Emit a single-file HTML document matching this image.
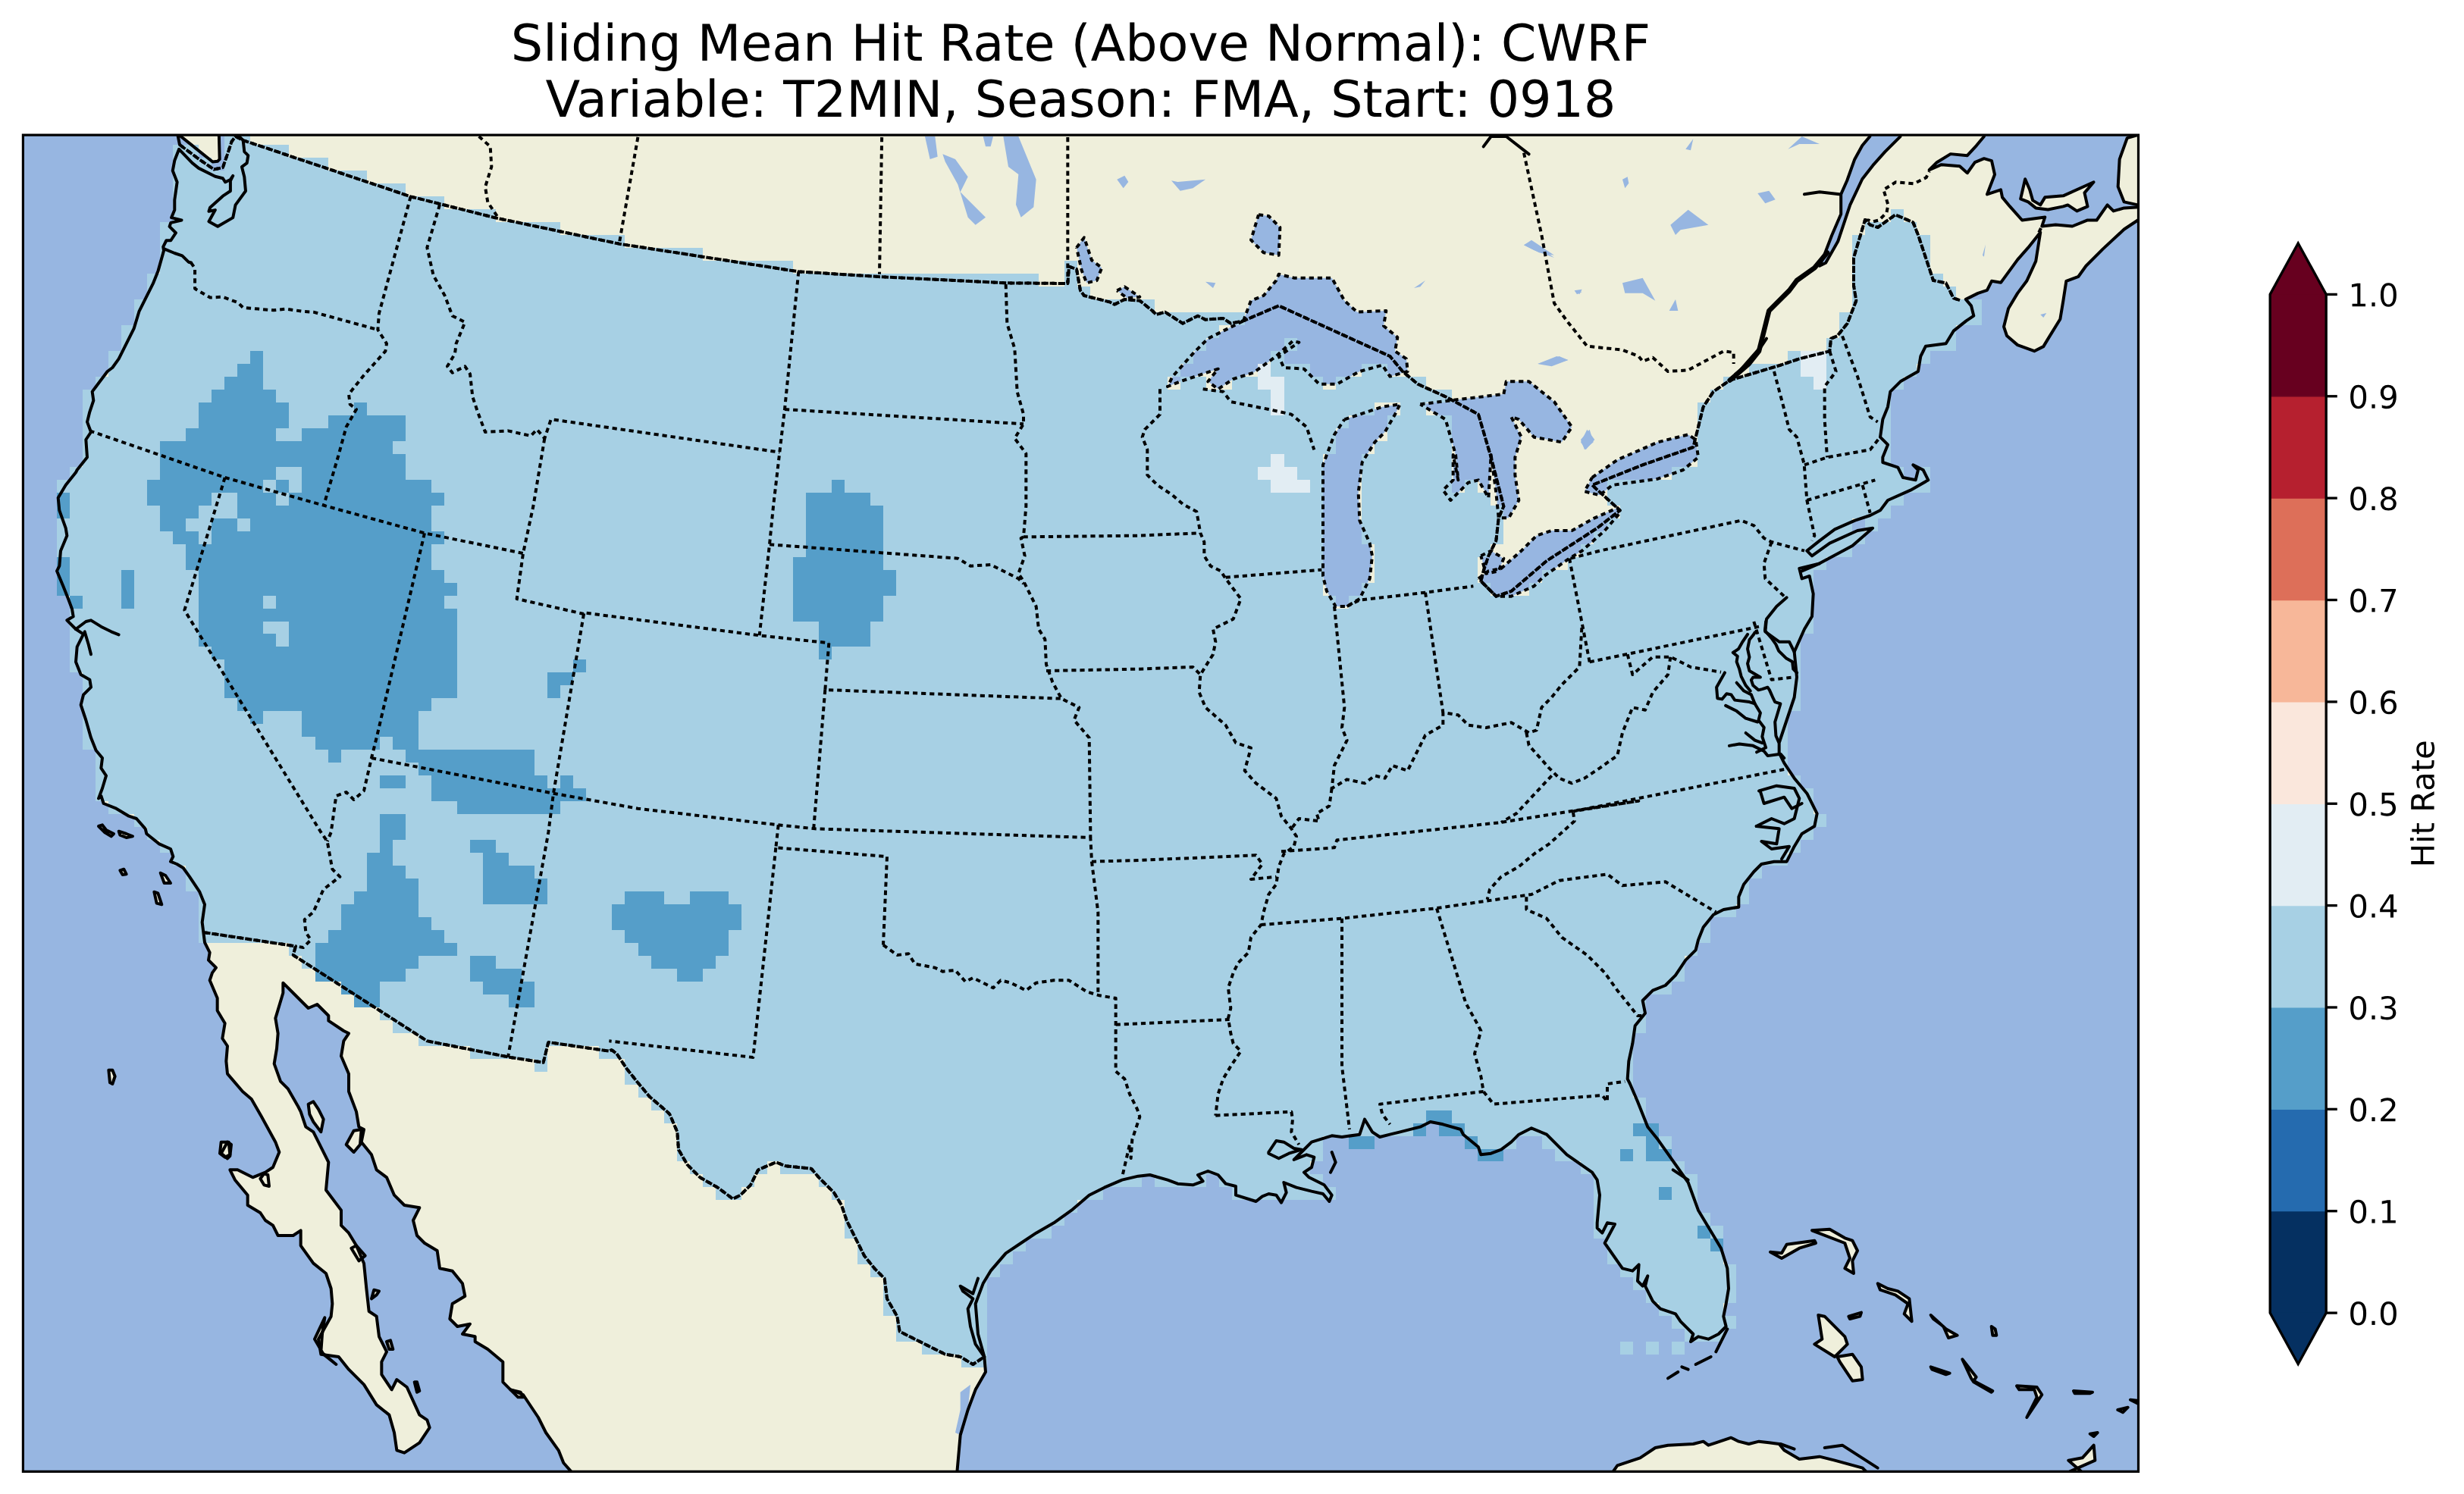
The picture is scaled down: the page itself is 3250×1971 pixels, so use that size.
<!DOCTYPE html>
<html><head><meta charset="utf-8"><style>html,body{margin:0;padding:0;background:#fff;overflow:hidden;font-family:"Liberation Sans",sans-serif;}svg{display:block}</style></head><body>
<svg xmlns:xlink="http://www.w3.org/1999/xlink" width="3250" height="1971" viewBox="0 0 780 473.04" xmlns="http://www.w3.org/2000/svg" version="1.1">
 
 <defs>
  <style type="text/css">*{stroke-linejoin: round; stroke-linecap: butt}</style>
 </defs>
 <g id="figure_1">
  <g id="patch_1">
   <path d="M 0 473.04 
L 780 473.04 
L 780 0 
L 0 0 
z
" style="fill: #ffffff"/>
  </g>
  <g id="axes_1">
   <g id="patch_2">
    <path d="M 7.296 42.768 
L 676.92 42.768 
L 676.92 465.912 
L 7.296 465.912 
L 7.296 42.768 
z
" clip-path="url(#p477be52f25)" style="fill: none"/>
   </g>
   <g id="patch_3">
    <path d="M 7.296 42.768 
L 676.92 42.768 
L 676.92 465.912 
L 7.296 465.912 
z
" clip-path="url(#p477be52f25)" style="fill: #97b6e1"/>
   </g>
   <g id="patch_4">
    <path d="M -48 -48 
L 75.744 24 
L 75.749398 43.209639 
L 76.954217 44.414458 
L 77.355823 48.028916 
L 78.560643 49.233735 
L 78.159036 51.643373 
L 76.55261 52.848193 
L 77.355823 56.061044 
L 77.75743 60.478715 
L 74.544578 64.896386 
L 73.741365 68.91245 
L 68.922088 71.723695 
L 66.110843 70.117269 
L 68.118876 66.502811 
L 66.110843 66.904418 
L 66.51245 65.699598 
L 70.528514 62.085141 
L 72.938153 60.478715 
L 72.938153 57.265863 
L 73.741365 55.659438 
L 72.938153 56.864257 
L 71.331727 57.66747 
L 70.528514 56.462651 
L 68.118876 55.860241 
L 62.897992 53.249799 
L 60.88996 51.643373 
L 56.673092 47.225703 
L 56.673092 47.225703 
L 55.26747 50.840161 
L 54.66506 54.053012 
L 56.070683 57.66747 
L 55.26747 63.28996 
L 55.26747 66.502811 
L 54.263454 68.91245 
L 57.476305 69.715663 
L 54.062651 70.518876 
L 53.661044 71.723695 
L 55.669076 73.731727 
L 54.062651 76.141365 
L 52.657028 76.141365 
L 51.653012 78.149398 
L 51.853815 79.354217 
L 50.046586 85.77992 
L 48.440161 89.795984 
L 44.02249 98.631325 
L 42.4 104 
L 37.6 113.6 
L 35.6 116.4 
L 34 117.6 
L 30.4 122.4 
L 29.2 124 
L 29.6 126.8 
L 28.4 130.4 
L 27.6 133.6 
L 28.8 136.8 
L 27.2 139.2 
L 27.6 144.8 
L 24.4 148.8 
L 24 149.6 
L 20.8 153.6 
L 18.4 157.6 
L 18.8 161.6 
L 20.8 167.2 
L 21.2 169.6 
L 19.2 174.4 
L 18.8 179.2 
L 18 180.8 
L 20 185.6 
L 21.6 189.6 
L 22.8 192.8 
L 23.2 195.2 
L 21.2 196.4 
L 24 199.2 
L 26.4 200.8 
L 24.4 204.8 
L 24 209.6 
L 25.6 213.6 
L 28.4 215.2 
L 28.8 217.6 
L 26.4 220 
L 25.6 223.2 
L 27.2 228 
L 28.8 233.6 
L 30.4 237.6 
L 32.4 240 
L 32 243.2 
L 33.6 245.6 
L 32.4 249.6 
L 31.2 252.8 
L 32 252 
L 32.8 254.4 
L 36.8 256 
L 40.8 258.4 
L 43.2 259.2 
L 46 262.4 
L 46.4 264 
L 50.4 267.2 
L 54 268.8 
L 54.8 271.2 
L 54 272.8 
L 56 273.6 
L 58 274.8 
L 60 277.6 
L 63.2 282.4 
L 64.8 286.4 
L 64 292 
L 64.4 295.2 
L 64.8 298.4 
L 66.4 301.6 
L 66 304 
L 68.4 306.4 
L 67.2 308 
L 66.4 310.4 
L 68.8 316 
L 68.8 320 
L 71.2 324 
L 70.4 328.8 
L 72 331.2 
L 71.6 336 
L 72 340 
L 76.8 345.6 
L 79.6 348 
L 82.8 353.6 
L 87.2 361.6 
L 88.4 364.8 
L 86.4 369.6 
L 84 371.2 
L 80 372.8 
L 75.2 370.4 
L 72.8 370.4 
L 74.4 373.6 
L 78.4 378.4 
L 78.4 381.6 
L 82.4 384 
L 84 386.4 
L 86.4 388 
L 88 391.2 
L 92.8 391.2 
L 95.2 389.6 
L 95.2 394.4 
L 99.2 400 
L 103.2 403.2 
L 104.8 408 
L 105.2 412.8 
L 104.8 416.8 
L 100.8 424 
L 101.6 428.8 
L 107.2 429.6 
L 110.4 433.6 
L 115.2 438.4 
L 119.2 444.8 
L 123.2 448 
L 124.8 453.6 
L 125.6 459.2 
L 128 460 
L 132.8 456.8 
L 136 452 
L 135.2 449.6 
L 132.8 448 
L 128.8 439.2 
L 125.6 436.8 
L 124 440 
L 120.8 435.2 
L 120.8 431.2 
L 122.4 428 
L 120 423.2 
L 119.2 416.8 
L 116.8 415.2 
L 116 408 
L 115.2 400 
L 112.8 394.4 
L 110.4 390.4 
L 108 388 
L 108 383.2 
L 103.2 376.8 
L 104 368 
L 100.8 361.6 
L 99.2 358.4 
L 96.8 356.8 
L 95.2 352 
L 94.4 350.4 
L 91.2 344.8 
L 88.8 342.4 
L 86.8 336.8 
L 87.6 332 
L 88 327.2 
L 87.2 322.4 
L 89.6 314.4 
L 89.6 311.2 
L 92.8 314.4 
L 97.6 319.2 
L 100.4 318 
L 104 321.6 
L 104 323.2 
L 108.8 326.4 
L 110.4 327.2 
L 108.8 329.6 
L 108 334.4 
L 110.4 340 
L 110.4 345.6 
L 112.8 352 
L 113.6 356.8 
L 115.2 357.6 
L 114.4 361.6 
L 117.6 365.6 
L 119.2 370.4 
L 122.4 372.8 
L 124.8 378.4 
L 128 381.6 
L 132.8 382.4 
L 130.8 386.4 
L 132 391.2 
L 134.4 393.6 
L 138.4 396 
L 139.2 401.6 
L 143.2 402.4 
L 146.4 406.4 
L 147.2 410.4 
L 143.2 412.8 
L 142.4 417.6 
L 144.8 420 
L 148.8 419.2 
L 146.4 422.4 
L 150.4 423.2 
L 150.4 424.8 
L 154.4 427.2 
L 159.2 431.2 
L 159.2 435.2 
L 159.2 437.6 
L 161.6 440 
L 165.6 441.6 
L 170.4 448.8 
L 172.8 453.6 
L 176.8 459.2 
L 178.4 463.2 
L 180.8 465.92 
L 184 472 
L 182.4 504 
L 302.4 504 
L 302.8 468 
L 304 454.4 
L 306.4 446.4 
L 308.8 440 
L 312 434.4 
L 311.6 429.6 
L 309.6 422.4 
L 308.8 412.8 
L 311.2 406.4 
L 313.6 402.4 
L 318.4 396.8 
L 323.2 393.6 
L 328 390.4 
L 333.6 387.2 
L 339.2 383.2 
L 344.8 378.4 
L 349.6 376 
L 355.2 373.6 
L 360.32 372.4 
L 364 372 
L 369.6 373.6 
L 372.8 374.8 
L 377.6 375.2 
L 380.8 374 
L 379.2 372 
L 382.4 370.8 
L 385.6 372 
L 388 374.8 
L 391.2 375.6 
L 391.2 378.4 
L 397.6 380.4 
L 399.6 378.8 
L 401.6 378 
L 404 378.4 
L 405.6 380.8 
L 407.2 377.6 
L 406.4 374.4 
L 410.4 376 
L 415.2 377.2 
L 418.8 378 
L 420.8 380.4 
L 421.6 378.4 
L 419.2 375.2 
L 414.4 372.8 
L 412.8 371.2 
L 415.2 369.6 
L 416 366.4 
L 413.6 365.6 
L 409.6 367.2 
L 412 364.8 
L 415.2 361.6 
L 421.6 359.6 
L 424.8 360 
L 430.4 359.2 
L 432 354.4 
L 434.4 358.4 
L 436.8 360 
L 440 359.2 
L 443.2 358.4 
L 449.6 356.8 
L 452.8 355.2 
L 456.8 356 
L 462.4 357.6 
L 463.2 359.2 
L 468 363.2 
L 468.8 365.6 
L 472 365.2 
L 475.2 364 
L 478.4 361.6 
L 480.8 359.2 
L 484.8 357.2 
L 489.6 359.2 
L 496 365.6 
L 504 371.2 
L 505.6 373.6 
L 506.4 378.4 
L 505.6 387.2 
L 505.6 388.8 
L 507.2 390.4 
L 508.8 387.2 
L 511.2 387.6 
L 508 393.6 
L 513.6 401.6 
L 516.8 402.4 
L 518.8 400.4 
L 518.4 405.6 
L 520 407.2 
L 521.6 404 
L 520.8 407.2 
L 523.2 412 
L 525.6 414.4 
L 530.4 416 
L 532 418.4 
L 536 422.4 
L 535.2 424.8 
L 537.6 423.2 
L 540.8 424 
L 544 422.4 
L 546.4 420 
L 545.6 416.8 
L 546.4 412.8 
L 547.2 408 
L 546.8 401.6 
L 544.8 395.2 
L 542.4 391.2 
L 537.6 383.2 
L 534.4 374.4 
L 524.8 360.8 
L 521.6 356.8 
L 518.4 348.8 
L 516 343.2 
L 515.2 341.6 
L 515.6 336 
L 516.8 330.4 
L 517.6 324.8 
L 520.8 320.8 
L 520 316.8 
L 523.2 313.6 
L 527.2 312 
L 530.4 308.8 
L 533.6 304 
L 536.8 300.8 
L 537.6 297.6 
L 539.2 293.6 
L 542.4 289.6 
L 545.6 288 
L 550.4 287.2 
L 550.4 284 
L 552 280 
L 555.2 276 
L 557.6 273.6 
L 561.6 272.8 
L 565.6 272.8 
L 568 268 
L 570.4 264 
L 574.4 261.6 
L 575.2 257.6 
L 572 251.2 
L 568 246.4 
L 564.8 241.6 
L 563.2 238.4 
L 563.2 235.2 
L 565.6 228 
L 568 220.8 
L 568.8 214.4 
L 568 206.4 
L 571.2 199.2 
L 573.6 195.2 
L 574 188 
L 572.8 182.4 
L 570.4 183.2 
L 569.6 180 
L 576 178.4 
L 586.4 172.8 
L 592.8 167.2 
L 588 168 
L 579.2 172 
L 573.6 176 
L 572 174.4 
L 576 171.2 
L 580.8 167.6 
L 587.2 164.8 
L 592 163.2 
L 595.2 161.6 
L 597.6 158.4 
L 604.8 155.2 
L 610.4 152 
L 608.8 148.8 
L 605.6 147.2 
L 607.2 148.8 
L 606.4 152 
L 602.4 151.2 
L 600.8 148 
L 596 146.4 
L 596 144.8 
L 597.6 140.8 
L 595.2 138.4 
L 596 132.8 
L 597.6 128.8 
L 598.4 124 
L 601.6 120.8 
L 607.2 117.6 
L 608 112.8 
L 609.6 109.6 
L 616 108.8 
L 618.4 104.8 
L 622.4 101.6 
L 624.8 100 
L 624 96.8 
L 622.284337 94.775904 
L 626.139759 92.848193 
L 629.031325 91.884337 
L 630.477108 88.992771 
L 633.368675 89.474699 
L 638.66988 82.245783 
L 642.043373 78.390361 
L 645.898795 73.571084 
L 644.453012 82.727711 
L 641.561446 88.992771 
L 638.66988 92.848193 
L 635.778313 97.66747 
L 634.33253 103.450602 
L 635.296386 106.342169 
L 638.66988 109.233735 
L 643.971084 111.161446 
L 646.862651 109.715663 
L 648.308434 107.306024 
L 652.163855 101.040964 
L 653.127711 95.257831 
L 654.091566 88.992771 
L 657.946988 87.546988 
L 660.356627 84.173494 
L 665.657831 78.872289 
L 672.404819 72.607229 
L 676.742169 69.715663 
L 696 69.6 
L 696 64.32 
L 672.404819 65.860241 
L 669.031325 66.824096 
L 667.103614 64.896386 
L 663.73012 69.715663 
L 660.838554 69.715663 
L 656.019277 71.643373 
L 650.718072 71.161446 
L 646.380723 71.643373 
L 647.344578 68.751807 
L 640.115663 69.715663 
L 636.260241 65.378313 
L 633.850602 62.486747 
L 633.368675 60.077108 
L 629.031325 61.522892 
L 631.440964 55.257831 
L 630.477108 50.920482 
L 628.06747 50.19759 
L 625.175904 51.40241 
L 622.766265 54.775904 
L 620.356627 52.607229 
L 614.573494 52.125301 
L 610.718072 53.812048 
L 613.127711 51.40241 
L 617.46506 48.751807 
L 622.766265 49.233735 
L 625.657831 46.101205 
L 628.06747 43.209639 
L 628.549398 35.980723 
L 601.561446 35.980723 
L 601.561446 43.209639 
L 596.742169 48.028916 
L 592.886747 52.366265 
L 589.513253 56.703614 
L 585.657831 64.896386 
L 581.80241 76.462651 
L 577.946988 83.209639 
L 576.019277 84.173494 
L 577.46506 80.8 
L 579.874699 74.53494 
L 582.766265 67.787952 
L 582.766265 61.522892 
L 584.693976 57.185542 
L 587.103614 50.438554 
L 589.513253 46.101205 
L 591.922892 43.209639 
L 592.404819 35.980723 
z
" clip-path="url(#pce07e9bbc1)" style="fill: #efefdb"/>
   </g>
   <g id="patch_5">
    <path d="M 56.271486 36.783936 
L 56.271486 42.406426 
L 67.315663 51.241767 
L 68.922088 51.040964 
L 69.524498 50.438554 
L 69.323695 42.406426 
L 69.323695 36.783936 
z
" clip-path="url(#pce07e9bbc1)" style="fill: #efefdb"/>
   </g>
   <g id="patch_6">
    <path d="M 676.742169 35.980723 
L 676.742169 42.727711 
L 673.368675 43.691566 
L 670.959036 50.438554 
L 670.477108 59.113253 
L 672.404819 63.93253 
L 676.742169 64.896386 
L 682.043373 64.896386 
L 682.043373 35.980723 
z
" clip-path="url(#pce07e9bbc1)" style="fill: #efefdb"/>
   </g>
   <g id="patch_7">
    <path d="M 639.633735 62.968675 
L 641.079518 56.703614 
L 642.525301 60.077108 
L 643.489157 63.450602 
L 645.898795 64.896386 
L 647.344578 62.486747 
L 653.127711 62.004819 
L 662.766265 57.66747 
L 659.874699 61.040964 
L 660.838554 65.378313 
L 657.46506 66.824096 
L 654.573494 64.896386 
L 653.127711 65.378313 
L 648.308434 66.342169 
L 644.453012 65.860241 
L 642.043373 63.93253 
z
" clip-path="url(#pce07e9bbc1)" style="fill: #efefdb"/>
   </g>
   <g id="patch_8">
    <path d="M 31.2 261.6 
L 32.4 261.2 
L 33.6 262.8 
L 36 264 
L 35.2 264.8 
L 33.2 263.6 
z
" clip-path="url(#pce07e9bbc1)" style="fill: #efefdb"/>
   </g>
   <g id="patch_9">
    <path d="M 37.6 263.2 
L 40 264 
L 42 264.8 
L 40 265.2 
L 38 264.4 
z
" clip-path="url(#pce07e9bbc1)" style="fill: #efefdb"/>
   </g>
   <g id="patch_10">
    <path d="M 38 275.6 
L 39.2 275.2 
L 40 276.8 
L 38.8 276.96 
z
" clip-path="url(#pce07e9bbc1)" style="fill: #efefdb"/>
   </g>
   <g id="patch_11">
    <path d="M 50.8 276.4 
L 52.4 277.2 
L 54 279.6 
L 52 279.6 
z
" clip-path="url(#pce07e9bbc1)" style="fill: #efefdb"/>
   </g>
   <g id="patch_12">
    <path d="M 48.8 282.4 
L 50 282.8 
L 51.2 286.4 
L 49.6 286 
z
" clip-path="url(#pce07e9bbc1)" style="fill: #efefdb"/>
   </g>
   <g id="patch_13">
    <path d="M 34.4 338.8 
L 35.6 338.8 
L 36.4 340.8 
L 35.6 343.2 
L 34.8 342.8 
z
" clip-path="url(#pce07e9bbc1)" style="fill: #efefdb"/>
   </g>
   <g id="patch_14">
    <path d="M 70 361.6 
L 72.4 361.6 
L 72.8 365.6 
L 71.2 366.4 
L 69.6 365.2 
z
" clip-path="url(#pce07e9bbc1)" style="fill: #efefdb"/>
   </g>
   <g id="patch_15">
    <path d="M 97.6 349.6 
L 99.2 348.8 
L 100.8 351.2 
L 102.4 354.4 
L 101.6 358.4 
L 99.2 355.2 
L 98 352.8 
z
" clip-path="url(#pce07e9bbc1)" style="fill: #efefdb"/>
   </g>
   <g id="patch_16">
    <path d="M 109.6 362.4 
L 112 358 
L 114.4 357.6 
L 114 362.4 
L 112 364.8 
z
" clip-path="url(#pce07e9bbc1)" style="fill: #efefdb"/>
   </g>
   <g id="patch_17">
    <path d="M 70 365.2 
L 72 361.6 
L 73.2 362.4 
L 72.8 366 
L 72 366.8 
z
" clip-path="url(#pce07e9bbc1)" style="fill: #efefdb"/>
   </g>
   <g id="patch_18">
    <path d="M 82.4 373.2 
L 83.6 371.6 
L 84.8 372 
L 85.2 375.6 
L 83.6 375.2 
z
" clip-path="url(#pce07e9bbc1)" style="fill: #efefdb"/>
   </g>
   <g id="patch_19">
    <path d="M 111.2 395.2 
L 112.8 394.4 
L 115.6 397.6 
L 113.6 399.2 
z
" clip-path="url(#pce07e9bbc1)" style="fill: #efefdb"/>
   </g>
   <g id="patch_20">
    <path d="M 117.6 411.2 
L 118.4 408.4 
L 120 408.8 
L 119.2 410 
z
" clip-path="url(#pce07e9bbc1)" style="fill: #efefdb"/>
   </g>
   <g id="patch_21">
    <path d="M 122.4 424.8 
L 123.6 424.4 
L 124.4 427.2 
L 123.2 427.2 
z
" clip-path="url(#pce07e9bbc1)" style="fill: #efefdb"/>
   </g>
   <g id="patch_22">
    <path d="M 131.2 437.6 
L 132 437.6 
L 132.8 440.4 
L 132 440.8 
z
" clip-path="url(#pce07e9bbc1)" style="fill: #efefdb"/>
   </g>
   <g id="patch_23">
    <path d="M 161.6 440 
L 164.8 440.8 
L 165.6 442.4 
L 164 442.4 
z
" clip-path="url(#pce07e9bbc1)" style="fill: #efefdb"/>
   </g>
   <g id="patch_24">
    <path d="M 99.6 424 
L 102.8 417.2 
L 102 422.4 
L 101.6 428 
L 106.4 432 
L 102.4 428.8 
z
" clip-path="url(#pce07e9bbc1)" style="fill: #efefdb"/>
   </g>
   <g id="patch_25">
    <path d="M 560.4 396.4 
L 564 398.4 
L 569.6 395.2 
L 574.8 393.6 
L 574.4 392.8 
L 565.6 394 
L 564 396.8 
z
" clip-path="url(#pce07e9bbc1)" style="fill: #efefdb"/>
   </g>
   <g id="patch_26">
    <path d="M 573.6 389.6 
L 579.2 389.2 
L 584 392 
L 586.4 392.8 
L 588 396 
L 586.4 399.2 
L 586.8 403.2 
L 584 401.6 
L 585.6 398.4 
L 584 393.6 
z
" clip-path="url(#pce07e9bbc1)" style="fill: #efefdb"/>
   </g>
   <g id="patch_27">
    <path d="M 575.6 416.4 
L 577.6 416.8 
L 584 423.2 
L 584.8 425.6 
L 580.8 429.6 
L 574.4 425.6 
L 576.8 424 
z
" clip-path="url(#pce07e9bbc1)" style="fill: #efefdb"/>
   </g>
   <g id="patch_28">
    <path d="M 581.6 429.6 
L 586.4 428.8 
L 589.2 432.8 
L 589.6 436.8 
L 586.4 437.2 
L 582.4 431.2 
z
" clip-path="url(#pce07e9bbc1)" style="fill: #efefdb"/>
   </g>
   <g id="patch_29">
    <path d="M 594.4 406.4 
L 597.6 408 
L 600.8 408.8 
L 604.4 411.2 
L 605.2 418.4 
L 602.8 416 
L 604 412.8 
L 600 410 
L 595.2 408.4 
z
" clip-path="url(#pce07e9bbc1)" style="fill: #efefdb"/>
   </g>
   <g id="patch_30">
    <path d="M 585.2 416.8 
L 589.2 415.6 
L 588.8 416.8 
L 585.6 417.6 
z
" clip-path="url(#pce07e9bbc1)" style="fill: #efefdb"/>
   </g>
   <g id="patch_31">
    <path d="M 611.2 416.4 
L 616 420.8 
L 619.6 422.8 
L 616.8 423.6 
L 615.2 420 
L 612 417.6 
z
" clip-path="url(#pce07e9bbc1)" style="fill: #efefdb"/>
   </g>
   <g id="patch_32">
    <path d="M 630.4 420 
L 631.6 420.8 
L 632 422.8 
L 630.8 422.8 
z
" clip-path="url(#pce07e9bbc1)" style="fill: #efefdb"/>
   </g>
   <g id="patch_33">
    <path d="M 611.2 432.8 
L 617.2 434.8 
L 616 435.2 
L 611.6 433.6 
z
" clip-path="url(#pce07e9bbc1)" style="fill: #efefdb"/>
   </g>
   <g id="patch_34">
    <path d="M 621.2 430.4 
L 625.6 436 
L 624.8 437.2 
L 630.8 440.4 
L 630.4 440.8 
L 624.8 437.6 
L 624 436.4 
z
" clip-path="url(#pce07e9bbc1)" style="fill: #efefdb"/>
   </g>
   <g id="patch_35">
    <path d="M 638.4 438.8 
L 644.8 439.2 
L 646.4 441.6 
L 641.6 448.8 
L 644.8 442.4 
L 644 440 
L 639.2 440 
z
" clip-path="url(#pce07e9bbc1)" style="fill: #efefdb"/>
   </g>
   <g id="patch_36">
    <path d="M 656.4 440.4 
L 662.4 440.8 
L 661.6 441.2 
L 656.8 441.2 
z
" clip-path="url(#pce07e9bbc1)" style="fill: #efefdb"/>
   </g>
   <g id="patch_37">
    <path d="M 670.4 446.4 
L 673.6 445.6 
L 672 447.2 
z
" clip-path="url(#pce07e9bbc1)" style="fill: #efefdb"/>
   </g>
   <g id="patch_38">
    <path d="M 674.4 443.2 
L 677.6 443.6 
L 677.6 444.8 
z
" clip-path="url(#pce07e9bbc1)" style="fill: #efefdb"/>
   </g>
   <g id="patch_39">
    <path d="M 661.6 454 
L 664 453.6 
L 662.8 454.8 
z
" clip-path="url(#pce07e9bbc1)" style="fill: #efefdb"/>
   </g>
   <g id="patch_40">
    <path d="M 654.8 462.4 
L 659.2 461.6 
L 662.8 457.6 
L 663.2 462.4 
L 655.2 465.92 
L 655.2 470.4 
L 664 470.4 
z
" clip-path="url(#pce07e9bbc1)" style="fill: #efefdb"/>
   </g>
   <g id="patch_41">
    <path d="M 506.4 472 
L 512 464 
L 519.2 461.6 
L 524 458.4 
L 528 457.6 
L 536 457.2 
L 539.2 456.4 
L 540.8 457.6 
L 543.2 456.8 
L 548 455.2 
L 550.4 456.4 
L 553.6 457.2 
L 556.8 456.4 
L 560 456.8 
L 563.2 457.2 
L 564.8 459.2 
L 569.6 462 
L 576 461.2 
L 580.8 462.4 
L 589.6 464.8 
L 596.8 472 
z
" clip-path="url(#pce07e9bbc1)" style="fill: #efefdb"/>
   </g>
   <g id="patch_42">
    <path d="M 393.6 101.6 
L 396 95.2 
L 400 93.6 
L 404 88.8 
L 404.8 86.8 
L 409.6 88 
L 421.6 88 
L 425.6 95.2 
L 429.6 98.8 
L 438.8 98.4 
L 438 103.2 
L 442.4 106.8 
L 441.6 111.2 
L 445.2 113.6 
L 445.6 117.6 
L 440 119.2 
L 437.6 115.6 
L 430.4 117.6 
L 423.2 121.6 
L 417.6 121.6 
L 412.8 116.8 
L 406.4 116.4 
L 404.8 112.8 
L 411.2 108.4 
L 409.2 108 
L 404 112.8 
L 396.8 118 
L 390.4 120 
L 385.6 123.2 
L 382.4 120.8 
L 385.6 116.8 
L 380.8 118.4 
L 373.6 120.8 
L 369.6 122.4 
L 371.2 119.2 
L 377.6 112 
L 382.4 107.2 
L 388.8 104 
z
" clip-path="url(#pce07e9bbc1)" style="fill: #97b6e1"/>
   </g>
   <g id="patch_43">
    <path d="M 425.6 132.8 
L 437.6 128.8 
L 443.2 128 
L 441.6 131.2 
L 438.4 136.8 
L 435.2 140 
L 431.2 146.4 
L 430 156 
L 430.4 164.8 
L 433.6 172 
L 434.4 176 
L 433.6 183.2 
L 430.4 189.6 
L 426.4 192 
L 422.8 192 
L 420 187.2 
L 418.8 182.4 
L 418.8 168 
L 418.8 148.8 
L 418.8 147.2 
L 422.4 137.6 
z
" clip-path="url(#pce07e9bbc1)" style="fill: #97b6e1"/>
   </g>
   <g id="patch_44">
    <path d="M 449.6 128 
L 462.4 126.4 
L 476 124.8 
L 476.8 120.8 
L 484 120.8 
L 492 127.2 
L 497.6 135.2 
L 494.4 140 
L 485.6 138.4 
L 480.8 132.8 
L 478.4 132 
L 481.6 138.4 
L 479.6 144.8 
L 479.6 150.4 
L 480.8 158.4 
L 477.6 164 
L 474.4 164 
L 473.6 156 
L 472 144 
L 471.2 157.6 
L 468 152 
L 464.8 152.8 
L 459.2 158.4 
L 456.8 155.2 
L 460 152 
L 460 144 
L 461.6 152 
L 460.8 144 
L 457.6 132.8 
z
" clip-path="url(#pce07e9bbc1)" style="fill: #97b6e1"/>
   </g>
   <g id="patch_45">
    <path d="M 468 183.2 
L 471.2 180.8 
L 475.2 180 
L 481.6 174.4 
L 486.4 169.6 
L 491.2 168 
L 497.6 168 
L 504.8 164 
L 512 160.8 
L 512.8 162.4 
L 508 168 
L 500.8 174.4 
L 496.8 176.8 
L 488.8 182.4 
L 485.6 185.6 
L 478.4 188.8 
L 473.6 188.8 
L 470.4 185.6 
z
" clip-path="url(#pce07e9bbc1)" style="fill: #97b6e1"/>
   </g>
   <g id="patch_46">
    <path d="M 504 151.2 
L 512 145.6 
L 524.8 140 
L 534.4 137.6 
L 536.8 139.2 
L 537.6 144.8 
L 532.8 148.8 
L 524.8 151.6 
L 510.4 153.6 
L 506.4 156.8 
L 501.6 155.6 
z
" clip-path="url(#pce07e9bbc1)" style="fill: #97b6e1"/>
   </g>
   <g id="patch_47">
    <path d="M 468.8 176 
L 472 174.4 
L 476 176.8 
L 474.4 180.8 
L 470.4 181.6 
z
" clip-path="url(#pce07e9bbc1)" style="fill: #97b6e1"/>
   </g>
   <g id="patch_48">
    <path d="M 398.4 68 
L 401.6 68.4 
L 405.2 72 
L 404.8 80.8 
L 400 80 
L 396 76 
z
" clip-path="url(#pce07e9bbc1)" style="fill: #97b6e1"/>
   </g>
   <g id="patch_49">
    <path d="M 340.8 78.4 
L 343.2 75.2 
L 345.6 82.4 
L 348.8 84.8 
L 347.2 88.8 
L 344 89.6 
L 342.4 85.6 
z
" clip-path="url(#pce07e9bbc1)" style="fill: #97b6e1"/>
   </g>
   <g id="patch_50">
    <path d="M 353.6 92 
L 356 90.8 
L 360.8 94 
L 356.8 94.4 
z
" clip-path="url(#pce07e9bbc1)" style="fill: #97b6e1"/>
   </g>
   <g id="patch_51">
    <path d="M 353.6 56.8 
L 356 55.6 
L 357.2 57.6 
L 355.6 59.6 
z
" clip-path="url(#pce07e9bbc1)" style="fill: #97b6e1"/>
   </g>
   <g id="patch_52">
    <path d="M 370.8 57.2 
L 372.8 57.6 
L 381.6 56.8 
L 377.6 59.6 
L 373.6 60.4 
z
" clip-path="url(#pce07e9bbc1)" style="fill: #97b6e1"/>
   </g>
   <g id="patch_53">
    <path d="M 381.6 89.2 
L 384.8 89.6 
L 384 91.2 
z
" clip-path="url(#pce07e9bbc1)" style="fill: #97b6e1"/>
   </g>
   <g id="patch_54">
    <path d="M 447.6 91.2 
L 451.2 88.8 
L 449.6 90.8 
z
" clip-path="url(#pce07e9bbc1)" style="fill: #97b6e1"/>
   </g>
   <g id="patch_55">
    <path d="M 482.4 77.6 
L 484.8 76.4 
L 492 81.6 
L 485.6 79.2 
z
" clip-path="url(#pce07e9bbc1)" style="fill: #97b6e1"/>
   </g>
   <g id="patch_56">
    <path d="M 486.8 115.2 
L 493.6 112.8 
L 496.4 114 
L 491.2 116 
z
" clip-path="url(#pce07e9bbc1)" style="fill: #97b6e1"/>
   </g>
   <g id="patch_57">
    <path d="M 498.4 92 
L 500.8 92.4 
L 499.2 93.2 
z
" clip-path="url(#pce07e9bbc1)" style="fill: #97b6e1"/>
   </g>
   <g id="patch_58">
    <path d="M 513.6 56.8 
L 515.2 56 
L 515.6 58 
L 514.4 59.6 
z
" clip-path="url(#pce07e9bbc1)" style="fill: #97b6e1"/>
   </g>
   <g id="patch_59">
    <path d="M 500.4 140 
L 502.4 136 
L 504.8 139.2 
L 502 142.4 
z
" clip-path="url(#pce07e9bbc1)" style="fill: #97b6e1"/>
   </g>
   <g id="patch_60">
    <path d="M 292.8 43.2 
L 296 43.2 
L 296.8 49.6 
L 294.4 50.4 
z
" clip-path="url(#pce07e9bbc1)" style="fill: #97b6e1"/>
   </g>
   <g id="patch_61">
    <path d="M 298.4 48.8 
L 302.4 50.4 
L 306.4 56 
L 304 60.8 
L 312 68.8 
L 308.8 71.2 
L 306.4 68.8 
L 303.2 58.4 
L 299.2 51.2 
z
" clip-path="url(#pce07e9bbc1)" style="fill: #97b6e1"/>
   </g>
   <g id="patch_62">
    <path d="M 317.6 43.2 
L 322.4 43.2 
L 328 56.8 
L 327.2 65.6 
L 323.2 68.8 
L 321.6 64.8 
L 322.4 55.2 
L 319.2 52.8 
z
" clip-path="url(#pce07e9bbc1)" style="fill: #97b6e1"/>
   </g>
   <g id="patch_63">
    <path d="M 311.2 43.2 
L 314.4 43.2 
L 313.6 46.4 
L 312 46.4 
z
" clip-path="url(#pce07e9bbc1)" style="fill: #97b6e1"/>
   </g>
   <g id="patch_64">
    <path d="M 556.4 61.2 
L 560 60.4 
L 562 63.2 
L 558.8 64.4 
z
" clip-path="url(#pce07e9bbc1)" style="fill: #97b6e1"/>
   </g>
   <g id="patch_65">
    <path d="M 528.8 71.2 
L 534.4 66.4 
L 540.8 71.2 
L 532 72.8 
L 530.4 74.4 
z
" clip-path="url(#pce07e9bbc1)" style="fill: #97b6e1"/>
   </g>
   <g id="patch_66">
    <path d="M 482.4 77.6 
L 484.8 76 
L 492 80.8 
L 487.2 80 
z
" clip-path="url(#pce07e9bbc1)" style="fill: #97b6e1"/>
   </g>
   <g id="patch_67">
    <path d="M 513.6 89.6 
L 520 88 
L 524 95.2 
L 520 92.8 
L 514.4 92.8 
z
" clip-path="url(#pce07e9bbc1)" style="fill: #97b6e1"/>
   </g>
   <g id="patch_68">
    <path d="M 528.4 98.4 
L 530.4 94.8 
L 531.2 98.4 
z
" clip-path="url(#pce07e9bbc1)" style="fill: #97b6e1"/>
   </g>
   <g id="patch_69">
    <path d="M 498.4 92 
L 500.8 91.6 
L 500 93.2 
z
" clip-path="url(#pce07e9bbc1)" style="fill: #97b6e1"/>
   </g>
   <g id="patch_70">
    <path d="M 486.8 115.2 
L 492.8 112.8 
L 496.4 114 
L 491.2 115.6 
z
" clip-path="url(#pce07e9bbc1)" style="fill: #97b6e1"/>
   </g>
   <g id="patch_71">
    <path d="M 500.4 139.2 
L 503.2 136 
L 504.4 140 
L 501.6 142.4 
z
" clip-path="url(#pce07e9bbc1)" style="fill: #97b6e1"/>
   </g>
   <g id="patch_72">
    <path d="M 533.6 47.2 
L 536 44 
L 535.2 47.6 
z
" clip-path="url(#pce07e9bbc1)" style="fill: #97b6e1"/>
   </g>
   <g id="patch_73">
    <path d="M 566 47.2 
L 570.4 43.2 
L 576 45.6 
L 569.6 45.6 
z
" clip-path="url(#pce07e9bbc1)" style="fill: #97b6e1"/>
   </g>
   <g id="patch_74">
    <path d="M 627.585542 80.8 
L 628.549398 77.426506 
L 628.06747 81.281928 
z
" clip-path="url(#pce07e9bbc1)" style="fill: #97b6e1"/>
   </g>
   <g id="patch_75">
    <path d="M 645.898795 99.595181 
L 647.826506 99.113253 
L 646.862651 100.559036 
z
" clip-path="url(#pce07e9bbc1)" style="fill: #97b6e1"/>
   </g>
   <g id="patch_76">
    <path d="M 304 440.8 
L 307.2 438.4 
L 306.4 446.4 
L 304 454.4 
L 302.4 453.6 
L 304 446.4 
z
" clip-path="url(#pce07e9bbc1)" style="fill: #97b6e1"/>
   </g>
   <g id="patch_77">
    <path d="M 71.04 41.76 
L 79.2 41.76 
L 79.2 45.84 
L 71.04 45.84 
z
M 54.72 45.84 
L 62.88 45.84 
L 62.88 49.92 
L 54.72 49.92 
z
M 71.04 45.84 
L 91.44 45.84 
L 91.44 49.92 
L 71.04 49.92 
z
M 54.72 49.92 
L 66.96 49.92 
L 66.96 54 
L 54.72 54 
z
M 71.04 49.92 
L 103.92 49.92 
L 103.92 54 
L 71.04 54 
z
M 54.72 54 
L 116.16 54 
L 116.16 58.08 
L 54.72 58.08 
z
M 54.72 58.08 
L 128.4 58.08 
L 128.4 62.16 
L 54.72 62.16 
z
M 54.72 62.16 
L 140.64 62.16 
L 140.64 66.24 
L 54.72 66.24 
z
M 54.72 66.24 
L 156.96 66.24 
L 156.96 70.32 
L 54.72 70.32 
z
M 598.56 66.24 
L 602.64 66.24 
L 602.64 70.32 
L 598.56 70.32 
z
M 50.64 70.32 
L 177.36 70.32 
L 177.36 74.4 
L 50.64 74.4 
z
M 590.4 70.32 
L 606.72 70.32 
L 606.72 74.4 
L 590.4 74.4 
z
M 50.64 74.4 
L 197.76 74.4 
L 197.76 78.48 
L 50.64 78.48 
z
M 586.32 74.4 
L 611.04 74.4 
L 611.04 78.48 
L 586.32 78.48 
z
M 50.64 78.48 
L 222.48 78.48 
L 222.48 82.56 
L 50.64 82.56 
z
M 586.32 78.48 
L 611.04 78.48 
L 611.04 82.56 
L 586.32 82.56 
z
M 50.64 82.56 
L 251.04 82.56 
L 251.04 86.64 
L 50.64 86.64 
z
M 336.96 82.56 
L 341.04 82.56 
L 341.04 86.64 
L 336.96 86.64 
z
M 586.32 82.56 
L 611.04 82.56 
L 611.04 86.64 
L 586.32 86.64 
z
M 46.56 86.64 
L 328.8 86.64 
L 328.8 90.72 
L 46.56 90.72 
z
M 336.96 86.64 
L 341.04 86.64 
L 341.04 90.72 
L 336.96 90.72 
z
M 586.32 86.64 
L 615.12 86.64 
L 615.12 90.72 
L 586.32 90.72 
z
M 46.56 90.72 
L 345.12 90.72 
L 345.12 94.8 
L 46.56 94.8 
z
M 586.32 90.72 
L 619.2 90.72 
L 619.2 94.8 
L 586.32 94.8 
z
M 42.48 94.8 
L 365.52 94.8 
L 365.52 98.88 
L 42.48 98.88 
z
M 586.32 94.8 
L 627.36 94.8 
L 627.36 98.88 
L 586.32 98.88 
z
M 42.48 98.88 
L 394.08 98.88 
L 394.08 102.96 
L 42.48 102.96 
z
M 582.24 98.88 
L 627.36 98.88 
L 627.36 102.96 
L 582.24 102.96 
z
M 38.4 102.96 
L 385.92 102.96 
L 385.92 107.04 
L 38.4 107.04 
z
M 582.24 102.96 
L 619.2 102.96 
L 619.2 107.04 
L 582.24 107.04 
z
M 38.4 107.04 
L 381.84 107.04 
L 381.84 111.12 
L 38.4 111.12 
z
M 406.56 107.04 
L 410.64 107.04 
L 410.64 111.12 
L 406.56 111.12 
z
M 578.16 107.04 
L 619.2 107.04 
L 619.2 111.12 
L 578.16 111.12 
z
M 34.32 111.12 
L 79.2 111.12 
L 79.2 115.2 
L 34.32 115.2 
z
M 83.28 111.12 
L 377.76 111.12 
L 377.76 115.2 
L 83.28 115.2 
z
M 402.24 111.12 
L 406.56 111.12 
L 406.56 115.2 
L 402.24 115.2 
z
M 565.92 111.12 
L 570 111.12 
L 570 115.2 
L 565.92 115.2 
z
M 578.16 111.12 
L 611.04 111.12 
L 611.04 115.2 
L 578.16 115.2 
z
M 34.32 115.2 
L 75.12 115.2 
L 75.12 119.28 
L 34.32 119.28 
z
M 83.28 115.2 
L 373.68 115.2 
L 373.68 119.28 
L 83.28 119.28 
z
M 402.24 115.2 
L 414.72 115.2 
L 414.72 119.28 
L 402.24 119.28 
z
M 431.04 115.2 
L 439.2 115.2 
L 439.2 119.28 
L 431.04 119.28 
z
M 553.68 115.2 
L 570 115.2 
L 570 119.28 
L 553.68 119.28 
z
M 578.16 115.2 
L 606.72 115.2 
L 606.72 119.28 
L 578.16 119.28 
z
M 30.24 119.28 
L 71.04 119.28 
L 71.04 123.36 
L 30.24 123.36 
z
M 83.28 119.28 
L 369.6 119.28 
L 369.6 123.36 
L 83.28 123.36 
z
M 373.68 119.28 
L 381.84 119.28 
L 381.84 123.36 
L 373.68 123.36 
z
M 390 119.28 
L 398.16 119.28 
L 398.16 123.36 
L 390 123.36 
z
M 406.56 119.28 
L 418.8 119.28 
L 418.8 123.36 
L 406.56 123.36 
z
M 422.88 119.28 
L 451.44 119.28 
L 451.44 123.36 
L 422.88 123.36 
z
M 545.52 119.28 
L 574.08 119.28 
L 574.08 123.36 
L 545.52 123.36 
z
M 578.16 119.28 
L 602.64 119.28 
L 602.64 123.36 
L 578.16 123.36 
z
M 26.16 123.36 
L 66.96 123.36 
L 66.96 127.44 
L 26.16 127.44 
z
M 87.36 123.36 
L 402.24 123.36 
L 402.24 127.44 
L 87.36 127.44 
z
M 406.56 123.36 
L 459.6 123.36 
L 459.6 127.44 
L 406.56 127.44 
z
M 541.44 123.36 
L 598.56 123.36 
L 598.56 127.44 
L 541.44 127.44 
z
M 26.16 127.44 
L 62.88 127.44 
L 62.88 131.52 
L 26.16 131.52 
z
M 91.44 127.44 
L 112.08 127.44 
L 112.08 131.52 
L 91.44 131.52 
z
M 116.16 127.44 
L 402.24 127.44 
L 402.24 131.52 
L 116.16 131.52 
z
M 406.56 127.44 
L 435.12 127.44 
L 435.12 131.52 
L 406.56 131.52 
z
M 443.28 127.44 
L 451.44 127.44 
L 451.44 131.52 
L 443.28 131.52 
z
M 537.36 127.44 
L 598.56 127.44 
L 598.56 131.52 
L 537.36 131.52 
z
M 26.16 131.52 
L 62.88 131.52 
L 62.88 135.6 
L 26.16 135.6 
z
M 91.44 131.52 
L 103.92 131.52 
L 103.92 135.6 
L 91.44 135.6 
z
M 128.4 131.52 
L 426.96 131.52 
L 426.96 135.6 
L 128.4 135.6 
z
M 439.2 131.52 
L 459.6 131.52 
L 459.6 135.6 
L 439.2 135.6 
z
M 537.36 131.52 
L 598.56 131.52 
L 598.56 135.6 
L 537.36 135.6 
z
M 26.16 135.6 
L 58.8 135.6 
L 58.8 139.68 
L 26.16 139.68 
z
M 87.36 135.6 
L 95.52 135.6 
L 95.52 139.68 
L 87.36 139.68 
z
M 128.4 135.6 
L 422.88 135.6 
L 422.88 139.68 
L 128.4 139.68 
z
M 439.2 135.6 
L 459.6 135.6 
L 459.6 139.68 
L 439.2 139.68 
z
M 537.36 135.6 
L 598.56 135.6 
L 598.56 139.68 
L 537.36 139.68 
z
M 26.16 139.68 
L 50.64 139.68 
L 50.64 143.76 
L 26.16 143.76 
z
M 124.32 139.68 
L 422.88 139.68 
L 422.88 143.76 
L 124.32 143.76 
z
M 435.12 139.68 
L 459.6 139.68 
L 459.6 143.76 
L 435.12 143.76 
z
M 537.36 139.68 
L 598.56 139.68 
L 598.56 143.76 
L 537.36 143.76 
z
M 26.16 143.76 
L 50.64 143.76 
L 50.64 147.84 
L 26.16 147.84 
z
M 128.4 143.76 
L 402.24 143.76 
L 402.24 147.84 
L 128.4 147.84 
z
M 406.56 143.76 
L 418.8 143.76 
L 418.8 147.84 
L 406.56 147.84 
z
M 431.04 143.76 
L 459.6 143.76 
L 459.6 147.84 
L 431.04 147.84 
z
M 537.36 143.76 
L 598.56 143.76 
L 598.56 147.84 
L 537.36 147.84 
z
M 22.08 147.84 
L 50.64 147.84 
L 50.64 151.92 
L 22.08 151.92 
z
M 87.36 147.84 
L 95.52 147.84 
L 95.52 151.92 
L 87.36 151.92 
z
M 128.4 147.84 
L 398.16 147.84 
L 398.16 151.92 
L 128.4 151.92 
z
M 410.64 147.84 
L 418.8 147.84 
L 418.8 151.92 
L 410.64 151.92 
z
M 431.04 147.84 
L 459.6 147.84 
L 459.6 151.92 
L 431.04 151.92 
z
M 529.2 147.84 
L 602.64 147.84 
L 602.64 151.92 
L 529.2 151.92 
z
M 606.72 147.84 
L 611.04 147.84 
L 611.04 151.92 
L 606.72 151.92 
z
M 18 151.92 
L 46.56 151.92 
L 46.56 156 
L 18 156 
z
M 83.28 151.92 
L 87.36 151.92 
L 87.36 156 
L 83.28 156 
z
M 91.44 151.92 
L 95.52 151.92 
L 95.52 156 
L 91.44 156 
z
M 136.56 151.92 
L 263.28 151.92 
L 263.28 156 
L 136.56 156 
z
M 267.36 151.92 
L 402.24 151.92 
L 402.24 156 
L 267.36 156 
z
M 414.72 151.92 
L 418.8 151.92 
L 418.8 156 
L 414.72 156 
z
M 431.04 151.92 
L 459.6 151.92 
L 459.6 156 
L 431.04 156 
z
M 463.68 151.92 
L 467.76 151.92 
L 467.76 156 
L 463.68 156 
z
M 508.8 151.92 
L 611.04 151.92 
L 611.04 156 
L 508.8 156 
z
M 22.08 156 
L 46.56 156 
L 46.56 160.08 
L 22.08 160.08 
z
M 66.96 156 
L 75.12 156 
L 75.12 160.08 
L 66.96 160.08 
z
M 87.36 156 
L 91.44 156 
L 91.44 160.08 
L 87.36 160.08 
z
M 140.64 156 
L 255.12 156 
L 255.12 160.08 
L 140.64 160.08 
z
M 275.52 156 
L 418.8 156 
L 418.8 160.08 
L 275.52 160.08 
z
M 431.04 156 
L 471.84 156 
L 471.84 160.08 
L 431.04 160.08 
z
M 508.8 156 
L 602.64 156 
L 602.64 160.08 
L 508.8 160.08 
z
M 22.08 160.08 
L 50.64 160.08 
L 50.64 164.16 
L 22.08 164.16 
z
M 62.88 160.08 
L 75.12 160.08 
L 75.12 164.16 
L 62.88 164.16 
z
M 136.56 160.08 
L 255.12 160.08 
L 255.12 164.16 
L 136.56 164.16 
z
M 279.6 160.08 
L 418.8 160.08 
L 418.8 164.16 
L 279.6 164.16 
z
M 431.04 160.08 
L 475.92 160.08 
L 475.92 164.16 
L 431.04 164.16 
z
M 512.88 160.08 
L 598.56 160.08 
L 598.56 164.16 
L 512.88 164.16 
z
M 18 164.16 
L 50.64 164.16 
L 50.64 168.24 
L 18 168.24 
z
M 58.8 164.16 
L 66.96 164.16 
L 66.96 168.24 
L 58.8 168.24 
z
M 75.12 164.16 
L 79.2 164.16 
L 79.2 168.24 
L 75.12 168.24 
z
M 136.56 164.16 
L 255.12 164.16 
L 255.12 168.24 
L 136.56 168.24 
z
M 279.6 164.16 
L 418.8 164.16 
L 418.8 168.24 
L 279.6 168.24 
z
M 431.04 164.16 
L 475.92 164.16 
L 475.92 168.24 
L 431.04 168.24 
z
M 508.8 164.16 
L 586.32 164.16 
L 586.32 168.24 
L 508.8 168.24 
z
M 590.4 164.16 
L 594.48 164.16 
L 594.48 168.24 
L 590.4 168.24 
z
M 18 168.24 
L 54.72 168.24 
L 54.72 172.32 
L 18 172.32 
z
M 62.88 168.24 
L 66.96 168.24 
L 66.96 172.32 
L 62.88 172.32 
z
M 140.64 168.24 
L 255.12 168.24 
L 255.12 172.32 
L 140.64 172.32 
z
M 279.6 168.24 
L 418.8 168.24 
L 418.8 172.32 
L 279.6 172.32 
z
M 431.04 168.24 
L 475.92 168.24 
L 475.92 172.32 
L 431.04 172.32 
z
M 504.48 168.24 
L 590.4 168.24 
L 590.4 172.32 
L 504.48 172.32 
z
M 18 172.32 
L 58.8 172.32 
L 58.8 176.4 
L 18 176.4 
z
M 136.56 172.32 
L 255.12 172.32 
L 255.12 176.4 
L 136.56 176.4 
z
M 279.6 172.32 
L 418.8 172.32 
L 418.8 176.4 
L 279.6 176.4 
z
M 435.12 172.32 
L 471.84 172.32 
L 471.84 176.4 
L 435.12 176.4 
z
M 500.4 172.32 
L 586.32 172.32 
L 586.32 176.4 
L 500.4 176.4 
z
M 22.08 176.4 
L 58.8 176.4 
L 58.8 180.48 
L 22.08 180.48 
z
M 136.56 176.4 
L 251.04 176.4 
L 251.04 180.48 
L 136.56 180.48 
z
M 279.6 176.4 
L 418.8 176.4 
L 418.8 180.48 
L 279.6 180.48 
z
M 435.12 176.4 
L 467.76 176.4 
L 467.76 180.48 
L 435.12 180.48 
z
M 496.32 176.4 
L 578.16 176.4 
L 578.16 180.48 
L 496.32 180.48 
z
M 22.08 180.48 
L 38.4 180.48 
L 38.4 184.56 
L 22.08 184.56 
z
M 42.48 180.48 
L 62.88 180.48 
L 62.88 184.56 
L 42.48 184.56 
z
M 140.64 180.48 
L 251.04 180.48 
L 251.04 184.56 
L 140.64 184.56 
z
M 283.68 180.48 
L 418.8 180.48 
L 418.8 184.56 
L 283.68 184.56 
z
M 435.12 180.48 
L 467.76 180.48 
L 467.76 184.56 
L 435.12 184.56 
z
M 488.16 180.48 
L 574.08 180.48 
L 574.08 184.56 
L 488.16 184.56 
z
M 22.08 184.56 
L 38.4 184.56 
L 38.4 188.64 
L 22.08 188.64 
z
M 42.48 184.56 
L 62.88 184.56 
L 62.88 188.64 
L 42.48 188.64 
z
M 144.72 184.56 
L 251.04 184.56 
L 251.04 188.64 
L 144.72 188.64 
z
M 283.68 184.56 
L 418.8 184.56 
L 418.8 188.64 
L 283.68 188.64 
z
M 431.04 184.56 
L 471.84 184.56 
L 471.84 188.64 
L 431.04 188.64 
z
M 484.08 184.56 
L 574.08 184.56 
L 574.08 188.64 
L 484.08 188.64 
z
M 26.16 188.64 
L 38.4 188.64 
L 38.4 192.72 
L 26.16 192.72 
z
M 42.48 188.64 
L 62.88 188.64 
L 62.88 192.72 
L 42.48 192.72 
z
M 83.28 188.64 
L 87.36 188.64 
L 87.36 192.72 
L 83.28 192.72 
z
M 140.64 188.64 
L 251.04 188.64 
L 251.04 192.72 
L 140.64 192.72 
z
M 279.6 188.64 
L 422.88 188.64 
L 422.88 192.72 
L 279.6 192.72 
z
M 426.96 188.64 
L 574.08 188.64 
L 574.08 192.72 
L 426.96 192.72 
z
M 22.08 192.72 
L 62.88 192.72 
L 62.88 196.8 
L 22.08 196.8 
z
M 144.72 192.72 
L 251.04 192.72 
L 251.04 196.8 
L 144.72 196.8 
z
M 279.6 192.72 
L 574.08 192.72 
L 574.08 196.8 
L 279.6 196.8 
z
M 22.08 196.8 
L 62.88 196.8 
L 62.88 200.64 
L 22.08 200.64 
z
M 83.28 196.8 
L 91.44 196.8 
L 91.44 200.64 
L 83.28 200.64 
z
M 144.72 196.8 
L 259.2 196.8 
L 259.2 200.64 
L 144.72 200.64 
z
M 275.52 196.8 
L 574.08 196.8 
L 574.08 200.64 
L 275.52 200.64 
z
M 22.08 200.64 
L 62.88 200.64 
L 62.88 204.72 
L 22.08 204.72 
z
M 87.36 200.64 
L 91.44 200.64 
L 91.44 204.72 
L 87.36 204.72 
z
M 144.72 200.64 
L 259.2 200.64 
L 259.2 204.72 
L 144.72 204.72 
z
M 275.52 200.64 
L 570 200.64 
L 570 204.72 
L 275.52 204.72 
z
M 22.08 204.72 
L 66.96 204.72 
L 66.96 208.8 
L 22.08 208.8 
z
M 144.72 204.72 
L 259.2 204.72 
L 259.2 208.8 
L 144.72 208.8 
z
M 263.28 204.72 
L 570 204.72 
L 570 208.8 
L 263.28 208.8 
z
M 22.08 208.8 
L 71.04 208.8 
L 71.04 212.88 
L 22.08 212.88 
z
M 144.72 208.8 
L 181.44 208.8 
L 181.44 212.88 
L 144.72 212.88 
z
M 185.52 208.8 
L 570 208.8 
L 570 212.88 
L 185.52 212.88 
z
M 26.16 212.88 
L 71.04 212.88 
L 71.04 216.96 
L 26.16 216.96 
z
M 144.72 212.88 
L 173.28 212.88 
L 173.28 216.96 
L 144.72 216.96 
z
M 181.44 212.88 
L 570 212.88 
L 570 216.96 
L 181.44 216.96 
z
M 26.16 216.96 
L 71.04 216.96 
L 71.04 221.04 
L 26.16 221.04 
z
M 144.72 216.96 
L 173.28 216.96 
L 173.28 221.04 
L 144.72 221.04 
z
M 177.36 216.96 
L 570 216.96 
L 570 221.04 
L 177.36 221.04 
z
M 26.16 221.04 
L 75.12 221.04 
L 75.12 225.12 
L 26.16 225.12 
z
M 136.56 221.04 
L 570 221.04 
L 570 225.12 
L 136.56 225.12 
z
M 26.16 225.12 
L 79.2 225.12 
L 79.2 229.2 
L 26.16 229.2 
z
M 83.28 225.12 
L 95.52 225.12 
L 95.52 229.2 
L 83.28 229.2 
z
M 132.48 225.12 
L 565.92 225.12 
L 565.92 229.2 
L 132.48 229.2 
z
M 26.16 229.2 
L 95.52 229.2 
L 95.52 233.28 
L 26.16 233.28 
z
M 132.48 229.2 
L 565.92 229.2 
L 565.92 233.28 
L 132.48 233.28 
z
M 26.16 233.28 
L 99.84 233.28 
L 99.84 237.36 
L 26.16 237.36 
z
M 120.24 233.28 
L 124.32 233.28 
L 124.32 237.36 
L 120.24 237.36 
z
M 132.48 233.28 
L 565.92 233.28 
L 565.92 237.36 
L 132.48 237.36 
z
M 30.24 237.36 
L 103.92 237.36 
L 103.92 241.44 
L 30.24 241.44 
z
M 108 237.36 
L 128.4 237.36 
L 128.4 241.44 
L 108 241.44 
z
M 169.2 237.36 
L 565.92 237.36 
L 565.92 241.44 
L 169.2 241.44 
z
M 30.24 241.44 
L 132.48 241.44 
L 132.48 245.52 
L 30.24 245.52 
z
M 169.2 241.44 
L 565.92 241.44 
L 565.92 245.52 
L 169.2 245.52 
z
M 30.24 245.52 
L 120.24 245.52 
L 120.24 249.6 
L 30.24 249.6 
z
M 128.4 245.52 
L 136.56 245.52 
L 136.56 249.6 
L 128.4 249.6 
z
M 173.28 245.52 
L 177.36 245.52 
L 177.36 249.6 
L 173.28 249.6 
z
M 181.44 245.52 
L 570 245.52 
L 570 249.6 
L 181.44 249.6 
z
M 30.24 249.6 
L 136.56 249.6 
L 136.56 253.68 
L 30.24 253.68 
z
M 185.52 249.6 
L 574.08 249.6 
L 574.08 253.68 
L 185.52 253.68 
z
M 34.32 253.68 
L 144.72 253.68 
L 144.72 257.76 
L 34.32 257.76 
z
M 177.36 253.68 
L 574.08 253.68 
L 574.08 257.76 
L 177.36 257.76 
z
M 42.48 257.76 
L 120.24 257.76 
L 120.24 261.84 
L 42.48 261.84 
z
M 128.4 257.76 
L 578.16 257.76 
L 578.16 261.84 
L 128.4 261.84 
z
M 46.56 261.84 
L 120.24 261.84 
L 120.24 265.92 
L 46.56 265.92 
z
M 128.4 261.84 
L 574.08 261.84 
L 574.08 265.92 
L 128.4 265.92 
z
M 50.64 265.92 
L 120.24 265.92 
L 120.24 270 
L 50.64 270 
z
M 124.32 265.92 
L 148.8 265.92 
L 148.8 270 
L 124.32 270 
z
M 156.96 265.92 
L 570 265.92 
L 570 270 
L 156.96 270 
z
M 54.72 270 
L 116.16 270 
L 116.16 274.08 
L 54.72 274.08 
z
M 124.32 270 
L 152.88 270 
L 152.88 274.08 
L 124.32 274.08 
z
M 161.04 270 
L 565.92 270 
L 565.92 274.08 
L 161.04 274.08 
z
M 58.8 274.08 
L 116.16 274.08 
L 116.16 278.16 
L 58.8 278.16 
z
M 128.4 274.08 
L 152.88 274.08 
L 152.88 278.16 
L 128.4 278.16 
z
M 169.2 274.08 
L 557.76 274.08 
L 557.76 278.16 
L 169.2 278.16 
z
M 58.8 278.16 
L 116.16 278.16 
L 116.16 282.24 
L 58.8 282.24 
z
M 132.48 278.16 
L 152.88 278.16 
L 152.88 282.24 
L 132.48 282.24 
z
M 173.28 278.16 
L 553.68 278.16 
L 553.68 282.24 
L 173.28 282.24 
z
M 62.88 282.24 
L 112.08 282.24 
L 112.08 286.32 
L 62.88 286.32 
z
M 132.48 282.24 
L 152.88 282.24 
L 152.88 286.32 
L 132.48 286.32 
z
M 173.28 282.24 
L 197.76 282.24 
L 197.76 286.32 
L 173.28 286.32 
z
M 210.24 282.24 
L 218.4 282.24 
L 218.4 286.32 
L 210.24 286.32 
z
M 230.64 282.24 
L 553.68 282.24 
L 553.68 286.32 
L 230.64 286.32 
z
M 62.88 286.32 
L 108 286.32 
L 108 290.4 
L 62.88 290.4 
z
M 132.48 286.32 
L 193.68 286.32 
L 193.68 290.4 
L 132.48 290.4 
z
M 234.72 286.32 
L 549.6 286.32 
L 549.6 290.4 
L 234.72 290.4 
z
M 62.88 290.4 
L 108 290.4 
L 108 294.48 
L 62.88 294.48 
z
M 136.56 290.4 
L 193.68 290.4 
L 193.68 294.48 
L 136.56 294.48 
z
M 234.72 290.4 
L 541.44 290.4 
L 541.44 294.48 
L 234.72 294.48 
z
M 62.88 294.48 
L 103.92 294.48 
L 103.92 298.56 
L 62.88 298.56 
z
M 140.64 294.48 
L 197.76 294.48 
L 197.76 298.56 
L 140.64 298.56 
z
M 230.64 294.48 
L 541.44 294.48 
L 541.44 298.56 
L 230.64 298.56 
z
M 91.44 298.56 
L 99.84 298.56 
L 99.84 302.64 
L 91.44 302.64 
z
M 144.72 298.56 
L 202.08 298.56 
L 202.08 302.64 
L 144.72 302.64 
z
M 230.64 298.56 
L 537.36 298.56 
L 537.36 302.64 
L 230.64 302.64 
z
M 95.52 302.64 
L 99.84 302.64 
L 99.84 306.72 
L 95.52 306.72 
z
M 132.48 302.64 
L 148.8 302.64 
L 148.8 306.72 
L 132.48 306.72 
z
M 156.96 302.64 
L 206.16 302.64 
L 206.16 306.72 
L 156.96 306.72 
z
M 226.56 302.64 
L 533.28 302.64 
L 533.28 306.72 
L 226.56 306.72 
z
M 128.4 306.72 
L 148.8 306.72 
L 148.8 310.8 
L 128.4 310.8 
z
M 165.12 306.72 
L 214.32 306.72 
L 214.32 310.8 
L 165.12 310.8 
z
M 222.48 306.72 
L 533.28 306.72 
L 533.28 310.8 
L 222.48 310.8 
z
M 120.24 310.8 
L 152.88 310.8 
L 152.88 314.88 
L 120.24 314.88 
z
M 169.2 310.8 
L 529.2 310.8 
L 529.2 314.88 
L 169.2 314.88 
z
M 120.24 314.88 
L 161.04 314.88 
L 161.04 318.96 
L 120.24 318.96 
z
M 169.2 314.88 
L 521.04 314.88 
L 521.04 318.96 
L 169.2 318.96 
z
M 120.24 318.96 
L 521.04 318.96 
L 521.04 323.04 
L 120.24 323.04 
z
M 124.32 323.04 
L 521.04 323.04 
L 521.04 327.12 
L 124.32 327.12 
z
M 132.48 327.12 
L 516.96 327.12 
L 516.96 331.2 
L 132.48 331.2 
z
M 148.8 331.2 
L 173.28 331.2 
L 173.28 335.28 
L 148.8 335.28 
z
M 189.6 331.2 
L 516.96 331.2 
L 516.96 335.28 
L 189.6 335.28 
z
M 169.2 335.28 
L 173.28 335.28 
L 173.28 339.36 
L 169.2 339.36 
z
M 197.76 335.28 
L 516.96 335.28 
L 516.96 339.36 
L 197.76 339.36 
z
M 197.76 339.36 
L 516.96 339.36 
L 516.96 343.44 
L 197.76 343.44 
z
M 202.08 343.44 
L 516.96 343.44 
L 516.96 347.52 
L 202.08 347.52 
z
M 206.16 347.52 
L 521.04 347.52 
L 521.04 351.6 
L 206.16 351.6 
z
M 210.24 351.6 
L 451.44 351.6 
L 451.44 355.68 
L 210.24 355.68 
z
M 459.6 351.6 
L 521.04 351.6 
L 521.04 355.68 
L 459.6 355.68 
z
M 214.32 355.68 
L 447.36 355.68 
L 447.36 359.76 
L 214.32 359.76 
z
M 463.68 355.68 
L 516.96 355.68 
L 516.96 359.76 
L 463.68 359.76 
z
M 214.32 359.76 
L 418.8 359.76 
L 418.8 363.84 
L 214.32 363.84 
z
M 467.76 359.76 
L 480 359.76 
L 480 363.84 
L 467.76 363.84 
z
M 488.16 359.76 
L 521.04 359.76 
L 521.04 363.84 
L 488.16 363.84 
z
M 525.12 359.76 
L 529.2 359.76 
L 529.2 363.84 
L 525.12 363.84 
z
M 214.32 363.84 
L 418.8 363.84 
L 418.8 367.68 
L 214.32 367.68 
z
M 492.24 363.84 
L 512.88 363.84 
L 512.88 367.68 
L 492.24 367.68 
z
M 516.96 363.84 
L 521.04 363.84 
L 521.04 367.68 
L 516.96 367.68 
z
M 218.4 367.68 
L 242.88 367.68 
L 242.88 371.76 
L 218.4 371.76 
z
M 246.96 367.68 
L 414.72 367.68 
L 414.72 371.76 
L 246.96 371.76 
z
M 500.4 367.68 
L 533.28 367.68 
L 533.28 371.76 
L 500.4 371.76 
z
M 222.48 371.76 
L 238.8 371.76 
L 238.8 375.84 
L 222.48 375.84 
z
M 259.2 371.76 
L 361.44 371.76 
L 361.44 375.84 
L 259.2 375.84 
z
M 365.52 371.76 
L 381.84 371.76 
L 381.84 375.84 
L 365.52 375.84 
z
M 385.92 371.76 
L 418.8 371.76 
L 418.8 375.84 
L 385.92 375.84 
z
M 504.48 371.76 
L 537.36 371.76 
L 537.36 375.84 
L 504.48 375.84 
z
M 226.56 375.84 
L 234.72 375.84 
L 234.72 379.92 
L 226.56 379.92 
z
M 263.28 375.84 
L 349.2 375.84 
L 349.2 379.92 
L 263.28 379.92 
z
M 390 375.84 
L 422.88 375.84 
L 422.88 379.92 
L 390 379.92 
z
M 504.48 375.84 
L 525.12 375.84 
L 525.12 379.92 
L 504.48 379.92 
z
M 529.2 375.84 
L 537.36 375.84 
L 537.36 379.92 
L 529.2 379.92 
z
M 267.36 379.92 
L 341.04 379.92 
L 341.04 384 
L 267.36 384 
z
M 504.48 379.92 
L 537.36 379.92 
L 537.36 384 
L 504.48 384 
z
M 267.36 384 
L 336.96 384 
L 336.96 388.08 
L 267.36 388.08 
z
M 504.48 384 
L 541.44 384 
L 541.44 388.08 
L 504.48 388.08 
z
M 267.36 388.08 
L 332.88 388.08 
L 332.88 392.16 
L 267.36 392.16 
z
M 504.48 388.08 
L 537.36 388.08 
L 537.36 392.16 
L 504.48 392.16 
z
M 541.44 388.08 
L 545.52 388.08 
L 545.52 392.16 
L 541.44 392.16 
z
M 271.44 392.16 
L 324.72 392.16 
L 324.72 396.24 
L 271.44 396.24 
z
M 508.8 392.16 
L 541.44 392.16 
L 541.44 396.24 
L 508.8 396.24 
z
M 271.44 396.24 
L 320.64 396.24 
L 320.64 400.32 
L 271.44 400.32 
z
M 508.8 396.24 
L 545.52 396.24 
L 545.52 400.32 
L 508.8 400.32 
z
M 275.52 400.32 
L 316.56 400.32 
L 316.56 404.4 
L 275.52 404.4 
z
M 512.88 400.32 
L 549.6 400.32 
L 549.6 404.4 
L 512.88 404.4 
z
M 279.6 404.4 
L 312.48 404.4 
L 312.48 408.48 
L 279.6 408.48 
z
M 516.96 404.4 
L 549.6 404.4 
L 549.6 408.48 
L 516.96 408.48 
z
M 279.6 408.48 
L 312.48 408.48 
L 312.48 412.56 
L 279.6 412.56 
z
M 521.04 408.48 
L 549.6 408.48 
L 549.6 412.56 
L 521.04 412.56 
z
M 279.6 412.56 
L 312.48 412.56 
L 312.48 416.64 
L 279.6 416.64 
z
M 525.12 412.56 
L 545.52 412.56 
L 545.52 416.64 
L 525.12 416.64 
z
M 283.68 416.64 
L 312.48 416.64 
L 312.48 420.72 
L 283.68 420.72 
z
M 529.2 416.64 
L 549.6 416.64 
L 549.6 420.72 
L 529.2 420.72 
z
M 283.68 420.72 
L 312.48 420.72 
L 312.48 424.8 
L 283.68 424.8 
z
M 533.28 420.72 
L 545.52 420.72 
L 545.52 424.8 
L 533.28 424.8 
z
M 291.84 424.8 
L 312.48 424.8 
L 312.48 428.88 
L 291.84 428.88 
z
M 512.88 424.8 
L 516.96 424.8 
L 516.96 428.88 
L 512.88 428.88 
z
M 521.04 424.8 
L 525.12 424.8 
L 525.12 428.88 
L 521.04 428.88 
z
M 529.2 424.8 
L 533.28 424.8 
L 533.28 428.88 
L 529.2 428.88 
z
M 304.32 428.88 
L 312.48 428.88 
L 312.48 432.96 
L 304.32 432.96 
z
" clip-path="url(#pce07e9bbc1)" style="fill: #a7d0e4"/>
   </g>
   <g id="patch_78">
    <path d="M 79.2 111.12 
L 83.28 111.12 
L 83.28 115.2 
L 79.2 115.2 
z
M 75.12 115.2 
L 83.28 115.2 
L 83.28 119.28 
L 75.12 119.28 
z
M 71.04 119.28 
L 83.28 119.28 
L 83.28 123.36 
L 71.04 123.36 
z
M 66.96 123.36 
L 87.36 123.36 
L 87.36 127.44 
L 66.96 127.44 
z
M 62.88 127.44 
L 91.44 127.44 
L 91.44 131.52 
L 62.88 131.52 
z
M 112.08 127.44 
L 116.16 127.44 
L 116.16 131.52 
L 112.08 131.52 
z
M 62.88 131.52 
L 91.44 131.52 
L 91.44 135.6 
L 62.88 135.6 
z
M 103.92 131.52 
L 128.4 131.52 
L 128.4 135.6 
L 103.92 135.6 
z
M 58.8 135.6 
L 87.36 135.6 
L 87.36 139.68 
L 58.8 139.68 
z
M 95.52 135.6 
L 128.4 135.6 
L 128.4 139.68 
L 95.52 139.68 
z
M 50.64 139.68 
L 124.32 139.68 
L 124.32 143.76 
L 50.64 143.76 
z
M 50.64 143.76 
L 128.4 143.76 
L 128.4 147.84 
L 50.64 147.84 
z
M 50.64 147.84 
L 87.36 147.84 
L 87.36 151.92 
L 50.64 151.92 
z
M 95.52 147.84 
L 128.4 147.84 
L 128.4 151.92 
L 95.52 151.92 
z
M 46.56 151.92 
L 83.28 151.92 
L 83.28 156 
L 46.56 156 
z
M 87.36 151.92 
L 91.44 151.92 
L 91.44 156 
L 87.36 156 
z
M 95.52 151.92 
L 136.56 151.92 
L 136.56 156 
L 95.52 156 
z
M 263.28 151.92 
L 267.36 151.92 
L 267.36 156 
L 263.28 156 
z
M 18 156 
L 22.08 156 
L 22.08 160.08 
L 18 160.08 
z
M 46.56 156 
L 66.96 156 
L 66.96 160.08 
L 46.56 160.08 
z
M 75.12 156 
L 87.36 156 
L 87.36 160.08 
L 75.12 160.08 
z
M 91.44 156 
L 140.64 156 
L 140.64 160.08 
L 91.44 160.08 
z
M 255.12 156 
L 275.52 156 
L 275.52 160.08 
L 255.12 160.08 
z
M 18 160.08 
L 22.08 160.08 
L 22.08 164.16 
L 18 164.16 
z
M 50.64 160.08 
L 62.88 160.08 
L 62.88 164.16 
L 50.64 164.16 
z
M 75.12 160.08 
L 136.56 160.08 
L 136.56 164.16 
L 75.12 164.16 
z
M 255.12 160.08 
L 279.6 160.08 
L 279.6 164.16 
L 255.12 164.16 
z
M 50.64 164.16 
L 58.8 164.16 
L 58.8 168.24 
L 50.64 168.24 
z
M 66.96 164.16 
L 75.12 164.16 
L 75.12 168.24 
L 66.96 168.24 
z
M 79.2 164.16 
L 136.56 164.16 
L 136.56 168.24 
L 79.2 168.24 
z
M 255.12 164.16 
L 279.6 164.16 
L 279.6 168.24 
L 255.12 168.24 
z
M 54.72 168.24 
L 62.88 168.24 
L 62.88 172.32 
L 54.72 172.32 
z
M 66.96 168.24 
L 140.64 168.24 
L 140.64 172.32 
L 66.96 172.32 
z
M 255.12 168.24 
L 279.6 168.24 
L 279.6 172.32 
L 255.12 172.32 
z
M 58.8 172.32 
L 136.56 172.32 
L 136.56 176.4 
L 58.8 176.4 
z
M 255.12 172.32 
L 279.6 172.32 
L 279.6 176.4 
L 255.12 176.4 
z
M 18 176.4 
L 22.08 176.4 
L 22.08 180.48 
L 18 180.48 
z
M 58.8 176.4 
L 136.56 176.4 
L 136.56 180.48 
L 58.8 180.48 
z
M 251.04 176.4 
L 279.6 176.4 
L 279.6 180.48 
L 251.04 180.48 
z
M 18 180.48 
L 22.08 180.48 
L 22.08 184.56 
L 18 184.56 
z
M 38.4 180.48 
L 42.48 180.48 
L 42.48 184.56 
L 38.4 184.56 
z
M 62.88 180.48 
L 140.64 180.48 
L 140.64 184.56 
L 62.88 184.56 
z
M 251.04 180.48 
L 283.68 180.48 
L 283.68 184.56 
L 251.04 184.56 
z
M 18 184.56 
L 22.08 184.56 
L 22.08 188.64 
L 18 188.64 
z
M 38.4 184.56 
L 42.48 184.56 
L 42.48 188.64 
L 38.4 188.64 
z
M 62.88 184.56 
L 144.72 184.56 
L 144.72 188.64 
L 62.88 188.64 
z
M 251.04 184.56 
L 283.68 184.56 
L 283.68 188.64 
L 251.04 188.64 
z
M 22.08 188.64 
L 26.16 188.64 
L 26.16 192.72 
L 22.08 192.72 
z
M 38.4 188.64 
L 42.48 188.64 
L 42.48 192.72 
L 38.4 192.72 
z
M 62.88 188.64 
L 83.28 188.64 
L 83.28 192.72 
L 62.88 192.72 
z
M 87.36 188.64 
L 140.64 188.64 
L 140.64 192.72 
L 87.36 192.72 
z
M 251.04 188.64 
L 279.6 188.64 
L 279.6 192.72 
L 251.04 192.72 
z
M 62.88 192.72 
L 144.72 192.72 
L 144.72 196.8 
L 62.88 196.8 
z
M 251.04 192.72 
L 279.6 192.72 
L 279.6 196.8 
L 251.04 196.8 
z
M 62.88 196.8 
L 83.28 196.8 
L 83.28 200.64 
L 62.88 200.64 
z
M 91.44 196.8 
L 144.72 196.8 
L 144.72 200.64 
L 91.44 200.64 
z
M 259.2 196.8 
L 275.52 196.8 
L 275.52 200.64 
L 259.2 200.64 
z
M 62.88 200.64 
L 87.36 200.64 
L 87.36 204.72 
L 62.88 204.72 
z
M 91.44 200.64 
L 144.72 200.64 
L 144.72 204.72 
L 91.44 204.72 
z
M 259.2 200.64 
L 275.52 200.64 
L 275.52 204.72 
L 259.2 204.72 
z
M 66.96 204.72 
L 144.72 204.72 
L 144.72 208.8 
L 66.96 208.8 
z
M 259.2 204.72 
L 263.28 204.72 
L 263.28 208.8 
L 259.2 208.8 
z
M 71.04 208.8 
L 144.72 208.8 
L 144.72 212.88 
L 71.04 212.88 
z
M 181.44 208.8 
L 185.52 208.8 
L 185.52 212.88 
L 181.44 212.88 
z
M 71.04 212.88 
L 144.72 212.88 
L 144.72 216.96 
L 71.04 216.96 
z
M 173.28 212.88 
L 181.44 212.88 
L 181.44 216.96 
L 173.28 216.96 
z
M 71.04 216.96 
L 144.72 216.96 
L 144.72 221.04 
L 71.04 221.04 
z
M 173.28 216.96 
L 177.36 216.96 
L 177.36 221.04 
L 173.28 221.04 
z
M 75.12 221.04 
L 136.56 221.04 
L 136.56 225.12 
L 75.12 225.12 
z
M 79.2 225.12 
L 83.28 225.12 
L 83.28 229.2 
L 79.2 229.2 
z
M 95.52 225.12 
L 132.48 225.12 
L 132.48 229.2 
L 95.52 229.2 
z
M 95.52 229.2 
L 132.48 229.2 
L 132.48 233.28 
L 95.52 233.28 
z
M 99.84 233.28 
L 120.24 233.28 
L 120.24 237.36 
L 99.84 237.36 
z
M 124.32 233.28 
L 132.48 233.28 
L 132.48 237.36 
L 124.32 237.36 
z
M 103.92 237.36 
L 108 237.36 
L 108 241.44 
L 103.92 241.44 
z
M 128.4 237.36 
L 169.2 237.36 
L 169.2 241.44 
L 128.4 241.44 
z
M 132.48 241.44 
L 169.2 241.44 
L 169.2 245.52 
L 132.48 245.52 
z
M 120.24 245.52 
L 128.4 245.52 
L 128.4 249.6 
L 120.24 249.6 
z
M 136.56 245.52 
L 173.28 245.52 
L 173.28 249.6 
L 136.56 249.6 
z
M 177.36 245.52 
L 181.44 245.52 
L 181.44 249.6 
L 177.36 249.6 
z
M 136.56 249.6 
L 185.52 249.6 
L 185.52 253.68 
L 136.56 253.68 
z
M 144.72 253.68 
L 177.36 253.68 
L 177.36 257.76 
L 144.72 257.76 
z
M 120.24 257.76 
L 128.4 257.76 
L 128.4 261.84 
L 120.24 261.84 
z
M 120.24 261.84 
L 128.4 261.84 
L 128.4 265.92 
L 120.24 265.92 
z
M 120.24 265.92 
L 124.32 265.92 
L 124.32 270 
L 120.24 270 
z
M 148.8 265.92 
L 156.96 265.92 
L 156.96 270 
L 148.8 270 
z
M 116.16 270 
L 124.32 270 
L 124.32 274.08 
L 116.16 274.08 
z
M 152.88 270 
L 161.04 270 
L 161.04 274.08 
L 152.88 274.08 
z
M 116.16 274.08 
L 128.4 274.08 
L 128.4 278.16 
L 116.16 278.16 
z
M 152.88 274.08 
L 169.2 274.08 
L 169.2 278.16 
L 152.88 278.16 
z
M 116.16 278.16 
L 132.48 278.16 
L 132.48 282.24 
L 116.16 282.24 
z
M 152.88 278.16 
L 173.28 278.16 
L 173.28 282.24 
L 152.88 282.24 
z
M 112.08 282.24 
L 132.48 282.24 
L 132.48 286.32 
L 112.08 286.32 
z
M 152.88 282.24 
L 173.28 282.24 
L 173.28 286.32 
L 152.88 286.32 
z
M 197.76 282.24 
L 210.24 282.24 
L 210.24 286.32 
L 197.76 286.32 
z
M 218.4 282.24 
L 230.64 282.24 
L 230.64 286.32 
L 218.4 286.32 
z
M 108 286.32 
L 132.48 286.32 
L 132.48 290.4 
L 108 290.4 
z
M 193.68 286.32 
L 234.72 286.32 
L 234.72 290.4 
L 193.68 290.4 
z
M 108 290.4 
L 136.56 290.4 
L 136.56 294.48 
L 108 294.48 
z
M 193.68 290.4 
L 234.72 290.4 
L 234.72 294.48 
L 193.68 294.48 
z
M 103.92 294.48 
L 140.64 294.48 
L 140.64 298.56 
L 103.92 298.56 
z
M 197.76 294.48 
L 230.64 294.48 
L 230.64 298.56 
L 197.76 298.56 
z
M 99.84 298.56 
L 144.72 298.56 
L 144.72 302.64 
L 99.84 302.64 
z
M 202.08 298.56 
L 230.64 298.56 
L 230.64 302.64 
L 202.08 302.64 
z
M 99.84 302.64 
L 132.48 302.64 
L 132.48 306.72 
L 99.84 306.72 
z
M 148.8 302.64 
L 156.96 302.64 
L 156.96 306.72 
L 148.8 306.72 
z
M 206.16 302.64 
L 226.56 302.64 
L 226.56 306.72 
L 206.16 306.72 
z
M 99.84 306.72 
L 128.4 306.72 
L 128.4 310.8 
L 99.84 310.8 
z
M 148.8 306.72 
L 165.12 306.72 
L 165.12 310.8 
L 148.8 310.8 
z
M 214.32 306.72 
L 222.48 306.72 
L 222.48 310.8 
L 214.32 310.8 
z
M 108 310.8 
L 120.24 310.8 
L 120.24 314.88 
L 108 314.88 
z
M 152.88 310.8 
L 169.2 310.8 
L 169.2 314.88 
L 152.88 314.88 
z
M 112.08 314.88 
L 120.24 314.88 
L 120.24 318.96 
L 112.08 318.96 
z
M 161.04 314.88 
L 169.2 314.88 
L 169.2 318.96 
L 161.04 318.96 
z
M 451.44 351.6 
L 459.6 351.6 
L 459.6 355.68 
L 451.44 355.68 
z
M 447.36 355.68 
L 451.44 355.68 
L 451.44 359.76 
L 447.36 359.76 
z
M 455.52 355.68 
L 463.68 355.68 
L 463.68 359.76 
L 455.52 359.76 
z
M 516.96 355.68 
L 525.12 355.68 
L 525.12 359.76 
L 516.96 359.76 
z
M 426.96 359.76 
L 435.12 359.76 
L 435.12 363.84 
L 426.96 363.84 
z
M 463.68 359.76 
L 467.76 359.76 
L 467.76 363.84 
L 463.68 363.84 
z
M 521.04 359.76 
L 525.12 359.76 
L 525.12 363.84 
L 521.04 363.84 
z
M 467.76 363.84 
L 475.92 363.84 
L 475.92 367.68 
L 467.76 367.68 
z
M 512.88 363.84 
L 516.96 363.84 
L 516.96 367.68 
L 512.88 367.68 
z
M 521.04 363.84 
L 529.2 363.84 
L 529.2 367.68 
L 521.04 367.68 
z
M 525.12 375.84 
L 529.2 375.84 
L 529.2 379.92 
L 525.12 379.92 
z
M 537.36 388.08 
L 541.44 388.08 
L 541.44 392.16 
L 537.36 392.16 
z
M 541.44 392.16 
L 545.52 392.16 
L 545.52 396.24 
L 541.44 396.24 
z
" clip-path="url(#pce07e9bbc1)" style="fill: #559ec9"/>
   </g>
   <g id="patch_79">
    <path d="M 570 111.12 
L 578.16 111.12 
L 578.16 115.2 
L 570 115.2 
z
M 398.16 115.2 
L 402.24 115.2 
L 402.24 119.28 
L 398.16 119.28 
z
M 570 115.2 
L 578.16 115.2 
L 578.16 119.28 
L 570 119.28 
z
M 398.16 119.28 
L 406.56 119.28 
L 406.56 123.36 
L 398.16 123.36 
z
M 574.08 119.28 
L 578.16 119.28 
L 578.16 123.36 
L 574.08 123.36 
z
M 402.24 123.36 
L 406.56 123.36 
L 406.56 127.44 
L 402.24 127.44 
z
M 402.24 127.44 
L 406.56 127.44 
L 406.56 131.52 
L 402.24 131.52 
z
M 402.24 143.76 
L 406.56 143.76 
L 406.56 147.84 
L 402.24 147.84 
z
M 398.16 147.84 
L 410.64 147.84 
L 410.64 151.92 
L 398.16 151.92 
z
M 402.24 151.92 
L 414.72 151.92 
L 414.72 156 
L 402.24 156 
z
" clip-path="url(#pce07e9bbc1)" style="fill: #e2edf3"/>
   </g>
   <g id="patch_80">
    <path d="M 32.777333 -1 
L 75.744 24 
L 75.749398 43.209639 
L 76.954217 44.414458 
L 77.355823 48.028916 
L 78.560643 49.233735 
L 78.159036 51.643373 
L 76.55261 52.848193 
L 77.355823 56.061044 
L 77.75743 60.478715 
L 74.544578 64.896386 
L 73.741365 68.91245 
L 68.922088 71.723695 
L 66.110843 70.117269 
L 68.118876 66.502811 
L 66.110843 66.904418 
L 66.51245 65.699598 
L 70.528514 62.085141 
L 72.938153 60.478715 
L 72.938153 57.265863 
L 73.741365 55.659438 
L 72.938153 56.864257 
L 71.331727 57.66747 
L 70.528514 56.462651 
L 68.118876 55.860241 
L 62.897992 53.249799 
L 60.88996 51.643373 
L 56.673092 47.225703 
L 56.673092 47.225703 
L 55.26747 50.840161 
L 54.66506 54.053012 
L 56.070683 57.66747 
L 55.26747 63.28996 
L 55.26747 66.502811 
L 54.263454 68.91245 
L 57.476305 69.715663 
L 54.062651 70.518876 
L 53.661044 71.723695 
L 55.669076 73.731727 
L 54.062651 76.141365 
L 52.657028 76.141365 
L 51.653012 78.149398 
L 51.853815 79.354217 
L 50.046586 85.77992 
L 48.440161 89.795984 
L 44.02249 98.631325 
L 42.4 104 
L 37.6 113.6 
L 35.6 116.4 
L 34 117.6 
L 30.4 122.4 
L 29.2 124 
L 29.6 126.8 
L 28.4 130.4 
L 27.6 133.6 
L 28.8 136.8 
L 27.2 139.2 
L 27.6 144.8 
L 24.4 148.8 
L 24 149.6 
L 20.8 153.6 
L 18.4 157.6 
L 18.8 161.6 
L 20.8 167.2 
L 21.2 169.6 
L 19.2 174.4 
L 18.8 179.2 
L 18 180.8 
L 20 185.6 
L 21.6 189.6 
L 22.8 192.8 
L 23.2 195.2 
L 21.2 196.4 
L 24 199.2 
L 26.4 200.8 
L 24.4 204.8 
L 24 209.6 
L 25.6 213.6 
L 28.4 215.2 
L 28.8 217.6 
L 26.4 220 
L 25.6 223.2 
L 27.2 228 
L 28.8 233.6 
L 30.4 237.6 
L 32.4 240 
L 32 243.2 
L 33.6 245.6 
L 32.4 249.6 
L 31.2 252.8 
L 32 252 
L 32.8 254.4 
L 36.8 256 
L 40.8 258.4 
L 43.2 259.2 
L 46 262.4 
L 46.4 264 
L 50.4 267.2 
L 54 268.8 
L 54.8 271.2 
L 54 272.8 
L 56 273.6 
L 58 274.8 
L 60 277.6 
L 63.2 282.4 
L 64.8 286.4 
L 64 292 
L 64.4 295.2 
L 64.8 298.4 
L 66.4 301.6 
L 66 304 
L 68.4 306.4 
L 67.2 308 
L 66.4 310.4 
L 68.8 316 
L 68.8 320 
L 71.2 324 
L 70.4 328.8 
L 72 331.2 
L 71.6 336 
L 72 340 
L 76.8 345.6 
L 79.6 348 
L 82.8 353.6 
L 87.2 361.6 
L 88.4 364.8 
L 86.4 369.6 
L 84 371.2 
L 80 372.8 
L 75.2 370.4 
L 72.8 370.4 
L 74.4 373.6 
L 78.4 378.4 
L 78.4 381.6 
L 82.4 384 
L 84 386.4 
L 86.4 388 
L 88 391.2 
L 92.8 391.2 
L 95.2 389.6 
L 95.2 394.4 
L 99.2 400 
L 103.2 403.2 
L 104.8 408 
L 105.2 412.8 
L 104.8 416.8 
L 100.8 424 
L 101.6 428.8 
L 107.2 429.6 
L 110.4 433.6 
L 115.2 438.4 
L 119.2 444.8 
L 123.2 448 
L 124.8 453.6 
L 125.6 459.2 
L 128 460 
L 132.8 456.8 
L 136 452 
L 135.2 449.6 
L 132.8 448 
L 128.8 439.2 
L 125.6 436.8 
L 124 440 
L 120.8 435.2 
L 120.8 431.2 
L 122.4 428 
L 120 423.2 
L 119.2 416.8 
L 116.8 415.2 
L 116 408 
L 115.2 400 
L 112.8 394.4 
L 110.4 390.4 
L 108 388 
L 108 383.2 
L 103.2 376.8 
L 104 368 
L 100.8 361.6 
L 99.2 358.4 
L 96.8 356.8 
L 95.2 352 
L 94.4 350.4 
L 91.2 344.8 
L 88.8 342.4 
L 86.8 336.8 
L 87.6 332 
L 88 327.2 
L 87.2 322.4 
L 89.6 314.4 
L 89.6 311.2 
L 92.8 314.4 
L 97.6 319.2 
L 100.4 318 
L 104 321.6 
L 104 323.2 
L 108.8 326.4 
L 110.4 327.2 
L 108.8 329.6 
L 108 334.4 
L 110.4 340 
L 110.4 345.6 
L 112.8 352 
L 113.6 356.8 
L 115.2 357.6 
L 114.4 361.6 
L 117.6 365.6 
L 119.2 370.4 
L 122.4 372.8 
L 124.8 378.4 
L 128 381.6 
L 132.8 382.4 
L 130.8 386.4 
L 132 391.2 
L 134.4 393.6 
L 138.4 396 
L 139.2 401.6 
L 143.2 402.4 
L 146.4 406.4 
L 147.2 410.4 
L 143.2 412.8 
L 142.4 417.6 
L 144.8 420 
L 148.8 419.2 
L 146.4 422.4 
L 150.4 423.2 
L 150.4 424.8 
L 154.4 427.2 
L 159.2 431.2 
L 159.2 435.2 
L 159.2 437.6 
L 161.6 440 
L 165.6 441.6 
L 170.4 448.8 
L 172.8 453.6 
L 176.8 459.2 
L 178.4 463.2 
L 180.8 465.92 
L 184 472 
L 183.898 474.04 
M 302.732889 474.04 
L 302.8 468 
L 304 454.4 
L 306.4 446.4 
L 308.8 440 
L 312 434.4 
L 311.6 429.6 
L 309.6 422.4 
L 308.8 412.8 
L 311.2 406.4 
L 313.6 402.4 
L 318.4 396.8 
L 323.2 393.6 
L 328 390.4 
L 333.6 387.2 
L 339.2 383.2 
L 344.8 378.4 
L 349.6 376 
L 355.2 373.6 
L 360.32 372.4 
L 364 372 
L 369.6 373.6 
L 372.8 374.8 
L 377.6 375.2 
L 380.8 374 
L 379.2 372 
L 382.4 370.8 
L 385.6 372 
L 388 374.8 
L 391.2 375.6 
L 391.2 378.4 
L 397.6 380.4 
L 399.6 378.8 
L 401.6 378 
L 404 378.4 
L 405.6 380.8 
L 407.2 377.6 
L 406.4 374.4 
L 410.4 376 
L 415.2 377.2 
L 418.8 378 
L 420.8 380.4 
L 421.6 378.4 
L 419.2 375.2 
L 414.4 372.8 
L 412.8 371.2 
L 415.2 369.6 
L 416 366.4 
L 413.6 365.6 
L 409.6 367.2 
L 412 364.8 
L 415.2 361.6 
L 421.6 359.6 
L 424.8 360 
L 430.4 359.2 
L 432 354.4 
L 434.4 358.4 
L 436.8 360 
L 440 359.2 
L 443.2 358.4 
L 449.6 356.8 
L 452.8 355.2 
L 456.8 356 
L 462.4 357.6 
L 463.2 359.2 
L 468 363.2 
L 468.8 365.6 
L 472 365.2 
L 475.2 364 
L 478.4 361.6 
L 480.8 359.2 
L 484.8 357.2 
L 489.6 359.2 
L 496 365.6 
L 504 371.2 
L 505.6 373.6 
L 506.4 378.4 
L 505.6 387.2 
L 505.6 388.8 
L 507.2 390.4 
L 508.8 387.2 
L 511.2 387.6 
L 508 393.6 
L 513.6 401.6 
L 516.8 402.4 
L 518.8 400.4 
L 518.4 405.6 
L 520 407.2 
L 521.6 404 
L 520.8 407.2 
L 523.2 412 
L 525.6 414.4 
L 530.4 416 
L 532 418.4 
L 536 422.4 
L 535.2 424.8 
L 537.6 423.2 
L 540.8 424 
L 544 422.4 
L 546.4 420 
L 545.6 416.8 
L 546.4 412.8 
L 547.2 408 
L 546.8 401.6 
L 544.8 395.2 
L 542.4 391.2 
L 537.6 383.2 
L 534.4 374.4 
L 524.8 360.8 
L 521.6 356.8 
L 518.4 348.8 
L 516 343.2 
L 515.2 341.6 
L 515.6 336 
L 516.8 330.4 
L 517.6 324.8 
L 520.8 320.8 
L 520 316.8 
L 523.2 313.6 
L 527.2 312 
L 530.4 308.8 
L 533.6 304 
L 536.8 300.8 
L 537.6 297.6 
L 539.2 293.6 
L 542.4 289.6 
L 545.6 288 
L 550.4 287.2 
L 550.4 284 
L 552 280 
L 555.2 276 
L 557.6 273.6 
L 561.6 272.8 
L 565.6 272.8 
L 568 268 
L 570.4 264 
L 574.4 261.6 
L 575.2 257.6 
L 572 251.2 
L 568 246.4 
L 564.8 241.6 
L 563.2 238.4 
L 563.2 235.2 
L 565.6 228 
L 568 220.8 
L 568.8 214.4 
L 568 206.4 
L 571.2 199.2 
L 573.6 195.2 
L 574 188 
L 572.8 182.4 
L 570.4 183.2 
L 569.6 180 
L 576 178.4 
L 586.4 172.8 
L 592.8 167.2 
L 588 168 
L 579.2 172 
L 573.6 176 
L 572 174.4 
L 576 171.2 
L 580.8 167.6 
L 587.2 164.8 
L 592 163.2 
L 595.2 161.6 
L 597.6 158.4 
L 604.8 155.2 
L 610.4 152 
L 608.8 148.8 
L 605.6 147.2 
L 607.2 148.8 
L 606.4 152 
L 602.4 151.2 
L 600.8 148 
L 596 146.4 
L 596 144.8 
L 597.6 140.8 
L 595.2 138.4 
L 596 132.8 
L 597.6 128.8 
L 598.4 124 
L 601.6 120.8 
L 607.2 117.6 
L 608 112.8 
L 609.6 109.6 
L 616 108.8 
L 618.4 104.8 
L 622.4 101.6 
L 624.8 100 
L 624 96.8 
L 622.284337 94.775904 
L 626.139759 92.848193 
L 629.031325 91.884337 
L 630.477108 88.992771 
L 633.368675 89.474699 
L 638.66988 82.245783 
L 642.043373 78.390361 
L 645.898795 73.571084 
L 644.453012 82.727711 
L 641.561446 88.992771 
L 638.66988 92.848193 
L 635.778313 97.66747 
L 634.33253 103.450602 
L 635.296386 106.342169 
L 638.66988 109.233735 
L 643.971084 111.161446 
L 646.862651 109.715663 
L 648.308434 107.306024 
L 652.163855 101.040964 
L 653.127711 95.257831 
L 654.091566 88.992771 
L 657.946988 87.546988 
L 660.356627 84.173494 
L 665.657831 78.872289 
L 672.404819 72.607229 
L 676.742169 69.715663 
L 696 69.6 
L 696 64.32 
L 672.404819 65.860241 
L 669.031325 66.824096 
L 667.103614 64.896386 
L 663.73012 69.715663 
L 660.838554 69.715663 
L 656.019277 71.643373 
L 650.718072 71.161446 
L 646.380723 71.643373 
L 647.344578 68.751807 
L 640.115663 69.715663 
L 636.260241 65.378313 
L 633.850602 62.486747 
L 633.368675 60.077108 
L 629.031325 61.522892 
L 631.440964 55.257831 
L 630.477108 50.920482 
L 628.06747 50.19759 
L 625.175904 51.40241 
L 622.766265 54.775904 
L 620.356627 52.607229 
L 614.573494 52.125301 
L 610.718072 53.812048 
L 613.127711 51.40241 
L 617.46506 48.751807 
L 622.766265 49.233735 
L 625.657831 46.101205 
L 628.06747 43.209639 
L 628.549398 35.980723 
L 601.561446 35.980723 
L 601.561446 43.209639 
L 596.742169 48.028916 
L 592.886747 52.366265 
L 589.513253 56.703614 
L 585.657831 64.896386 
L 581.80241 76.462651 
L 577.946988 83.209639 
L 576.019277 84.173494 
L 577.46506 80.8 
L 579.874699 74.53494 
L 582.766265 67.787952 
L 582.766265 61.522892 
L 584.693976 57.185542 
L 587.103614 50.438554 
L 589.513253 46.101205 
L 591.922892 43.209639 
L 592.404819 35.980723 
L 310.403994 -1 
" clip-path="url(#pce07e9bbc1)" style="fill: none; stroke: #000000; stroke-width: 0.96"/>
   </g>
   <g id="patch_81">
    <path d="M 56.271486 36.783936 
L 56.271486 42.406426 
L 67.315663 51.241767 
L 68.922088 51.040964 
L 69.524498 50.438554 
L 69.323695 42.406426 
L 69.323695 36.783936 
L 56.271486 36.783936 
z
" clip-path="url(#pce07e9bbc1)" style="fill: none; stroke: #000000; stroke-width: 0.96"/>
   </g>
   <g id="patch_82">
    <path d="M 676.742169 35.980723 
L 676.742169 42.727711 
L 673.368675 43.691566 
L 670.959036 50.438554 
L 670.477108 59.113253 
L 672.404819 63.93253 
L 676.742169 64.896386 
L 682.043373 64.896386 
L 682.043373 35.980723 
L 676.742169 35.980723 
z
" clip-path="url(#pce07e9bbc1)" style="fill: none; stroke: #000000; stroke-width: 0.96"/>
   </g>
   <g id="patch_83">
    <path d="M 639.633735 62.968675 
L 641.079518 56.703614 
L 642.525301 60.077108 
L 643.489157 63.450602 
L 645.898795 64.896386 
L 647.344578 62.486747 
L 653.127711 62.004819 
L 662.766265 57.66747 
L 659.874699 61.040964 
L 660.838554 65.378313 
L 657.46506 66.824096 
L 654.573494 64.896386 
L 653.127711 65.378313 
L 648.308434 66.342169 
L 644.453012 65.860241 
L 642.043373 63.93253 
L 639.633735 62.968675 
z
" clip-path="url(#pce07e9bbc1)" style="fill: none; stroke: #000000; stroke-width: 0.96"/>
   </g>
   <g id="patch_84">
    <path d="M 31.2 261.6 
L 32.4 261.2 
L 33.6 262.8 
L 36 264 
L 35.2 264.8 
L 33.2 263.6 
L 31.2 261.6 
z
" clip-path="url(#pce07e9bbc1)" style="fill: none; stroke: #000000; stroke-width: 0.96"/>
   </g>
   <g id="patch_85">
    <path d="M 37.6 263.2 
L 40 264 
L 42 264.8 
L 40 265.2 
L 38 264.4 
L 37.6 263.2 
z
" clip-path="url(#pce07e9bbc1)" style="fill: none; stroke: #000000; stroke-width: 0.96"/>
   </g>
   <g id="patch_86">
    <path d="M 38 275.6 
L 39.2 275.2 
L 40 276.8 
L 38.8 276.96 
L 38 275.6 
z
" clip-path="url(#pce07e9bbc1)" style="fill: none; stroke: #000000; stroke-width: 0.96"/>
   </g>
   <g id="patch_87">
    <path d="M 50.8 276.4 
L 52.4 277.2 
L 54 279.6 
L 52 279.6 
L 50.8 276.4 
z
" clip-path="url(#pce07e9bbc1)" style="fill: none; stroke: #000000; stroke-width: 0.96"/>
   </g>
   <g id="patch_88">
    <path d="M 48.8 282.4 
L 50 282.8 
L 51.2 286.4 
L 49.6 286 
L 48.8 282.4 
z
" clip-path="url(#pce07e9bbc1)" style="fill: none; stroke: #000000; stroke-width: 0.96"/>
   </g>
   <g id="patch_89">
    <path d="M 34.4 338.8 
L 35.6 338.8 
L 36.4 340.8 
L 35.6 343.2 
L 34.8 342.8 
L 34.4 338.8 
z
" clip-path="url(#pce07e9bbc1)" style="fill: none; stroke: #000000; stroke-width: 0.96"/>
   </g>
   <g id="patch_90">
    <path d="M 70 361.6 
L 72.4 361.6 
L 72.8 365.6 
L 71.2 366.4 
L 69.6 365.2 
L 70 361.6 
z
" clip-path="url(#pce07e9bbc1)" style="fill: none; stroke: #000000; stroke-width: 0.96"/>
   </g>
   <g id="patch_91">
    <path d="M 97.6 349.6 
L 99.2 348.8 
L 100.8 351.2 
L 102.4 354.4 
L 101.6 358.4 
L 99.2 355.2 
L 98 352.8 
L 97.6 349.6 
z
" clip-path="url(#pce07e9bbc1)" style="fill: none; stroke: #000000; stroke-width: 0.96"/>
   </g>
   <g id="patch_92">
    <path d="M 109.6 362.4 
L 112 358 
L 114.4 357.6 
L 114 362.4 
L 112 364.8 
L 109.6 362.4 
z
" clip-path="url(#pce07e9bbc1)" style="fill: none; stroke: #000000; stroke-width: 0.96"/>
   </g>
   <g id="patch_93">
    <path d="M 70 365.2 
L 72 361.6 
L 73.2 362.4 
L 72.8 366 
L 72 366.8 
L 70 365.2 
z
" clip-path="url(#pce07e9bbc1)" style="fill: none; stroke: #000000; stroke-width: 0.96"/>
   </g>
   <g id="patch_94">
    <path d="M 82.4 373.2 
L 83.6 371.6 
L 84.8 372 
L 85.2 375.6 
L 83.6 375.2 
L 82.4 373.2 
z
" clip-path="url(#pce07e9bbc1)" style="fill: none; stroke: #000000; stroke-width: 0.96"/>
   </g>
   <g id="patch_95">
    <path d="M 111.2 395.2 
L 112.8 394.4 
L 115.6 397.6 
L 113.6 399.2 
L 111.2 395.2 
z
" clip-path="url(#pce07e9bbc1)" style="fill: none; stroke: #000000; stroke-width: 0.96"/>
   </g>
   <g id="patch_96">
    <path d="M 117.6 411.2 
L 118.4 408.4 
L 120 408.8 
L 119.2 410 
L 117.6 411.2 
z
" clip-path="url(#pce07e9bbc1)" style="fill: none; stroke: #000000; stroke-width: 0.96"/>
   </g>
   <g id="patch_97">
    <path d="M 122.4 424.8 
L 123.6 424.4 
L 124.4 427.2 
L 123.2 427.2 
L 122.4 424.8 
z
" clip-path="url(#pce07e9bbc1)" style="fill: none; stroke: #000000; stroke-width: 0.96"/>
   </g>
   <g id="patch_98">
    <path d="M 131.2 437.6 
L 132 437.6 
L 132.8 440.4 
L 132 440.8 
L 131.2 437.6 
z
" clip-path="url(#pce07e9bbc1)" style="fill: none; stroke: #000000; stroke-width: 0.96"/>
   </g>
   <g id="patch_99">
    <path d="M 161.6 440 
L 164.8 440.8 
L 165.6 442.4 
L 164 442.4 
L 161.6 440 
z
" clip-path="url(#pce07e9bbc1)" style="fill: none; stroke: #000000; stroke-width: 0.96"/>
   </g>
   <g id="patch_100">
    <path d="M 99.6 424 
L 102.8 417.2 
L 102 422.4 
L 101.6 428 
L 106.4 432 
L 102.4 428.8 
L 99.6 424 
z
" clip-path="url(#pce07e9bbc1)" style="fill: none; stroke: #000000; stroke-width: 0.96"/>
   </g>
   <g id="patch_101">
    <path d="M 560.4 396.4 
L 564 398.4 
L 569.6 395.2 
L 574.8 393.6 
L 574.4 392.8 
L 565.6 394 
L 564 396.8 
L 560.4 396.4 
z
" clip-path="url(#pce07e9bbc1)" style="fill: none; stroke: #000000; stroke-width: 0.96"/>
   </g>
   <g id="patch_102">
    <path d="M 573.6 389.6 
L 579.2 389.2 
L 584 392 
L 586.4 392.8 
L 588 396 
L 586.4 399.2 
L 586.8 403.2 
L 584 401.6 
L 585.6 398.4 
L 584 393.6 
L 573.6 389.6 
z
" clip-path="url(#pce07e9bbc1)" style="fill: none; stroke: #000000; stroke-width: 0.96"/>
   </g>
   <g id="patch_103">
    <path d="M 575.6 416.4 
L 577.6 416.8 
L 584 423.2 
L 584.8 425.6 
L 580.8 429.6 
L 574.4 425.6 
L 576.8 424 
L 575.6 416.4 
z
" clip-path="url(#pce07e9bbc1)" style="fill: none; stroke: #000000; stroke-width: 0.96"/>
   </g>
   <g id="patch_104">
    <path d="M 581.6 429.6 
L 586.4 428.8 
L 589.2 432.8 
L 589.6 436.8 
L 586.4 437.2 
L 582.4 431.2 
L 581.6 429.6 
z
" clip-path="url(#pce07e9bbc1)" style="fill: none; stroke: #000000; stroke-width: 0.96"/>
   </g>
   <g id="patch_105">
    <path d="M 594.4 406.4 
L 597.6 408 
L 600.8 408.8 
L 604.4 411.2 
L 605.2 418.4 
L 602.8 416 
L 604 412.8 
L 600 410 
L 595.2 408.4 
L 594.4 406.4 
z
" clip-path="url(#pce07e9bbc1)" style="fill: none; stroke: #000000; stroke-width: 0.96"/>
   </g>
   <g id="patch_106">
    <path d="M 585.2 416.8 
L 589.2 415.6 
L 588.8 416.8 
L 585.6 417.6 
L 585.2 416.8 
z
" clip-path="url(#pce07e9bbc1)" style="fill: none; stroke: #000000; stroke-width: 0.96"/>
   </g>
   <g id="patch_107">
    <path d="M 611.2 416.4 
L 616 420.8 
L 619.6 422.8 
L 616.8 423.6 
L 615.2 420 
L 612 417.6 
L 611.2 416.4 
z
" clip-path="url(#pce07e9bbc1)" style="fill: none; stroke: #000000; stroke-width: 0.96"/>
   </g>
   <g id="patch_108">
    <path d="M 630.4 420 
L 631.6 420.8 
L 632 422.8 
L 630.8 422.8 
L 630.4 420 
z
" clip-path="url(#pce07e9bbc1)" style="fill: none; stroke: #000000; stroke-width: 0.96"/>
   </g>
   <g id="patch_109">
    <path d="M 611.2 432.8 
L 617.2 434.8 
L 616 435.2 
L 611.6 433.6 
L 611.2 432.8 
z
" clip-path="url(#pce07e9bbc1)" style="fill: none; stroke: #000000; stroke-width: 0.96"/>
   </g>
   <g id="patch_110">
    <path d="M 621.2 430.4 
L 625.6 436 
L 624.8 437.2 
L 630.8 440.4 
L 630.4 440.8 
L 624.8 437.6 
L 624 436.4 
L 621.2 430.4 
z
" clip-path="url(#pce07e9bbc1)" style="fill: none; stroke: #000000; stroke-width: 0.96"/>
   </g>
   <g id="patch_111">
    <path d="M 638.4 438.8 
L 644.8 439.2 
L 646.4 441.6 
L 641.6 448.8 
L 644.8 442.4 
L 644 440 
L 639.2 440 
L 638.4 438.8 
z
" clip-path="url(#pce07e9bbc1)" style="fill: none; stroke: #000000; stroke-width: 0.96"/>
   </g>
   <g id="patch_112">
    <path d="M 656.4 440.4 
L 662.4 440.8 
L 661.6 441.2 
L 656.8 441.2 
L 656.4 440.4 
z
" clip-path="url(#pce07e9bbc1)" style="fill: none; stroke: #000000; stroke-width: 0.96"/>
   </g>
   <g id="patch_113">
    <path d="M 670.4 446.4 
L 673.6 445.6 
L 672 447.2 
L 670.4 446.4 
z
" clip-path="url(#pce07e9bbc1)" style="fill: none; stroke: #000000; stroke-width: 0.96"/>
   </g>
   <g id="patch_114">
    <path d="M 674.4 443.2 
L 677.6 443.6 
L 677.6 444.8 
L 674.4 443.2 
z
" clip-path="url(#pce07e9bbc1)" style="fill: none; stroke: #000000; stroke-width: 0.96"/>
   </g>
   <g id="patch_115">
    <path d="M 661.6 454 
L 664 453.6 
L 662.8 454.8 
L 661.6 454 
z
" clip-path="url(#pce07e9bbc1)" style="fill: none; stroke: #000000; stroke-width: 0.96"/>
   </g>
   <g id="patch_116">
    <path d="M 654.8 462.4 
L 659.2 461.6 
L 662.8 457.6 
L 663.2 462.4 
L 655.2 465.92 
L 655.2 470.4 
L 664 470.4 
L 654.8 462.4 
z
" clip-path="url(#pce07e9bbc1)" style="fill: none; stroke: #000000; stroke-width: 0.96"/>
   </g>
   <g id="patch_117">
    <path d="M 506.4 472 
L 512 464 
L 519.2 461.6 
L 524 458.4 
L 528 457.6 
L 536 457.2 
L 539.2 456.4 
L 540.8 457.6 
L 543.2 456.8 
L 548 455.2 
L 550.4 456.4 
L 553.6 457.2 
L 556.8 456.4 
L 560 456.8 
L 563.2 457.2 
L 564.8 459.2 
L 569.6 462 
L 576 461.2 
L 580.8 462.4 
L 589.6 464.8 
L 596.8 472 
L 506.4 472 
z
" clip-path="url(#pce07e9bbc1)" style="fill: none; stroke: #000000; stroke-width: 0.96"/>
   </g>
   <g id="line2d_1">
    <path d="M 565.6 189.2 
L 562.4 192 
L 559.2 196 
L 558.8 200 
L 563.2 203.2 
L 566.4 203.2 
L 568 206.4 
" clip-path="url(#pce07e9bbc1)" style="fill: none; stroke: #000000; stroke-width: 0.96; stroke-linecap: round"/>
   </g>
   <g id="line2d_2">
    <path d="M 558.99759 196.8 
L 558.708434 199.691566 
L 560.73253 202.004819 
L 562.178313 204.028916 
L 563.045783 206.053012 
L 565.359036 208.366265 
L 567.383133 209.522892 
L 567.672289 211.836145 
L 568.828916 212.992771 
" clip-path="url(#pce07e9bbc1)" style="fill: none; stroke: #000000; stroke-width: 0.96; stroke-linecap: round"/>
   </g>
   <g id="line2d_3">
    <path d="M 563.045783 234.968675 
L 562.178313 232.944578 
L 561.889157 228.607229 
L 562.756627 225.715663 
L 563.624096 222.824096 
L 561.889157 222.245783 
L 561.310843 221.089157 
L 560.154217 218.486747 
L 559.575904 217.619277 
L 557.840964 218.19759 
L 556.684337 218.486747 
L 554.949398 217.040964 
L 554.371084 215.306024 
L 554.949398 214.438554 
L 557.262651 214.438554 
L 553.792771 212.414458 
L 553.214458 210.101205 
L 553.792771 208.077108 
L 553.214458 205.474699 
L 553.792771 202.583133 
L 554.949398 201.137349 
L 555.527711 200.26988 
" clip-path="url(#pce07e9bbc1)" style="fill: none; stroke: #000000; stroke-width: 0.96; stroke-linecap: round"/>
   </g>
   <g id="line2d_4">
    <path d="M 553.214458 200.848193 
L 551.479518 203.450602 
L 550.322892 205.474699 
L 548.587952 206.631325 
L 550.033735 207.787952 
L 549.744578 209.522892 
L 550.612048 211.836145 
L 551.190361 214.149398 
L 552.636145 217.040964 
L 554.081928 218.775904 
" clip-path="url(#pce07e9bbc1)" style="fill: none; stroke: #000000; stroke-width: 0.96; stroke-linecap: round"/>
   </g>
   <g id="line2d_5">
    <path d="M 545.985542 212.992771 
L 543.383133 217.619277 
L 543.672289 221.089157 
L 545.118072 221.378313 
L 546.563855 219.643373 
L 548.009639 219.93253 
L 549.166265 221.66747 
L 553.792771 222.245783 
L 555.527711 222.824096 
L 557.262651 225.715663 
L 556.684337 228.028916 
L 558.419277 230.342169 
L 557.840964 233.233735 
L 558.99759 236.703614 
L 556.106024 238.149398 
" clip-path="url(#pce07e9bbc1)" style="fill: none; stroke: #000000; stroke-width: 0.96; stroke-linecap: round"/>
   </g>
   <g id="line2d_6">
    <path d="M 549.744578 216.173494 
L 552.057831 218.775904 
L 554.371084 219.93253 
L 555.527711 222.824096 
" clip-path="url(#pce07e9bbc1)" style="fill: none; stroke: #000000; stroke-width: 0.96; stroke-linecap: round"/>
   </g>
   <g id="line2d_7">
    <path d="M 546.274699 223.40241 
L 549.744578 225.137349 
L 552.636145 227.450602 
L 556.395181 228.607229 
" clip-path="url(#pce07e9bbc1)" style="fill: none; stroke: #000000; stroke-width: 0.96; stroke-linecap: round"/>
   </g>
   <g id="line2d_8">
    <path d="M 552.636145 232.077108 
L 555.527711 234.390361 
L 557.840964 235.257831 
" clip-path="url(#pce07e9bbc1)" style="fill: none; stroke: #000000; stroke-width: 0.96; stroke-linecap: round"/>
   </g>
   <g id="line2d_9">
    <path d="M 547.431325 236.125301 
L 550.612048 235.546988 
L 554.949398 236.125301 
L 558.419277 237.860241 
L 559.575904 239.306024 
L 563.624096 238.727711 
L 564.780723 240 
" clip-path="url(#pce07e9bbc1)" style="fill: none; stroke: #000000; stroke-width: 0.96; stroke-linecap: round"/>
   </g>
   <g id="line2d_10">
    <path d="M 469.6 46.4 
L 472 43.2 
L 476.8 43.2 
L 484 48.8 
" clip-path="url(#pce07e9bbc1)" style="fill: none; stroke: #000000; stroke-width: 0.96; stroke-linecap: round"/>
   </g>
   <g id="line2d_11">
    <path d="M 401.6 364.8 
L 404 361.2 
L 406.4 361.6 
L 409.6 363.6 
L 412 364 
L 408 365.2 
L 404.8 366.8 
L 401.6 365.2 
L 401.6 364.8 
" clip-path="url(#pce07e9bbc1)" style="fill: none; stroke: #000000; stroke-width: 0.96; stroke-linecap: round"/>
   </g>
   <g id="line2d_12">
    <path d="M 24 199.2 
L 27.2 196.8 
L 28.8 196.4 
L 32 198.4 
L 35.2 200 
L 37.6 200.96 
" clip-path="url(#pce07e9bbc1)" style="fill: none; stroke: #000000; stroke-width: 0.96; stroke-linecap: round"/>
   </g>
   <g id="line2d_13">
    <path d="M 26.8 200 
L 28 204 
L 28.8 207.2 
" clip-path="url(#pce07e9bbc1)" style="fill: none; stroke: #000000; stroke-width: 0.96; stroke-linecap: round"/>
   </g>
   <g id="line2d_14">
    <path d="M 51.853815 78.751807 
L 55.26747 80.15743 
L 57.677108 80.960643 
L 59.685141 82.968675 
L 60.488353 83.169478 
" clip-path="url(#pce07e9bbc1)" style="fill: none; stroke: #000000; stroke-width: 0.96; stroke-linecap: round"/>
   </g>
   <g id="line2d_15">
    <path d="M 548.8 119.6 
L 557.6 109.6 
L 559.2 107.2 
" clip-path="url(#pce07e9bbc1)" style="fill: none; stroke: #000000; stroke-width: 0.96; stroke-linecap: round"/>
   </g>
   <g id="line2d_16">
    <path d="M 571.2 61.522892 
L 576.019277 60.8 
L 582.284337 61.522892 
" clip-path="url(#pce07e9bbc1)" style="fill: none; stroke: #000000; stroke-width: 0.96; stroke-linecap: round"/>
   </g>
   <g id="line2d_17">
    <path d="M 56.873896 45.82008 
L 56.271486 42.808032 
" clip-path="url(#pce07e9bbc1)" style="fill: none; stroke: #000000; stroke-width: 0.96; stroke-linecap: round"/>
   </g>
   <g id="line2d_18">
    <path d="M 570.4 180.8 
L 576 178.4 
" clip-path="url(#pce07e9bbc1)" style="fill: none; stroke: #000000; stroke-width: 0.96; stroke-linecap: round"/>
   </g>
   <g id="line2d_19">
    <path d="M 556.8 250.4 
L 562.4 248.8 
L 568 249.6 
L 569.6 252.8 
L 568 259.2 
L 564.8 260.8 
L 560.8 259.2 
L 556 261.6 
" clip-path="url(#pce07e9bbc1)" style="fill: none; stroke: #000000; stroke-width: 0.96; stroke-linecap: round"/>
   </g>
   <g id="line2d_20">
    <path d="M 557.2 250.4 
L 558.4 254.4 
L 564.8 252.4 
L 567.2 256 
L 570.4 254.4 
" clip-path="url(#pce07e9bbc1)" style="fill: none; stroke: #000000; stroke-width: 0.96; stroke-linecap: round"/>
   </g>
   <g id="line2d_21">
    <path d="M 556 261.6 
L 563.2 262.4 
L 562.4 267.2 
L 557.6 266.4 
L 560.8 268.8 
L 566.4 268 
L 564 272 
" clip-path="url(#pce07e9bbc1)" style="fill: none; stroke: #000000; stroke-width: 0.96; stroke-linecap: round"/>
   </g>
   <g id="line2d_22">
    <path d="M 543.2 428 
L 546.8 420.8 
" clip-path="url(#pce07e9bbc1)" style="fill: none; stroke: #000000; stroke-width: 0.96; stroke-linecap: round"/>
   </g>
   <g id="line2d_23">
    <path d="M 536.8 432 
L 541.6 429.6 
" clip-path="url(#pce07e9bbc1)" style="fill: none; stroke: #000000; stroke-width: 0.96; stroke-linecap: round"/>
   </g>
   <g id="line2d_24">
    <path d="M 528 436.4 
L 531.2 434.4 
" clip-path="url(#pce07e9bbc1)" style="fill: none; stroke: #000000; stroke-width: 0.96; stroke-linecap: round"/>
   </g>
   <g id="line2d_25">
    <path d="M 532.4 432.8 
L 534.4 433.6 
" clip-path="url(#pce07e9bbc1)" style="fill: none; stroke: #000000; stroke-width: 0.96; stroke-linecap: round"/>
   </g>
   <g id="line2d_26">
    <path d="M 563.6 457.2 
L 568 458.8 
" clip-path="url(#pce07e9bbc1)" style="fill: none; stroke: #000000; stroke-width: 0.96; stroke-linecap: round"/>
   </g>
   <g id="line2d_27">
    <path d="M 577.6 458.4 
L 583.2 457.6 
L 594.4 464.8 
" clip-path="url(#pce07e9bbc1)" style="fill: none; stroke: #000000; stroke-width: 0.96; stroke-linecap: round"/>
   </g>
   <g id="line2d_28">
    <path d="M 529.6 370.4 
L 534.4 373.6 
" clip-path="url(#pce07e9bbc1)" style="fill: none; stroke: #000000; stroke-width: 0.96; stroke-linecap: round"/>
   </g>
   <g id="line2d_29">
    <path d="M 421.6 364.8 
L 422.8 368 
L 421.2 371.2 
" clip-path="url(#pce07e9bbc1)" style="fill: none; stroke: #000000; stroke-width: 0.96; stroke-linecap: round"/>
   </g>
   <g id="line2d_30">
    <path d="M 311.6 429.6 
L 308.8 425.6 
L 307.2 420 
L 306.4 414.4 
L 308 411.2 
L 304.8 408.8 
L 304 407.2 
L 308 409.6 
L 309.6 404.8 
" clip-path="url(#pce07e9bbc1)" style="fill: none; stroke: #000000; stroke-width: 0.96; stroke-linecap: round"/>
   </g>
   <g id="line2d_31">
    <path d="M 547.6 120.4 
L 553.6 115.2 
L 556.8 111.2 
L 559.2 101.6 
L 560 98.4 
L 566.4 92 
L 568.8 88.8 
L 574.4 84.8 
L 578.4 80 
" clip-path="url(#pce07e9bbc1)" style="fill: none; stroke: #000000; stroke-width: 1.56; stroke-linecap: round"/>
   </g>
   <g id="line2d_32">
    <path d="M 60.488353 83.169478 
L 61.693173 84.976707 
L 61.693173 91.40241 
L 66.51245 94.213655 
L 70.528514 94.012851 
L 75.347791 95.82008 
L 76.954217 97.426506 
L 81.773494 97.828112 
L 86.592771 98.229719 
L 90.608835 97.828112 
L 95.990361 98.631325 
L 99.2 98.8 
L 119.6 104.4 
" clip-path="url(#pce07e9bbc1)" style="fill: none; stroke-dasharray: 1.488,1.176; stroke-dashoffset: 0; stroke: #000000; stroke-width: 0.96"/>
   </g>
   <g id="line2d_33">
    <path d="M 28.4 136.4 
L 71.2 151.2 
L 102.4 160 
L 134.4 168.8 
L 165.6 175.2 
" clip-path="url(#pce07e9bbc1)" style="fill: none; stroke-dasharray: 1.488,1.176; stroke-dashoffset: 0; stroke: #000000; stroke-width: 0.96"/>
   </g>
   <g id="line2d_34">
    <path d="M 130 62.24 
L 120 99.2 
L 119.6 104.4 
L 122.4 108.8 
L 122 111.2 
L 115.2 118.8 
L 110.4 124.8 
L 110.8 128 
L 112.8 129.6 
L 109.6 135.2 
L 107.2 144 
L 102.4 160.32 
" clip-path="url(#pce07e9bbc1)" style="fill: none; stroke-dasharray: 1.488,1.176; stroke-dashoffset: 0; stroke: #000000; stroke-width: 0.96"/>
   </g>
   <g id="line2d_35">
    <path d="M 139.2 64.8 
L 135.2 78.4 
L 137.2 87.2 
L 140.8 93.6 
L 143.2 100 
L 147.2 102 
L 144.4 108.8 
L 144 112 
L 141.6 116 
L 143.2 118 
L 147.2 116 
L 148.8 118.4 
L 149.6 125.6 
L 151.2 130.4 
L 153.6 136.8 
L 160.8 136.4 
L 168 138 
L 170 136 
L 172.4 138.8 
L 174.4 132.8 
L 174.8 132.8 
L 246.8 143.2 
" clip-path="url(#pce07e9bbc1)" style="fill: none; stroke-dasharray: 1.488,1.176; stroke-dashoffset: 0; stroke: #000000; stroke-width: 0.96"/>
   </g>
   <g id="line2d_36">
    <path d="M 172.4 138.8 
L 168.8 160.32 
L 165.6 175.2 
L 163.6 189.6 
L 184.8 194.4 
L 184.8 194 
L 240.4 201.2 
L 262.4 203.6 
" clip-path="url(#pce07e9bbc1)" style="fill: none; stroke-dasharray: 1.488,1.176; stroke-dashoffset: 0; stroke: #000000; stroke-width: 0.96"/>
   </g>
   <g id="line2d_37">
    <path d="M 184.8 194.4 
L 175.2 251.2 
L 173.6 263.52 
L 160.8 334.8 
" clip-path="url(#pce07e9bbc1)" style="fill: none; stroke-dasharray: 1.488,1.176; stroke-dashoffset: 0; stroke: #000000; stroke-width: 0.96"/>
   </g>
   <g id="line2d_38">
    <path d="M 117.6 240 
L 175.2 251.2 
L 201.92 256 
L 246.4 261.2 
L 258 262.4 
L 345.2 265.2 
L 345.6 272.8 
L 360.32 272.4 
L 397.6 270.8 
L 399.6 273.6 
L 396 278.4 
L 404 277.6 
" clip-path="url(#pce07e9bbc1)" style="fill: none; stroke-dasharray: 1.488,1.176; stroke-dashoffset: 0; stroke: #000000; stroke-width: 0.96"/>
   </g>
   <g id="line2d_39">
    <path d="M 134.4 168.8 
L 119.2 233.6 
L 117.6 240 
L 115.2 250.4 
L 112 253.2 
L 109.6 250.8 
L 106.4 252 
L 104.8 263.52 
L 103.6 266.4 
" clip-path="url(#pce07e9bbc1)" style="fill: none; stroke-dasharray: 1.488,1.176; stroke-dashoffset: 0; stroke: #000000; stroke-width: 0.96"/>
   </g>
   <g id="line2d_40">
    <path d="M 71.2 151.2 
L 58.4 193.2 
L 101.6 263.52 
L 103.6 266.4 
L 105.2 275.2 
L 107.6 277.6 
L 102.4 281.6 
L 99.2 288.8 
L 96.4 291.2 
L 96.8 295.2 
L 98.4 297.6 
L 96 300 
L 93.6 299.6 
" clip-path="url(#pce07e9bbc1)" style="fill: none; stroke-dasharray: 1.488,1.176; stroke-dashoffset: 0; stroke: #000000; stroke-width: 0.96"/>
   </g>
   <g id="line2d_41">
    <path d="M 252.8 86 
L 248.4 129.6 
L 246.8 143.2 
L 244.8 160.32 
L 243.6 172.4 
L 240.4 201.2 
" clip-path="url(#pce07e9bbc1)" style="fill: none; stroke-dasharray: 1.488,1.176; stroke-dashoffset: 0; stroke: #000000; stroke-width: 0.96"/>
   </g>
   <g id="line2d_42">
    <path d="M 248.4 129.6 
L 324 134.24 
" clip-path="url(#pce07e9bbc1)" style="fill: none; stroke-dasharray: 1.488,1.176; stroke-dashoffset: 0; stroke: #000000; stroke-width: 0.96"/>
   </g>
   <g id="line2d_43">
    <path d="M 318.4 90 
L 318.8 102.4 
L 321.2 110.4 
L 322 124 
L 324 131.2 
L 324 134.24 
L 321.2 138.8 
L 324.8 143.6 
L 324.8 160.32 
L 324 170 
L 360.32 169.6 
L 379.2 168.8 
" clip-path="url(#pce07e9bbc1)" style="fill: none; stroke-dasharray: 1.488,1.176; stroke-dashoffset: 0; stroke: #000000; stroke-width: 0.96"/>
   </g>
   <g id="line2d_44">
    <path d="M 243.6 172.4 
L 303.2 176.8 
L 307.2 179.2 
L 313.6 178.8 
L 322.4 183.2 
L 324 184.8 
" clip-path="url(#pce07e9bbc1)" style="fill: none; stroke-dasharray: 1.488,1.176; stroke-dashoffset: 0; stroke: #000000; stroke-width: 0.96"/>
   </g>
   <g id="line2d_45">
    <path d="M 324 170 
L 323.2 170.4 
L 324.4 176 
L 322.4 181.6 
L 324 184 
L 328 192 
L 328.8 199.2 
L 330.8 202.4 
L 331.2 210.4 
L 333.2 216 
L 336 221.2 
L 341.6 224 
L 340 228 
L 344.8 233.6 
L 345.2 263.52 
L 345.2 265.2 
" clip-path="url(#pce07e9bbc1)" style="fill: none; stroke-dasharray: 1.488,1.176; stroke-dashoffset: 0; stroke: #000000; stroke-width: 0.96"/>
   </g>
   <g id="line2d_46">
    <path d="M 331.2 212.4 
L 360.32 211.84 
L 377.6 211.2 
L 380 213.6 
" clip-path="url(#pce07e9bbc1)" style="fill: none; stroke-dasharray: 1.488,1.176; stroke-dashoffset: 0; stroke: #000000; stroke-width: 0.96"/>
   </g>
   <g id="line2d_47">
    <path d="M 262.4 203.6 
L 261.2 218.4 
L 336 221.2 
" clip-path="url(#pce07e9bbc1)" style="fill: none; stroke-dasharray: 1.488,1.176; stroke-dashoffset: 0; stroke: #000000; stroke-width: 0.96"/>
   </g>
   <g id="line2d_48">
    <path d="M 261.2 218.4 
L 257.6 262 
L 258 262.4 
" clip-path="url(#pce07e9bbc1)" style="fill: none; stroke-dasharray: 1.488,1.176; stroke-dashoffset: 0; stroke: #000000; stroke-width: 0.96"/>
   </g>
   <g id="line2d_49">
    <path d="M 367.2 123.2 
L 367.2 131.2 
L 362.4 136 
L 361.6 138.4 
L 363.2 142.4 
L 363.2 150.4 
L 366.4 153.6 
L 371.2 156.8 
L 374.4 159.6 
L 378.8 162 
L 380 168.8 
L 381.2 171.6 
L 381.2 176 
L 383.2 179.2 
L 386.4 180.8 
L 388 183.2 
L 392.8 189.6 
L 390.4 196 
L 384 199.2 
L 384.8 203.2 
L 384 207.2 
L 380 213.6 
L 379.6 219.2 
L 381.6 224 
L 388 229.6 
L 391.2 235.2 
L 396 236.8 
L 394 244 
L 397.6 248 
L 404 252.8 
L 405.6 258.4 
L 408.8 262.4 
L 410.4 264.8 
L 409.6 268 
L 406.4 270.4 
L 404.8 274.4 
L 404 280 
L 401.6 283.2 
L 400 288.8 
L 399.2 292.8 
L 396 296.8 
L 395.2 301.6 
L 392 304.8 
L 390.4 308 
L 388.8 312.8 
L 389.6 319.2 
L 388.8 322.4 
L 389.6 327.2 
L 390.4 330.4 
L 392.8 332.8 
L 389.6 337.6 
L 387.2 341.6 
L 385.6 346.4 
L 384.8 353.2 
" clip-path="url(#pce07e9bbc1)" style="fill: none; stroke-dasharray: 1.488,1.176; stroke-dashoffset: 0; stroke: #000000; stroke-width: 0.96"/>
   </g>
   <g id="line2d_50">
    <path d="M 388 182.8 
L 418.4 180.4 
" clip-path="url(#pce07e9bbc1)" style="fill: none; stroke-dasharray: 1.488,1.176; stroke-dashoffset: 0; stroke: #000000; stroke-width: 0.96"/>
   </g>
   <g id="line2d_51">
    <path d="M 380.8 123.2 
L 387.2 124 
L 389.6 127.2 
L 401.6 129.6 
L 408.8 131.2 
L 413.6 135.2 
L 416 142.4 
" clip-path="url(#pce07e9bbc1)" style="fill: none; stroke-dasharray: 1.488,1.176; stroke-dashoffset: 0; stroke: #000000; stroke-width: 0.96"/>
   </g>
   <g id="line2d_52">
    <path d="M 422.4 192 
L 425.6 224 
L 424.8 230.4 
L 426.4 234.4 
L 422.4 242.4 
L 421.6 249.6 
L 426.4 246.8 
L 432 248 
L 435.2 245.6 
L 438.4 246.4 
L 440.8 242.4 
L 445.6 244 
L 451.2 232.8 
L 456.8 229.6 
L 456.8 225.6 
L 461.6 226.4 
L 464.8 229.6 
L 470.4 230.4 
L 478.4 228.8 
L 484 232 
L 486.4 231.2 
L 488 224 
L 491.2 220.8 
L 494.4 216.8 
L 500 211.2 
L 500.8 197.6 
" clip-path="url(#pce07e9bbc1)" style="fill: none; stroke-dasharray: 1.488,1.176; stroke-dashoffset: 0; stroke: #000000; stroke-width: 0.96"/>
   </g>
   <g id="line2d_53">
    <path d="M 496.8 176.8 
L 503.2 209.6 
" clip-path="url(#pce07e9bbc1)" style="fill: none; stroke-dasharray: 1.488,1.176; stroke-dashoffset: 0; stroke: #000000; stroke-width: 0.96"/>
   </g>
   <g id="line2d_54">
    <path d="M 421.6 249.6 
L 420.8 255.2 
L 416.8 257.6 
L 417.6 260 
L 411.2 259.2 
L 408.8 262.4 
" clip-path="url(#pce07e9bbc1)" style="fill: none; stroke-dasharray: 1.488,1.176; stroke-dashoffset: 0; stroke: #000000; stroke-width: 0.96"/>
   </g>
   <g id="line2d_55">
    <path d="M 426.4 192 
L 430.4 190 
L 451.2 187.6 
L 466.4 185.6 
" clip-path="url(#pce07e9bbc1)" style="fill: none; stroke-dasharray: 1.488,1.176; stroke-dashoffset: 0; stroke: #000000; stroke-width: 0.96"/>
   </g>
   <g id="line2d_56">
    <path d="M 451.2 187.6 
L 456.8 225.6 
" clip-path="url(#pce07e9bbc1)" style="fill: none; stroke-dasharray: 1.488,1.176; stroke-dashoffset: 0; stroke: #000000; stroke-width: 0.96"/>
   </g>
   <g id="line2d_57">
    <path d="M 528.8 208 
L 528 213.6 
L 523.2 219.2 
L 520.8 224.8 
L 516.8 224 
L 513.6 232 
L 512 239.2 
L 506.4 243.2 
L 501.6 246.4 
L 497.6 248 
L 493.6 246.4 
L 490.4 243.2 
L 484 236 
L 483.2 232 
L 484 232 
" clip-path="url(#pce07e9bbc1)" style="fill: none; stroke-dasharray: 1.488,1.176; stroke-dashoffset: 0; stroke: #000000; stroke-width: 0.96"/>
   </g>
   <g id="line2d_58">
    <path d="M 491.2 245.6 
L 480 257.6 
L 475.2 260.4 
" clip-path="url(#pce07e9bbc1)" style="fill: none; stroke-dasharray: 1.488,1.176; stroke-dashoffset: 0; stroke: #000000; stroke-width: 0.96"/>
   </g>
   <g id="line2d_59">
    <path d="M 405.6 269.6 
L 422.4 268.4 
L 423.2 266 
L 475.2 260.4 
L 497.6 256.8 
L 518.72 253.6 
L 498.4 256.8 
L 564.8 243.6 
" clip-path="url(#pce07e9bbc1)" style="fill: none; stroke-dasharray: 1.488,1.176; stroke-dashoffset: 0; stroke: #000000; stroke-width: 0.96"/>
   </g>
   <g id="line2d_60">
    <path d="M 498 257.2 
L 498.4 260 
L 490.4 267.2 
L 485.6 270.4 
L 480.8 274.4 
L 475.2 277.6 
L 471.6 281.6 
L 470.8 284.8 
" clip-path="url(#pce07e9bbc1)" style="fill: none; stroke-dasharray: 1.488,1.176; stroke-dashoffset: 0; stroke: #000000; stroke-width: 0.96"/>
   </g>
   <g id="line2d_61">
    <path d="M 399.2 292.8 
L 424.8 290.8 
L 454.4 287.6 
L 484.8 283.2 
L 493.6 278.8 
L 508.8 276.8 
L 513.6 280.4 
L 527.2 279.2 
L 543.2 288.8 
" clip-path="url(#pce07e9bbc1)" style="fill: none; stroke-dasharray: 1.488,1.176; stroke-dashoffset: 0; stroke: #000000; stroke-width: 0.96"/>
   </g>
   <g id="line2d_62">
    <path d="M 424.8 290.8 
L 424.8 337.6 
L 427.2 357.6 
" clip-path="url(#pce07e9bbc1)" style="fill: none; stroke-dasharray: 1.488,1.176; stroke-dashoffset: 0; stroke: #000000; stroke-width: 0.96"/>
   </g>
   <g id="line2d_63">
    <path d="M 454.8 287.6 
L 464 317.6 
L 468 324.8 
L 468.8 326.4 
L 466.8 333.6 
L 468.8 340.8 
L 469.6 345.6 
L 472.8 349.6 
L 507.2 346.8 
L 508.8 348.8 
L 508.8 343.2 
L 514.4 342.4 
" clip-path="url(#pce07e9bbc1)" style="fill: none; stroke-dasharray: 1.488,1.176; stroke-dashoffset: 0; stroke: #000000; stroke-width: 0.96"/>
   </g>
   <g id="line2d_64">
    <path d="M 469.6 345.6 
L 436.8 349.6 
L 437.6 352.8 
L 440 356 
" clip-path="url(#pce07e9bbc1)" style="fill: none; stroke-dasharray: 1.488,1.176; stroke-dashoffset: 0; stroke: #000000; stroke-width: 0.96"/>
   </g>
   <g id="line2d_65">
    <path d="M 483.2 284 
L 483.2 288 
L 489.6 290.8 
L 494.4 296.8 
L 502.4 302.4 
L 508 308 
L 512 313.6 
L 515.2 317.6 
L 518.4 321.6 
L 520 321.6 
" clip-path="url(#pce07e9bbc1)" style="fill: none; stroke-dasharray: 1.488,1.176; stroke-dashoffset: 0; stroke: #000000; stroke-width: 0.96"/>
   </g>
   <g id="line2d_66">
    <path d="M 353.2 324.4 
L 389.2 322.8 
" clip-path="url(#pce07e9bbc1)" style="fill: none; stroke-dasharray: 1.488,1.176; stroke-dashoffset: 0; stroke: #000000; stroke-width: 0.96"/>
   </g>
   <g id="line2d_67">
    <path d="M 345.6 272.8 
L 347.6 288.8 
L 347.6 314.4 
" clip-path="url(#pce07e9bbc1)" style="fill: none; stroke-dasharray: 1.488,1.176; stroke-dashoffset: 0; stroke: #000000; stroke-width: 0.96"/>
   </g>
   <g id="line2d_68">
    <path d="M 279.6 299.2 
L 284 302.4 
L 287.6 302 
L 289.6 305.2 
L 296 306.4 
L 298.4 307.6 
L 302.4 307.2 
L 305.6 310.8 
L 308 309.6 
L 312 311.6 
L 314.4 312.8 
L 316.8 310.4 
L 320 311.2 
L 324.8 313.6 
L 328 311.2 
L 333.6 310.4 
L 338.4 310.4 
L 344 314 
L 348 315.2 
L 352.8 316 
L 353.2 316 
L 353.2 324.4 
L 353.2 339.2 
L 356 341.6 
L 357.6 346.4 
L 360 351.2 
L 360.8 353.6 
L 358.4 360.8 
L 358 366.72 
L 357.6 362.4 
L 355.2 372.8 
" clip-path="url(#pce07e9bbc1)" style="fill: none; stroke-dasharray: 1.488,1.176; stroke-dashoffset: 0; stroke: #000000; stroke-width: 0.96"/>
   </g>
   <g id="line2d_69">
    <path d="M 384.8 353.2 
L 408.8 352 
L 409.2 354.4 
L 408.8 358.4 
L 411.2 362.4 
" clip-path="url(#pce07e9bbc1)" style="fill: none; stroke-dasharray: 1.488,1.176; stroke-dashoffset: 0; stroke: #000000; stroke-width: 0.96"/>
   </g>
   <g id="line2d_70">
    <path d="M 246.4 261.2 
L 245.6 268.4 
L 280.8 271.2 
L 279.6 299.2 
" clip-path="url(#pce07e9bbc1)" style="fill: none; stroke-dasharray: 1.488,1.176; stroke-dashoffset: 0; stroke: #000000; stroke-width: 0.96"/>
   </g>
   <g id="line2d_71">
    <path d="M 245.6 268.4 
L 238.4 334.8 
L 192.8 329.6 
" clip-path="url(#pce07e9bbc1)" style="fill: none; stroke-dasharray: 1.488,1.176; stroke-dashoffset: 0; stroke: #000000; stroke-width: 0.96"/>
   </g>
   <g id="line2d_72">
    <path d="M 497.2 176.8 
L 506.4 174.4 
L 551.2 164.8 
L 555.2 166.4 
L 558.4 170.4 
L 560.8 171.6 
L 571.2 174.4 
" clip-path="url(#pce07e9bbc1)" style="fill: none; stroke-dasharray: 1.488,1.176; stroke-dashoffset: 0; stroke: #000000; stroke-width: 0.96"/>
   </g>
   <g id="line2d_73">
    <path d="M 560.8 171.6 
L 558.4 178.4 
L 558.8 183.2 
L 564.8 188.8 
" clip-path="url(#pce07e9bbc1)" style="fill: none; stroke-dasharray: 1.488,1.176; stroke-dashoffset: 0; stroke: #000000; stroke-width: 0.96"/>
   </g>
   <g id="line2d_74">
    <path d="M 503.2 209.6 
L 556.8 198.4 
" clip-path="url(#pce07e9bbc1)" style="fill: none; stroke-dasharray: 1.488,1.176; stroke-dashoffset: 0; stroke: #000000; stroke-width: 0.96"/>
   </g>
   <g id="line2d_75">
    <path d="M 555.2 196.8 
L 560.8 215.2 
L 568 214.4 
" clip-path="url(#pce07e9bbc1)" style="fill: none; stroke-dasharray: 1.488,1.176; stroke-dashoffset: 0; stroke: #000000; stroke-width: 0.96"/>
   </g>
   <g id="line2d_76">
    <path d="M 515.2 207.2 
L 516.8 213.6 
L 523.2 208 
L 528.8 208 
L 535.2 211.2 
L 544.8 212.8 
" clip-path="url(#pce07e9bbc1)" style="fill: none; stroke-dasharray: 1.488,1.176; stroke-dashoffset: 0; stroke: #000000; stroke-width: 0.96"/>
   </g>
   <g id="line2d_77">
    <path d="M 561.6 117.6 
L 564.8 129.6 
L 566.4 136 
L 568.8 138.4 
L 571.2 147.2 
L 571.2 148 
L 572 158.4 
L 574.4 169.6 
L 573.6 171.2 
" clip-path="url(#pce07e9bbc1)" style="fill: none; stroke-dasharray: 1.488,1.176; stroke-dashoffset: 0; stroke: #000000; stroke-width: 0.96"/>
   </g>
   <g id="line2d_78">
    <path d="M 579.2 111.2 
L 581.2 117.6 
L 577.6 122.4 
L 577.6 132.8 
L 578.4 144.8 
" clip-path="url(#pce07e9bbc1)" style="fill: none; stroke-dasharray: 1.488,1.176; stroke-dashoffset: 0; stroke: #000000; stroke-width: 0.96"/>
   </g>
   <g id="line2d_79">
    <path d="M 583.2 106.4 
L 588 119.2 
L 592 132 
L 594.4 133.6 
" clip-path="url(#pce07e9bbc1)" style="fill: none; stroke-dasharray: 1.488,1.176; stroke-dashoffset: 0; stroke: #000000; stroke-width: 0.96"/>
   </g>
   <g id="line2d_80">
    <path d="M 571.2 147.2 
L 578.4 144.8 
L 592 142.4 
L 595.2 138.4 
" clip-path="url(#pce07e9bbc1)" style="fill: none; stroke-dasharray: 1.488,1.176; stroke-dashoffset: 0; stroke: #000000; stroke-width: 0.96"/>
   </g>
   <g id="line2d_81">
    <path d="M 572 158.4 
L 593.6 152 
" clip-path="url(#pce07e9bbc1)" style="fill: none; stroke-dasharray: 1.488,1.176; stroke-dashoffset: 0; stroke: #000000; stroke-width: 0.96"/>
   </g>
   <g id="line2d_82">
    <path d="M 589.6 153.6 
L 592 162.4 
" clip-path="url(#pce07e9bbc1)" style="fill: none; stroke-dasharray: 1.488,1.176; stroke-dashoffset: 0; stroke: #000000; stroke-width: 0.96"/>
   </g>
   <g id="line2d_83">
    <path d="M 151.6 43.2 
L 155.2 46.4 
L 155.6 52.8 
L 153.6 59.2 
L 154.4 64 
L 157.6 68.8 
" clip-path="url(#pce07e9bbc1)" style="fill: none; stroke-dasharray: 1.488,1.176; stroke-dashoffset: 0; stroke: #000000; stroke-width: 0.96"/>
   </g>
   <g id="line2d_84">
    <path d="M 202.4 40.8 
L 196 77.2 
" clip-path="url(#pce07e9bbc1)" style="fill: none; stroke-dasharray: 1.488,1.176; stroke-dashoffset: 0; stroke: #000000; stroke-width: 0.96"/>
   </g>
   <g id="line2d_85">
    <path d="M 279.2 40.8 
L 278.4 86.8 
" clip-path="url(#pce07e9bbc1)" style="fill: none; stroke-dasharray: 1.488,1.176; stroke-dashoffset: 0; stroke: #000000; stroke-width: 0.96"/>
   </g>
   <g id="line2d_86">
    <path d="M 338 40.8 
L 338 89.76 
" clip-path="url(#pce07e9bbc1)" style="fill: none; stroke-dasharray: 1.488,1.176; stroke-dashoffset: 0; stroke: #000000; stroke-width: 0.96"/>
   </g>
   <g id="line2d_87">
    <path d="M 482.4 48.4 
L 488 74.4 
L 492 96 
L 496 101.6 
L 502.4 109.6 
L 513.6 110.8 
L 518.72 112.8 
L 520 114.4 
L 523.2 113.2 
L 528 117.6 
L 534.4 117.2 
L 545.6 111.2 
L 548.8 111.6 
L 548.8 115.2 
" clip-path="url(#pce07e9bbc1)" style="fill: none; stroke-dasharray: 1.488,1.176; stroke-dashoffset: 0; stroke: #000000; stroke-width: 0.96"/>
   </g>
   <g id="line2d_88">
    <path d="M 590.477108 69.715663 
L 591.440964 69.715663 
L 592.886747 70.19759 
L 594.814458 69.715663 
L 597.224096 67.306024 
L 597.706024 64.896386 
L 596.260241 60.077108 
L 600.115663 57.66747 
L 605.898795 58.149398 
L 609.754217 56.221687 
L 610.718072 54.293976 
" clip-path="url(#pce07e9bbc1)" style="fill: none; stroke-dasharray: 1.488,1.176; stroke-dashoffset: 0; stroke: #000000; stroke-width: 0.96"/>
   </g>
   <g id="line2d_89">
    <path d="M 645.416867 73.571084 
L 646.380723 71.643373 
" clip-path="url(#pce07e9bbc1)" style="fill: none; stroke-dasharray: 1.488,1.176; stroke-dashoffset: 0; stroke: #000000; stroke-width: 0.96"/>
   </g>
   <g id="line2d_90">
    <path d="M 393.6 101.6 
L 396 95.2 
L 400 93.6 
L 404 88.8 
L 404.8 86.8 
L 409.6 88 
L 421.6 88 
L 425.6 95.2 
L 429.6 98.8 
L 438.8 98.4 
L 438 103.2 
L 442.4 106.8 
L 441.6 111.2 
L 445.2 113.6 
L 445.6 117.6 
L 440 119.2 
L 437.6 115.6 
L 430.4 117.6 
L 423.2 121.6 
L 417.6 121.6 
L 412.8 116.8 
L 406.4 116.4 
L 404.8 112.8 
L 411.2 108.4 
L 409.2 108 
L 404 112.8 
L 396.8 118 
L 390.4 120 
L 385.6 123.2 
L 382.4 120.8 
L 385.6 116.8 
L 380.8 118.4 
L 373.6 120.8 
L 369.6 122.4 
L 371.2 119.2 
L 377.6 112 
L 382.4 107.2 
L 388.8 104 
L 393.6 101.6 
" clip-path="url(#pce07e9bbc1)" style="fill: none; stroke-dasharray: 1.488,1.176; stroke-dashoffset: 0; stroke: #000000; stroke-width: 0.96"/>
   </g>
   <g id="line2d_91">
    <path d="M 425.6 132.8 
L 437.6 128.8 
L 443.2 128 
L 441.6 131.2 
L 438.4 136.8 
L 435.2 140 
L 431.2 146.4 
L 430 156 
L 430.4 164.8 
L 433.6 172 
L 434.4 176 
L 433.6 183.2 
L 430.4 189.6 
L 426.4 192 
L 422.8 192 
L 420 187.2 
L 418.8 182.4 
L 418.8 168 
L 418.8 148.8 
L 418.8 147.2 
L 422.4 137.6 
L 425.6 132.8 
" clip-path="url(#pce07e9bbc1)" style="fill: none; stroke-dasharray: 1.488,1.176; stroke-dashoffset: 0; stroke: #000000; stroke-width: 0.96"/>
   </g>
   <g id="line2d_92">
    <path d="M 449.6 128 
L 462.4 126.4 
L 476 124.8 
L 476.8 120.8 
L 484 120.8 
L 492 127.2 
L 497.6 135.2 
L 494.4 140 
L 485.6 138.4 
L 480.8 132.8 
L 478.4 132 
L 481.6 138.4 
L 479.6 144.8 
L 479.6 150.4 
L 480.8 158.4 
L 477.6 164 
L 474.4 164 
L 473.6 156 
L 472 144 
L 471.2 157.6 
L 468 152 
L 464.8 152.8 
L 459.2 158.4 
L 456.8 155.2 
L 460 152 
L 460 144 
L 461.6 152 
L 460.8 144 
L 457.6 132.8 
L 449.6 128 
" clip-path="url(#pce07e9bbc1)" style="fill: none; stroke-dasharray: 1.488,1.176; stroke-dashoffset: 0; stroke: #000000; stroke-width: 0.96"/>
   </g>
   <g id="line2d_93">
    <path d="M 468 183.2 
L 471.2 180.8 
L 475.2 180 
L 481.6 174.4 
L 486.4 169.6 
L 491.2 168 
L 497.6 168 
L 504.8 164 
L 512 160.8 
L 512.8 162.4 
L 508 168 
L 500.8 174.4 
L 496.8 176.8 
L 488.8 182.4 
L 485.6 185.6 
L 478.4 188.8 
L 473.6 188.8 
L 470.4 185.6 
L 468 183.2 
" clip-path="url(#pce07e9bbc1)" style="fill: none; stroke-dasharray: 1.488,1.176; stroke-dashoffset: 0; stroke: #000000; stroke-width: 0.96"/>
   </g>
   <g id="line2d_94">
    <path d="M 504 151.2 
L 512 145.6 
L 524.8 140 
L 534.4 137.6 
L 536.8 139.2 
L 537.6 144.8 
L 532.8 148.8 
L 524.8 151.6 
L 510.4 153.6 
L 506.4 156.8 
L 501.6 155.6 
L 504 151.2 
" clip-path="url(#pce07e9bbc1)" style="fill: none; stroke-dasharray: 1.488,1.176; stroke-dashoffset: 0; stroke: #000000; stroke-width: 0.96"/>
   </g>
   <g id="line2d_95">
    <path d="M 468.8 176 
L 472 174.4 
L 476 176.8 
L 474.4 180.8 
L 470.4 181.6 
L 468.8 176 
" clip-path="url(#pce07e9bbc1)" style="fill: none; stroke-dasharray: 1.488,1.176; stroke-dashoffset: 0; stroke: #000000; stroke-width: 0.96"/>
   </g>
   <g id="line2d_96">
    <path d="M 398.4 68 
L 401.6 68.4 
L 405.2 72 
L 404.8 80.8 
L 400 80 
L 396 76 
L 398.4 68 
" clip-path="url(#pce07e9bbc1)" style="fill: none; stroke-dasharray: 1.488,1.176; stroke-dashoffset: 0; stroke: #000000; stroke-width: 0.96"/>
   </g>
   <g id="line2d_97">
    <path d="M 340.8 78.4 
L 343.2 75.2 
L 345.6 82.4 
L 348.8 84.8 
L 347.2 88.8 
L 344 89.6 
L 342.4 85.6 
L 340.8 78.4 
" clip-path="url(#pce07e9bbc1)" style="fill: none; stroke-dasharray: 1.488,1.176; stroke-dashoffset: 0; stroke: #000000; stroke-width: 0.96"/>
   </g>
   <g id="line2d_98">
    <path d="M 353.6 92 
L 356 90.8 
L 360.8 94 
L 356.8 94.4 
L 353.6 92 
" clip-path="url(#pce07e9bbc1)" style="fill: none; stroke-dasharray: 1.488,1.176; stroke-dashoffset: 0; stroke: #000000; stroke-width: 0.96"/>
   </g>
   <g id="line2d_99">
    <path d="M 56.873896 45.82008 
L 62.496386 50.036948 
L 67.717269 53.651406 
L 70.528514 53.048996 
L 72.13494 48.430522 
L 73.339759 44.816064 
L 74.544578 43.209639 
L 76.954217 44.414458 
L 130 62.24 
L 156.8 68.96 
L 196 77.2 
L 252.8 86 
L 278 87.6 
L 318.4 89.6 
L 338 89.76 
L 338.4 84.4 
L 340.8 85.2 
L 342 92 
L 343.2 93.6 
L 351.2 95.6 
L 352.8 96.4 
L 356 94.8 
L 360.8 95.2 
L 364.8 98.4 
L 366 99.6 
L 368.8 98.8 
L 374.4 102.4 
L 379.2 100 
L 381.6 101.2 
L 387.2 100.8 
L 389.6 102.4 
L 393.6 101.6 
L 404.8 96.8 
L 440 112.8 
L 444 117.6 
L 448.8 121.6 
L 457.6 125.6 
L 468 131.2 
L 472 144.8 
L 476 160.32 
L 474.4 164 
L 473.6 171.2 
L 471.2 176 
L 469.6 180.8 
L 468.8 184 
L 473.6 188.8 
L 478.4 187.2 
L 489.6 177.6 
L 505.6 167.2 
L 512.8 161.6 
L 504 153.6 
L 520 147.2 
L 536 141.6 
L 539.2 128.8 
L 542.4 124 
L 547.6 120.4 
L 562.4 116 
L 569.6 113.6 
L 579.2 111.2 
L 579.6 107.2 
L 581.6 106.4 
L 584.8 102.4 
L 587.6 95.2 
L 586.8 90.4 
L 586.8 81.6 
L 590.4 69.6 
L 592 71.2 
L 594.4 72 
L 600 68 
L 605.6 70.4 
L 607.2 74.4 
L 612 88.8 
L 616 89.6 
L 618.4 94.4 
L 620.8 95.2 
" clip-path="url(#pce07e9bbc1)" style="fill: none; stroke-dasharray: 1.488,1.176; stroke-dashoffset: 0; stroke: #000000; stroke-width: 0.96"/>
   </g>
   <g id="line2d_100">
    <path d="M 56.873896 45.82008 
L 62.496386 50.036948 
L 67.717269 53.651406 
L 70.528514 53.048996 
L 72.13494 48.430522 
L 73.339759 44.816064 
L 74.544578 43.209639 
L 76.954217 44.414458 
L 130 62.24 
L 156.8 68.96 
L 196 77.2 
L 252.8 86 
L 278 87.6 
L 318.4 89.6 
L 338 89.76 
L 338.4 84.4 
L 340.8 85.2 
L 342 92 
L 343.2 93.6 
L 351.2 95.6 
L 352.8 96.4 
L 356 94.8 
L 360.8 95.2 
L 364.8 98.4 
L 366 99.6 
L 368.8 98.8 
L 374.4 102.4 
L 379.2 100 
L 381.6 101.2 
L 387.2 100.8 
L 389.6 102.4 
L 393.6 101.6 
L 404.8 96.8 
L 440 112.8 
L 444 117.6 
L 448.8 121.6 
L 457.6 125.6 
L 468 131.2 
L 472 144.8 
L 476 160.32 
L 474.4 164 
L 473.6 171.2 
L 471.2 176 
L 469.6 180.8 
L 468.8 184 
L 473.6 188.8 
L 478.4 187.2 
L 489.6 177.6 
L 505.6 167.2 
L 512.8 161.6 
L 504 153.6 
L 520 147.2 
L 536 141.6 
L 539.2 128.8 
L 542.4 124 
L 547.6 120.4 
L 562.4 116 
L 569.6 113.6 
L 579.2 111.2 
L 579.6 107.2 
L 581.6 106.4 
L 584.8 102.4 
L 587.6 95.2 
L 586.8 90.4 
L 586.8 81.6 
L 590.4 69.6 
L 592 71.2 
L 594.4 72 
L 600 68 
L 605.6 70.4 
L 607.2 74.4 
L 612 88.8 
L 616 89.6 
L 618.4 94.4 
L 620.8 95.2 
" clip-path="url(#pce07e9bbc1)" style="fill: none; stroke-dasharray: 1.488,1.176; stroke-dashoffset: 1.92; stroke: #000000; stroke-width: 0.96"/>
   </g>
   <g id="line2d_101">
    <path d="M 64.4 295.2 
L 93.6 299.6 
L 92.8 302.4 
L 135.2 329.6 
L 161.6 334.8 
L 172 336.4 
L 173.6 330 
L 192.8 332.8 
L 193.6 332.4 
L 195.2 333.6 
L 198.4 338.4 
L 201.6 342.4 
L 205.6 347.2 
L 211.2 352 
L 212 352.8 
L 214.4 358.4 
L 214.8 364 
L 217.6 368.8 
L 221.6 372.8 
L 227.2 376 
L 232 379.6 
L 234.4 378.4 
L 237.6 375.2 
L 240 370.4 
L 245.6 368 
L 248.8 369.2 
L 256.8 370 
L 259.2 372.8 
L 264 377.6 
L 266.4 381.6 
L 268 386.4 
L 270.4 391.2 
L 273.6 397.6 
L 276.8 401.6 
L 280 404.8 
L 280.8 411.2 
L 284 416.8 
L 284.8 421.6 
L 289.6 424 
L 296 427.2 
L 299.2 428.8 
L 304 429.6 
L 308 432 
L 311.6 429.6 
" clip-path="url(#pce07e9bbc1)" style="fill: none; stroke-dasharray: 1.488,1.176; stroke-dashoffset: 0; stroke: #000000; stroke-width: 0.96"/>
   </g>
   <g id="line2d_102">
    <path d="M 64.4 295.2 
L 93.6 299.6 
L 92.8 302.4 
L 135.2 329.6 
L 161.6 334.8 
L 172 336.4 
L 173.6 330 
L 192.8 332.8 
L 193.6 332.4 
L 195.2 333.6 
L 198.4 338.4 
L 201.6 342.4 
L 205.6 347.2 
L 211.2 352 
L 212 352.8 
L 214.4 358.4 
L 214.8 364 
L 217.6 368.8 
L 221.6 372.8 
L 227.2 376 
L 232 379.6 
L 234.4 378.4 
L 237.6 375.2 
L 240 370.4 
L 245.6 368 
L 248.8 369.2 
L 256.8 370 
L 259.2 372.8 
L 264 377.6 
L 266.4 381.6 
L 268 386.4 
L 270.4 391.2 
L 273.6 397.6 
L 276.8 401.6 
L 280 404.8 
L 280.8 411.2 
L 284 416.8 
L 284.8 421.6 
L 289.6 424 
L 296 427.2 
L 299.2 428.8 
L 304 429.6 
L 308 432 
L 311.6 429.6 
" clip-path="url(#pce07e9bbc1)" style="fill: none; stroke-dasharray: 1.488,1.176; stroke-dashoffset: 1.92; stroke: #000000; stroke-width: 0.96"/>
   </g>
   <g id="patch_118">
    <path d="M 718.608 383.4552 
L 736.368 383.4552 
L 736.368 415.704 
L 718.608 415.704 
z
" clip-path="url(#p477be52f25)" style="fill: #053061; stroke: #053061; stroke-width: 0.3; stroke-linejoin: miter"/>
   </g>
   <g id="patch_119">
    <path d="M 718.608 351.2064 
L 736.368 351.2064 
L 736.368 383.4552 
L 718.608 383.4552 
z
" clip-path="url(#p477be52f25)" style="fill: #256baf; stroke: #256baf; stroke-width: 0.3; stroke-linejoin: miter"/>
   </g>
   <g id="patch_120">
    <path d="M 718.608 318.9576 
L 736.368 318.9576 
L 736.368 351.2064 
L 718.608 351.2064 
z
" clip-path="url(#p477be52f25)" style="fill: #559ec9; stroke: #559ec9; stroke-width: 0.3; stroke-linejoin: miter"/>
   </g>
   <g id="patch_121">
    <path d="M 718.608 286.7088 
L 736.368 286.7088 
L 736.368 318.9576 
L 718.608 318.9576 
z
" clip-path="url(#p477be52f25)" style="fill: #a7d0e4; stroke: #a7d0e4; stroke-width: 0.3; stroke-linejoin: miter"/>
   </g>
   <g id="patch_122">
    <path d="M 718.608 254.46 
L 736.368 254.46 
L 736.368 286.7088 
L 718.608 286.7088 
z
" clip-path="url(#p477be52f25)" style="fill: #e2edf3; stroke: #e2edf3; stroke-width: 0.3; stroke-linejoin: miter"/>
   </g>
   <g id="patch_123">
    <path d="M 718.608 222.2112 
L 736.368 222.2112 
L 736.368 254.46 
L 718.608 254.46 
z
" clip-path="url(#p477be52f25)" style="fill: #fae7dc; stroke: #fae7dc; stroke-width: 0.3; stroke-linejoin: miter"/>
   </g>
   <g id="patch_124">
    <path d="M 718.608 189.9624 
L 736.368 189.9624 
L 736.368 222.2112 
L 718.608 222.2112 
z
" clip-path="url(#p477be52f25)" style="fill: #f7b799; stroke: #f7b799; stroke-width: 0.3; stroke-linejoin: miter"/>
   </g>
   <g id="patch_125">
    <path d="M 718.608 157.7136 
L 736.368 157.7136 
L 736.368 189.9624 
L 718.608 189.9624 
z
" clip-path="url(#p477be52f25)" style="fill: #dd6f59; stroke: #dd6f59; stroke-width: 0.3; stroke-linejoin: miter"/>
   </g>
   <g id="patch_126">
    <path d="M 718.608 125.4648 
L 736.368 125.4648 
L 736.368 157.7136 
L 718.608 157.7136 
z
" clip-path="url(#p477be52f25)" style="fill: #b6202f; stroke: #b6202f; stroke-width: 0.3; stroke-linejoin: miter"/>
   </g>
   <g id="patch_127">
    <path d="M 718.608 93.216 
L 736.368 93.216 
L 736.368 125.4648 
L 718.608 125.4648 
z
" clip-path="url(#p477be52f25)" style="fill: #67001f; stroke: #67001f; stroke-width: 0.3; stroke-linejoin: miter"/>
   </g>
   <g id="patch_128">
    <path d="M 718.608 93.216 
L 727.488 77.016 
L 736.368 93.216 
z
" clip-path="url(#p477be52f25)" style="fill: #67001f"/>
   </g>
   <g id="patch_129">
    <path d="M 718.608 415.704 
L 727.488 431.904 
L 736.368 415.704 
z
" clip-path="url(#p477be52f25)" style="fill: #053061"/>
   </g>
   <g id="patch_130">
    <path d="M 718.608 93.216 
L 727.488 77.016 
L 736.368 93.216 
L 736.368 415.704 
L 727.488 431.904 
L 718.608 415.704 
L 718.608 93.216 
z
" clip-path="url(#p477be52f25)" style="fill: none; stroke: #000000; stroke-width: 0.7992; stroke-linejoin: miter"/>
   </g>
   <g id="line2d_103">
    <path d="M 736.368 415.704 
L 739.872 415.704 
" clip-path="url(#p477be52f25)" style="fill: none; stroke: #000000; stroke-width: 0.7992"/>
   </g>
   <g id="line2d_104">
    <path d="M 736.368 383.4552 
L 739.872 383.4552 
" clip-path="url(#p477be52f25)" style="fill: none; stroke: #000000; stroke-width: 0.7992"/>
   </g>
   <g id="line2d_105">
    <path d="M 736.368 351.2064 
L 739.872 351.2064 
" clip-path="url(#p477be52f25)" style="fill: none; stroke: #000000; stroke-width: 0.7992"/>
   </g>
   <g id="line2d_106">
    <path d="M 736.368 318.9576 
L 739.872 318.9576 
" clip-path="url(#p477be52f25)" style="fill: none; stroke: #000000; stroke-width: 0.7992"/>
   </g>
   <g id="line2d_107">
    <path d="M 736.368 286.7088 
L 739.872 286.7088 
" clip-path="url(#p477be52f25)" style="fill: none; stroke: #000000; stroke-width: 0.7992"/>
   </g>
   <g id="line2d_108">
    <path d="M 736.368 254.46 
L 739.872 254.46 
" clip-path="url(#p477be52f25)" style="fill: none; stroke: #000000; stroke-width: 0.7992"/>
   </g>
   <g id="line2d_109">
    <path d="M 736.368 222.2112 
L 739.872 222.2112 
" clip-path="url(#p477be52f25)" style="fill: none; stroke: #000000; stroke-width: 0.7992"/>
   </g>
   <g id="line2d_110">
    <path d="M 736.368 189.9624 
L 739.872 189.9624 
" clip-path="url(#p477be52f25)" style="fill: none; stroke: #000000; stroke-width: 0.7992"/>
   </g>
   <g id="line2d_111">
    <path d="M 736.368 157.7136 
L 739.872 157.7136 
" clip-path="url(#p477be52f25)" style="fill: none; stroke: #000000; stroke-width: 0.7992"/>
   </g>
   <g id="line2d_112">
    <path d="M 736.368 125.4648 
L 739.872 125.4648 
" clip-path="url(#p477be52f25)" style="fill: none; stroke: #000000; stroke-width: 0.7992"/>
   </g>
   <g id="line2d_113">
    <path d="M 736.368 93.216 
L 739.872 93.216 
" clip-path="url(#p477be52f25)" style="fill: none; stroke: #000000; stroke-width: 0.7992"/>
   </g>
   <g id="patch_131">
    <path d="M 7.296 42.768 
L 676.92 42.768 
L 676.92 465.912 
L 7.296 465.912 
L 7.296 42.768 
z
" clip-path="url(#p477be52f25)" style="fill: none; stroke: #000000; stroke-width: 0.768; stroke-linejoin: miter"/>
   </g>
   <g id="text_1">
    <!-- Sliding Mean Hit Rate (Above Normal): CWRF -->
    <g transform="translate(161.723 19.224) scale(0.16 -0.16)">
     <defs>
      <path id="DejaVuSans-53" d="M 3425 4513 
L 3425 3897 
Q 3066 4069 2747 4153 
Q 2428 4238 2131 4238 
Q 1616 4238 1336 4038 
Q 1056 3838 1056 3469 
Q 1056 3159 1242 3001 
Q 1428 2844 1947 2747 
L 2328 2669 
Q 3034 2534 3370 2195 
Q 3706 1856 3706 1288 
Q 3706 609 3251 259 
Q 2797 -91 1919 -91 
Q 1588 -91 1214 -16 
Q 841 59 441 206 
L 441 856 
Q 825 641 1194 531 
Q 1563 422 1919 422 
Q 2459 422 2753 634 
Q 3047 847 3047 1241 
Q 3047 1584 2836 1778 
Q 2625 1972 2144 2069 
L 1759 2144 
Q 1053 2284 737 2584 
Q 422 2884 422 3419 
Q 422 4038 858 4394 
Q 1294 4750 2059 4750 
Q 2388 4750 2728 4690 
Q 3069 4631 3425 4513 
z
" transform="scale(0.015625)"/>
      <path id="DejaVuSans-6c" d="M 603 4863 
L 1178 4863 
L 1178 0 
L 603 0 
L 603 4863 
z
" transform="scale(0.015625)"/>
      <path id="DejaVuSans-69" d="M 603 3500 
L 1178 3500 
L 1178 0 
L 603 0 
L 603 3500 
z
M 603 4863 
L 1178 4863 
L 1178 4134 
L 603 4134 
L 603 4863 
z
" transform="scale(0.015625)"/>
      <path id="DejaVuSans-64" d="M 2906 2969 
L 2906 4863 
L 3481 4863 
L 3481 0 
L 2906 0 
L 2906 525 
Q 2725 213 2448 61 
Q 2172 -91 1784 -91 
Q 1150 -91 751 415 
Q 353 922 353 1747 
Q 353 2572 751 3078 
Q 1150 3584 1784 3584 
Q 2172 3584 2448 3432 
Q 2725 3281 2906 2969 
z
M 947 1747 
Q 947 1113 1208 752 
Q 1469 391 1925 391 
Q 2381 391 2643 752 
Q 2906 1113 2906 1747 
Q 2906 2381 2643 2742 
Q 2381 3103 1925 3103 
Q 1469 3103 1208 2742 
Q 947 2381 947 1747 
z
" transform="scale(0.015625)"/>
      <path id="DejaVuSans-6e" d="M 3513 2113 
L 3513 0 
L 2938 0 
L 2938 2094 
Q 2938 2591 2744 2837 
Q 2550 3084 2163 3084 
Q 1697 3084 1428 2787 
Q 1159 2491 1159 1978 
L 1159 0 
L 581 0 
L 581 3500 
L 1159 3500 
L 1159 2956 
Q 1366 3272 1645 3428 
Q 1925 3584 2291 3584 
Q 2894 3584 3203 3211 
Q 3513 2838 3513 2113 
z
" transform="scale(0.015625)"/>
      <path id="DejaVuSans-67" d="M 2906 1791 
Q 2906 2416 2648 2759 
Q 2391 3103 1925 3103 
Q 1463 3103 1205 2759 
Q 947 2416 947 1791 
Q 947 1169 1205 825 
Q 1463 481 1925 481 
Q 2391 481 2648 825 
Q 2906 1169 2906 1791 
z
M 3481 434 
Q 3481 -459 3084 -895 
Q 2688 -1331 1869 -1331 
Q 1566 -1331 1297 -1286 
Q 1028 -1241 775 -1147 
L 775 -588 
Q 1028 -725 1275 -790 
Q 1522 -856 1778 -856 
Q 2344 -856 2625 -561 
Q 2906 -266 2906 331 
L 2906 616 
Q 2728 306 2450 153 
Q 2172 0 1784 0 
Q 1141 0 747 490 
Q 353 981 353 1791 
Q 353 2603 747 3093 
Q 1141 3584 1784 3584 
Q 2172 3584 2450 3431 
Q 2728 3278 2906 2969 
L 2906 3500 
L 3481 3500 
L 3481 434 
z
" transform="scale(0.015625)"/>
      <path id="DejaVuSans-20" transform="scale(0.015625)"/>
      <path id="DejaVuSans-4d" d="M 628 4666 
L 1569 4666 
L 2759 1491 
L 3956 4666 
L 4897 4666 
L 4897 0 
L 4281 0 
L 4281 4097 
L 3078 897 
L 2444 897 
L 1241 4097 
L 1241 0 
L 628 0 
L 628 4666 
z
" transform="scale(0.015625)"/>
      <path id="DejaVuSans-65" d="M 3597 1894 
L 3597 1613 
L 953 1613 
Q 991 1019 1311 708 
Q 1631 397 2203 397 
Q 2534 397 2845 478 
Q 3156 559 3463 722 
L 3463 178 
Q 3153 47 2828 -22 
Q 2503 -91 2169 -91 
Q 1331 -91 842 396 
Q 353 884 353 1716 
Q 353 2575 817 3079 
Q 1281 3584 2069 3584 
Q 2775 3584 3186 3129 
Q 3597 2675 3597 1894 
z
M 3022 2063 
Q 3016 2534 2758 2815 
Q 2500 3097 2075 3097 
Q 1594 3097 1305 2825 
Q 1016 2553 972 2059 
L 3022 2063 
z
" transform="scale(0.015625)"/>
      <path id="DejaVuSans-61" d="M 2194 1759 
Q 1497 1759 1228 1600 
Q 959 1441 959 1056 
Q 959 750 1161 570 
Q 1363 391 1709 391 
Q 2188 391 2477 730 
Q 2766 1069 2766 1631 
L 2766 1759 
L 2194 1759 
z
M 3341 1997 
L 3341 0 
L 2766 0 
L 2766 531 
Q 2569 213 2275 61 
Q 1981 -91 1556 -91 
Q 1019 -91 701 211 
Q 384 513 384 1019 
Q 384 1609 779 1909 
Q 1175 2209 1959 2209 
L 2766 2209 
L 2766 2266 
Q 2766 2663 2505 2880 
Q 2244 3097 1772 3097 
Q 1472 3097 1187 3025 
Q 903 2953 641 2809 
L 641 3341 
Q 956 3463 1253 3523 
Q 1550 3584 1831 3584 
Q 2591 3584 2966 3190 
Q 3341 2797 3341 1997 
z
" transform="scale(0.015625)"/>
      <path id="DejaVuSans-48" d="M 628 4666 
L 1259 4666 
L 1259 2753 
L 3553 2753 
L 3553 4666 
L 4184 4666 
L 4184 0 
L 3553 0 
L 3553 2222 
L 1259 2222 
L 1259 0 
L 628 0 
L 628 4666 
z
" transform="scale(0.015625)"/>
      <path id="DejaVuSans-74" d="M 1172 4494 
L 1172 3500 
L 2356 3500 
L 2356 3053 
L 1172 3053 
L 1172 1153 
Q 1172 725 1289 603 
Q 1406 481 1766 481 
L 2356 481 
L 2356 0 
L 1766 0 
Q 1100 0 847 248 
Q 594 497 594 1153 
L 594 3053 
L 172 3053 
L 172 3500 
L 594 3500 
L 594 4494 
L 1172 4494 
z
" transform="scale(0.015625)"/>
      <path id="DejaVuSans-52" d="M 2841 2188 
Q 3044 2119 3236 1894 
Q 3428 1669 3622 1275 
L 4263 0 
L 3584 0 
L 2988 1197 
Q 2756 1666 2539 1819 
Q 2322 1972 1947 1972 
L 1259 1972 
L 1259 0 
L 628 0 
L 628 4666 
L 2053 4666 
Q 2853 4666 3247 4331 
Q 3641 3997 3641 3322 
Q 3641 2881 3436 2590 
Q 3231 2300 2841 2188 
z
M 1259 4147 
L 1259 2491 
L 2053 2491 
Q 2509 2491 2742 2702 
Q 2975 2913 2975 3322 
Q 2975 3731 2742 3939 
Q 2509 4147 2053 4147 
L 1259 4147 
z
" transform="scale(0.015625)"/>
      <path id="DejaVuSans-28" d="M 1984 4856 
Q 1566 4138 1362 3434 
Q 1159 2731 1159 2009 
Q 1159 1288 1364 580 
Q 1569 -128 1984 -844 
L 1484 -844 
Q 1016 -109 783 600 
Q 550 1309 550 2009 
Q 550 2706 781 3412 
Q 1013 4119 1484 4856 
L 1984 4856 
z
" transform="scale(0.015625)"/>
      <path id="DejaVuSans-41" d="M 2188 4044 
L 1331 1722 
L 3047 1722 
L 2188 4044 
z
M 1831 4666 
L 2547 4666 
L 4325 0 
L 3669 0 
L 3244 1197 
L 1141 1197 
L 716 0 
L 50 0 
L 1831 4666 
z
" transform="scale(0.015625)"/>
      <path id="DejaVuSans-62" d="M 3116 1747 
Q 3116 2381 2855 2742 
Q 2594 3103 2138 3103 
Q 1681 3103 1420 2742 
Q 1159 2381 1159 1747 
Q 1159 1113 1420 752 
Q 1681 391 2138 391 
Q 2594 391 2855 752 
Q 3116 1113 3116 1747 
z
M 1159 2969 
Q 1341 3281 1617 3432 
Q 1894 3584 2278 3584 
Q 2916 3584 3314 3078 
Q 3713 2572 3713 1747 
Q 3713 922 3314 415 
Q 2916 -91 2278 -91 
Q 1894 -91 1617 61 
Q 1341 213 1159 525 
L 1159 0 
L 581 0 
L 581 4863 
L 1159 4863 
L 1159 2969 
z
" transform="scale(0.015625)"/>
      <path id="DejaVuSans-6f" d="M 1959 3097 
Q 1497 3097 1228 2736 
Q 959 2375 959 1747 
Q 959 1119 1226 758 
Q 1494 397 1959 397 
Q 2419 397 2687 759 
Q 2956 1122 2956 1747 
Q 2956 2369 2687 2733 
Q 2419 3097 1959 3097 
z
M 1959 3584 
Q 2709 3584 3137 3096 
Q 3566 2609 3566 1747 
Q 3566 888 3137 398 
Q 2709 -91 1959 -91 
Q 1206 -91 779 398 
Q 353 888 353 1747 
Q 353 2609 779 3096 
Q 1206 3584 1959 3584 
z
" transform="scale(0.015625)"/>
      <path id="DejaVuSans-76" d="M 191 3500 
L 800 3500 
L 1894 563 
L 2988 3500 
L 3597 3500 
L 2284 0 
L 1503 0 
L 191 3500 
z
" transform="scale(0.015625)"/>
      <path id="DejaVuSans-4e" d="M 628 4666 
L 1478 4666 
L 3547 763 
L 3547 4666 
L 4159 4666 
L 4159 0 
L 3309 0 
L 1241 3903 
L 1241 0 
L 628 0 
L 628 4666 
z
" transform="scale(0.015625)"/>
      <path id="DejaVuSans-72" d="M 2631 2963 
Q 2534 3019 2420 3045 
Q 2306 3072 2169 3072 
Q 1681 3072 1420 2755 
Q 1159 2438 1159 1844 
L 1159 0 
L 581 0 
L 581 3500 
L 1159 3500 
L 1159 2956 
Q 1341 3275 1631 3429 
Q 1922 3584 2338 3584 
Q 2397 3584 2469 3576 
Q 2541 3569 2628 3553 
L 2631 2963 
z
" transform="scale(0.015625)"/>
      <path id="DejaVuSans-6d" d="M 3328 2828 
Q 3544 3216 3844 3400 
Q 4144 3584 4550 3584 
Q 5097 3584 5394 3201 
Q 5691 2819 5691 2113 
L 5691 0 
L 5113 0 
L 5113 2094 
Q 5113 2597 4934 2840 
Q 4756 3084 4391 3084 
Q 3944 3084 3684 2787 
Q 3425 2491 3425 1978 
L 3425 0 
L 2847 0 
L 2847 2094 
Q 2847 2600 2669 2842 
Q 2491 3084 2119 3084 
Q 1678 3084 1418 2786 
Q 1159 2488 1159 1978 
L 1159 0 
L 581 0 
L 581 3500 
L 1159 3500 
L 1159 2956 
Q 1356 3278 1631 3431 
Q 1906 3584 2284 3584 
Q 2666 3584 2933 3390 
Q 3200 3197 3328 2828 
z
" transform="scale(0.015625)"/>
      <path id="DejaVuSans-29" d="M 513 4856 
L 1013 4856 
Q 1481 4119 1714 3412 
Q 1947 2706 1947 2009 
Q 1947 1309 1714 600 
Q 1481 -109 1013 -844 
L 513 -844 
Q 928 -128 1133 580 
Q 1338 1288 1338 2009 
Q 1338 2731 1133 3434 
Q 928 4138 513 4856 
z
" transform="scale(0.015625)"/>
      <path id="DejaVuSans-3a" d="M 750 794 
L 1409 794 
L 1409 0 
L 750 0 
L 750 794 
z
M 750 3309 
L 1409 3309 
L 1409 2516 
L 750 2516 
L 750 3309 
z
" transform="scale(0.015625)"/>
      <path id="DejaVuSans-43" d="M 4122 4306 
L 4122 3641 
Q 3803 3938 3442 4084 
Q 3081 4231 2675 4231 
Q 1875 4231 1450 3742 
Q 1025 3253 1025 2328 
Q 1025 1406 1450 917 
Q 1875 428 2675 428 
Q 3081 428 3442 575 
Q 3803 722 4122 1019 
L 4122 359 
Q 3791 134 3420 21 
Q 3050 -91 2638 -91 
Q 1578 -91 968 557 
Q 359 1206 359 2328 
Q 359 3453 968 4101 
Q 1578 4750 2638 4750 
Q 3056 4750 3426 4639 
Q 3797 4528 4122 4306 
z
" transform="scale(0.015625)"/>
      <path id="DejaVuSans-57" d="M 213 4666 
L 850 4666 
L 1831 722 
L 2809 4666 
L 3519 4666 
L 4500 722 
L 5478 4666 
L 6119 4666 
L 4947 0 
L 4153 0 
L 3169 4050 
L 2175 0 
L 1381 0 
L 213 4666 
z
" transform="scale(0.015625)"/>
      <path id="DejaVuSans-46" d="M 628 4666 
L 3309 4666 
L 3309 4134 
L 1259 4134 
L 1259 2759 
L 3109 2759 
L 3109 2228 
L 1259 2228 
L 1259 0 
L 628 0 
L 628 4666 
z
" transform="scale(0.015625)"/>
     </defs>
     <use xlink:href="#DejaVuSans-53"/>
     <use xlink:href="#DejaVuSans-6c" transform="translate(63.476562 0)"/>
     <use xlink:href="#DejaVuSans-69" transform="translate(91.259766 0)"/>
     <use xlink:href="#DejaVuSans-64" transform="translate(119.042969 0)"/>
     <use xlink:href="#DejaVuSans-69" transform="translate(182.519531 0)"/>
     <use xlink:href="#DejaVuSans-6e" transform="translate(210.302734 0)"/>
     <use xlink:href="#DejaVuSans-67" transform="translate(273.681641 0)"/>
     <use xlink:href="#DejaVuSans-20" transform="translate(337.158203 0)"/>
     <use xlink:href="#DejaVuSans-4d" transform="translate(368.945312 0)"/>
     <use xlink:href="#DejaVuSans-65" transform="translate(455.224609 0)"/>
     <use xlink:href="#DejaVuSans-61" transform="translate(516.748047 0)"/>
     <use xlink:href="#DejaVuSans-6e" transform="translate(578.027344 0)"/>
     <use xlink:href="#DejaVuSans-20" transform="translate(641.40625 0)"/>
     <use xlink:href="#DejaVuSans-48" transform="translate(673.193359 0)"/>
     <use xlink:href="#DejaVuSans-69" transform="translate(748.388672 0)"/>
     <use xlink:href="#DejaVuSans-74" transform="translate(776.171875 0)"/>
     <use xlink:href="#DejaVuSans-20" transform="translate(815.380859 0)"/>
     <use xlink:href="#DejaVuSans-52" transform="translate(847.167969 0)"/>
     <use xlink:href="#DejaVuSans-61" transform="translate(914.400391 0)"/>
     <use xlink:href="#DejaVuSans-74" transform="translate(975.679688 0)"/>
     <use xlink:href="#DejaVuSans-65" transform="translate(1014.888672 0)"/>
     <use xlink:href="#DejaVuSans-20" transform="translate(1076.412109 0)"/>
     <use xlink:href="#DejaVuSans-28" transform="translate(1108.199219 0)"/>
     <use xlink:href="#DejaVuSans-41" transform="translate(1147.212891 0)"/>
     <use xlink:href="#DejaVuSans-62" transform="translate(1215.621094 0)"/>
     <use xlink:href="#DejaVuSans-6f" transform="translate(1279.097656 0)"/>
     <use xlink:href="#DejaVuSans-76" transform="translate(1340.279297 0)"/>
     <use xlink:href="#DejaVuSans-65" transform="translate(1399.458984 0)"/>
     <use xlink:href="#DejaVuSans-20" transform="translate(1460.982422 0)"/>
     <use xlink:href="#DejaVuSans-4e" transform="translate(1492.769531 0)"/>
     <use xlink:href="#DejaVuSans-6f" transform="translate(1567.574219 0)"/>
     <use xlink:href="#DejaVuSans-72" transform="translate(1628.755859 0)"/>
     <use xlink:href="#DejaVuSans-6d" transform="translate(1668.119141 0)"/>
     <use xlink:href="#DejaVuSans-61" transform="translate(1765.53125 0)"/>
     <use xlink:href="#DejaVuSans-6c" transform="translate(1826.810547 0)"/>
     <use xlink:href="#DejaVuSans-29" transform="translate(1854.59375 0)"/>
     <use xlink:href="#DejaVuSans-3a" transform="translate(1893.607422 0)"/>
     <use xlink:href="#DejaVuSans-20" transform="translate(1927.298828 0)"/>
     <use xlink:href="#DejaVuSans-43" transform="translate(1959.085938 0)"/>
     <use xlink:href="#DejaVuSans-57" transform="translate(2028.910156 0)"/>
     <use xlink:href="#DejaVuSans-52" transform="translate(2127.787109 0)"/>
     <use xlink:href="#DejaVuSans-46" transform="translate(2197.269531 0)"/>
    </g>
   </g>
   <g id="text_2">
    <!-- Variable: T2MIN, Season: FMA, Start: 0918 -->
    <g transform="translate(172.69425 36.96) scale(0.16 -0.16)">
     <defs>
      <path id="DejaVuSans-56" d="M 1831 0 
L 50 4666 
L 709 4666 
L 2188 738 
L 3669 4666 
L 4325 4666 
L 2547 0 
L 1831 0 
z
" transform="scale(0.015625)"/>
      <path id="DejaVuSans-54" d="M -19 4666 
L 3928 4666 
L 3928 4134 
L 2272 4134 
L 2272 0 
L 1638 0 
L 1638 4134 
L -19 4134 
L -19 4666 
z
" transform="scale(0.015625)"/>
      <path id="DejaVuSans-32" d="M 1228 531 
L 3431 531 
L 3431 0 
L 469 0 
L 469 531 
Q 828 903 1448 1529 
Q 2069 2156 2228 2338 
Q 2531 2678 2651 2914 
Q 2772 3150 2772 3378 
Q 2772 3750 2511 3984 
Q 2250 4219 1831 4219 
Q 1534 4219 1204 4116 
Q 875 4013 500 3803 
L 500 4441 
Q 881 4594 1212 4672 
Q 1544 4750 1819 4750 
Q 2544 4750 2975 4387 
Q 3406 4025 3406 3419 
Q 3406 3131 3298 2873 
Q 3191 2616 2906 2266 
Q 2828 2175 2409 1742 
Q 1991 1309 1228 531 
z
" transform="scale(0.015625)"/>
      <path id="DejaVuSans-49" d="M 628 4666 
L 1259 4666 
L 1259 0 
L 628 0 
L 628 4666 
z
" transform="scale(0.015625)"/>
      <path id="DejaVuSans-2c" d="M 750 794 
L 1409 794 
L 1409 256 
L 897 -744 
L 494 -744 
L 750 256 
L 750 794 
z
" transform="scale(0.015625)"/>
      <path id="DejaVuSans-73" d="M 2834 3397 
L 2834 2853 
Q 2591 2978 2328 3040 
Q 2066 3103 1784 3103 
Q 1356 3103 1142 2972 
Q 928 2841 928 2578 
Q 928 2378 1081 2264 
Q 1234 2150 1697 2047 
L 1894 2003 
Q 2506 1872 2764 1633 
Q 3022 1394 3022 966 
Q 3022 478 2636 193 
Q 2250 -91 1575 -91 
Q 1294 -91 989 -36 
Q 684 19 347 128 
L 347 722 
Q 666 556 975 473 
Q 1284 391 1588 391 
Q 1994 391 2212 530 
Q 2431 669 2431 922 
Q 2431 1156 2273 1281 
Q 2116 1406 1581 1522 
L 1381 1569 
Q 847 1681 609 1914 
Q 372 2147 372 2553 
Q 372 3047 722 3315 
Q 1072 3584 1716 3584 
Q 2034 3584 2315 3537 
Q 2597 3491 2834 3397 
z
" transform="scale(0.015625)"/>
      <path id="DejaVuSans-30" d="M 2034 4250 
Q 1547 4250 1301 3770 
Q 1056 3291 1056 2328 
Q 1056 1369 1301 889 
Q 1547 409 2034 409 
Q 2525 409 2770 889 
Q 3016 1369 3016 2328 
Q 3016 3291 2770 3770 
Q 2525 4250 2034 4250 
z
M 2034 4750 
Q 2819 4750 3233 4129 
Q 3647 3509 3647 2328 
Q 3647 1150 3233 529 
Q 2819 -91 2034 -91 
Q 1250 -91 836 529 
Q 422 1150 422 2328 
Q 422 3509 836 4129 
Q 1250 4750 2034 4750 
z
" transform="scale(0.015625)"/>
      <path id="DejaVuSans-39" d="M 703 97 
L 703 672 
Q 941 559 1184 500 
Q 1428 441 1663 441 
Q 2288 441 2617 861 
Q 2947 1281 2994 2138 
Q 2813 1869 2534 1725 
Q 2256 1581 1919 1581 
Q 1219 1581 811 2004 
Q 403 2428 403 3163 
Q 403 3881 828 4315 
Q 1253 4750 1959 4750 
Q 2769 4750 3195 4129 
Q 3622 3509 3622 2328 
Q 3622 1225 3098 567 
Q 2575 -91 1691 -91 
Q 1453 -91 1209 -44 
Q 966 3 703 97 
z
M 1959 2075 
Q 2384 2075 2632 2365 
Q 2881 2656 2881 3163 
Q 2881 3666 2632 3958 
Q 2384 4250 1959 4250 
Q 1534 4250 1286 3958 
Q 1038 3666 1038 3163 
Q 1038 2656 1286 2365 
Q 1534 2075 1959 2075 
z
" transform="scale(0.015625)"/>
      <path id="DejaVuSans-31" d="M 794 531 
L 1825 531 
L 1825 4091 
L 703 3866 
L 703 4441 
L 1819 4666 
L 2450 4666 
L 2450 531 
L 3481 531 
L 3481 0 
L 794 0 
L 794 531 
z
" transform="scale(0.015625)"/>
      <path id="DejaVuSans-38" d="M 2034 2216 
Q 1584 2216 1326 1975 
Q 1069 1734 1069 1313 
Q 1069 891 1326 650 
Q 1584 409 2034 409 
Q 2484 409 2743 651 
Q 3003 894 3003 1313 
Q 3003 1734 2745 1975 
Q 2488 2216 2034 2216 
z
M 1403 2484 
Q 997 2584 770 2862 
Q 544 3141 544 3541 
Q 544 4100 942 4425 
Q 1341 4750 2034 4750 
Q 2731 4750 3128 4425 
Q 3525 4100 3525 3541 
Q 3525 3141 3298 2862 
Q 3072 2584 2669 2484 
Q 3125 2378 3379 2068 
Q 3634 1759 3634 1313 
Q 3634 634 3220 271 
Q 2806 -91 2034 -91 
Q 1263 -91 848 271 
Q 434 634 434 1313 
Q 434 1759 690 2068 
Q 947 2378 1403 2484 
z
M 1172 3481 
Q 1172 3119 1398 2916 
Q 1625 2713 2034 2713 
Q 2441 2713 2670 2916 
Q 2900 3119 2900 3481 
Q 2900 3844 2670 4047 
Q 2441 4250 2034 4250 
Q 1625 4250 1398 4047 
Q 1172 3844 1172 3481 
z
" transform="scale(0.015625)"/>
     </defs>
     <use xlink:href="#DejaVuSans-56"/>
     <use xlink:href="#DejaVuSans-61" transform="translate(60.658203 0)"/>
     <use xlink:href="#DejaVuSans-72" transform="translate(121.9375 0)"/>
     <use xlink:href="#DejaVuSans-69" transform="translate(163.050781 0)"/>
     <use xlink:href="#DejaVuSans-61" transform="translate(190.833984 0)"/>
     <use xlink:href="#DejaVuSans-62" transform="translate(252.113281 0)"/>
     <use xlink:href="#DejaVuSans-6c" transform="translate(315.589844 0)"/>
     <use xlink:href="#DejaVuSans-65" transform="translate(343.373047 0)"/>
     <use xlink:href="#DejaVuSans-3a" transform="translate(404.896484 0)"/>
     <use xlink:href="#DejaVuSans-20" transform="translate(438.587891 0)"/>
     <use xlink:href="#DejaVuSans-54" transform="translate(470.375 0)"/>
     <use xlink:href="#DejaVuSans-32" transform="translate(531.458984 0)"/>
     <use xlink:href="#DejaVuSans-4d" transform="translate(595.082031 0)"/>
     <use xlink:href="#DejaVuSans-49" transform="translate(681.361328 0)"/>
     <use xlink:href="#DejaVuSans-4e" transform="translate(710.853516 0)"/>
     <use xlink:href="#DejaVuSans-2c" transform="translate(785.658203 0)"/>
     <use xlink:href="#DejaVuSans-20" transform="translate(817.445312 0)"/>
     <use xlink:href="#DejaVuSans-53" transform="translate(849.232422 0)"/>
     <use xlink:href="#DejaVuSans-65" transform="translate(912.708984 0)"/>
     <use xlink:href="#DejaVuSans-61" transform="translate(974.232422 0)"/>
     <use xlink:href="#DejaVuSans-73" transform="translate(1035.511719 0)"/>
     <use xlink:href="#DejaVuSans-6f" transform="translate(1087.611328 0)"/>
     <use xlink:href="#DejaVuSans-6e" transform="translate(1148.792969 0)"/>
     <use xlink:href="#DejaVuSans-3a" transform="translate(1212.171875 0)"/>
     <use xlink:href="#DejaVuSans-20" transform="translate(1245.863281 0)"/>
     <use xlink:href="#DejaVuSans-46" transform="translate(1277.650391 0)"/>
     <use xlink:href="#DejaVuSans-4d" transform="translate(1335.169922 0)"/>
     <use xlink:href="#DejaVuSans-41" transform="translate(1421.449219 0)"/>
     <use xlink:href="#DejaVuSans-2c" transform="translate(1489.857422 0)"/>
     <use xlink:href="#DejaVuSans-20" transform="translate(1521.644531 0)"/>
     <use xlink:href="#DejaVuSans-53" transform="translate(1553.431641 0)"/>
     <use xlink:href="#DejaVuSans-74" transform="translate(1616.908203 0)"/>
     <use xlink:href="#DejaVuSans-61" transform="translate(1656.117188 0)"/>
     <use xlink:href="#DejaVuSans-72" transform="translate(1717.396484 0)"/>
     <use xlink:href="#DejaVuSans-74" transform="translate(1758.509766 0)"/>
     <use xlink:href="#DejaVuSans-3a" transform="translate(1797.71875 0)"/>
     <use xlink:href="#DejaVuSans-20" transform="translate(1831.410156 0)"/>
     <use xlink:href="#DejaVuSans-30" transform="translate(1863.197266 0)"/>
     <use xlink:href="#DejaVuSans-39" transform="translate(1926.820312 0)"/>
     <use xlink:href="#DejaVuSans-31" transform="translate(1990.443359 0)"/>
     <use xlink:href="#DejaVuSans-38" transform="translate(2054.066406 0)"/>
    </g>
   </g>
   <g id="text_3">
    <!-- 0.0 -->
    <g transform="translate(743.376 419.503219) scale(0.1 -0.1)">
     <defs>
      <path id="DejaVuSans-2e" d="M 684 794 
L 1344 794 
L 1344 0 
L 684 0 
L 684 794 
z
" transform="scale(0.015625)"/>
     </defs>
     <use xlink:href="#DejaVuSans-30"/>
     <use xlink:href="#DejaVuSans-2e" transform="translate(63.623047 0)"/>
     <use xlink:href="#DejaVuSans-30" transform="translate(95.410156 0)"/>
    </g>
   </g>
   <g id="text_4">
    <!-- 0.1 -->
    <g transform="translate(743.376 387.254419) scale(0.1 -0.1)">
     <use xlink:href="#DejaVuSans-30"/>
     <use xlink:href="#DejaVuSans-2e" transform="translate(63.623047 0)"/>
     <use xlink:href="#DejaVuSans-31" transform="translate(95.410156 0)"/>
    </g>
   </g>
   <g id="text_5">
    <!-- 0.2 -->
    <g transform="translate(743.376 355.005619) scale(0.1 -0.1)">
     <use xlink:href="#DejaVuSans-30"/>
     <use xlink:href="#DejaVuSans-2e" transform="translate(63.623047 0)"/>
     <use xlink:href="#DejaVuSans-32" transform="translate(95.410156 0)"/>
    </g>
   </g>
   <g id="text_6">
    <!-- 0.3 -->
    <g transform="translate(743.376 322.756819) scale(0.1 -0.1)">
     <defs>
      <path id="DejaVuSans-33" d="M 2597 2516 
Q 3050 2419 3304 2112 
Q 3559 1806 3559 1356 
Q 3559 666 3084 287 
Q 2609 -91 1734 -91 
Q 1441 -91 1130 -33 
Q 819 25 488 141 
L 488 750 
Q 750 597 1062 519 
Q 1375 441 1716 441 
Q 2309 441 2620 675 
Q 2931 909 2931 1356 
Q 2931 1769 2642 2001 
Q 2353 2234 1838 2234 
L 1294 2234 
L 1294 2753 
L 1863 2753 
Q 2328 2753 2575 2939 
Q 2822 3125 2822 3475 
Q 2822 3834 2567 4026 
Q 2313 4219 1838 4219 
Q 1578 4219 1281 4162 
Q 984 4106 628 3988 
L 628 4550 
Q 988 4650 1302 4700 
Q 1616 4750 1894 4750 
Q 2613 4750 3031 4423 
Q 3450 4097 3450 3541 
Q 3450 3153 3228 2886 
Q 3006 2619 2597 2516 
z
" transform="scale(0.015625)"/>
     </defs>
     <use xlink:href="#DejaVuSans-30"/>
     <use xlink:href="#DejaVuSans-2e" transform="translate(63.623047 0)"/>
     <use xlink:href="#DejaVuSans-33" transform="translate(95.410156 0)"/>
    </g>
   </g>
   <g id="text_7">
    <!-- 0.4 -->
    <g transform="translate(743.376 290.508019) scale(0.1 -0.1)">
     <defs>
      <path id="DejaVuSans-34" d="M 2419 4116 
L 825 1625 
L 2419 1625 
L 2419 4116 
z
M 2253 4666 
L 3047 4666 
L 3047 1625 
L 3713 1625 
L 3713 1100 
L 3047 1100 
L 3047 0 
L 2419 0 
L 2419 1100 
L 313 1100 
L 313 1709 
L 2253 4666 
z
" transform="scale(0.015625)"/>
     </defs>
     <use xlink:href="#DejaVuSans-30"/>
     <use xlink:href="#DejaVuSans-2e" transform="translate(63.623047 0)"/>
     <use xlink:href="#DejaVuSans-34" transform="translate(95.410156 0)"/>
    </g>
   </g>
   <g id="text_8">
    <!-- 0.5 -->
    <g transform="translate(743.376 258.259219) scale(0.1 -0.1)">
     <defs>
      <path id="DejaVuSans-35" d="M 691 4666 
L 3169 4666 
L 3169 4134 
L 1269 4134 
L 1269 2991 
Q 1406 3038 1543 3061 
Q 1681 3084 1819 3084 
Q 2600 3084 3056 2656 
Q 3513 2228 3513 1497 
Q 3513 744 3044 326 
Q 2575 -91 1722 -91 
Q 1428 -91 1123 -41 
Q 819 9 494 109 
L 494 744 
Q 775 591 1075 516 
Q 1375 441 1709 441 
Q 2250 441 2565 725 
Q 2881 1009 2881 1497 
Q 2881 1984 2565 2268 
Q 2250 2553 1709 2553 
Q 1456 2553 1204 2497 
Q 953 2441 691 2322 
L 691 4666 
z
" transform="scale(0.015625)"/>
     </defs>
     <use xlink:href="#DejaVuSans-30"/>
     <use xlink:href="#DejaVuSans-2e" transform="translate(63.623047 0)"/>
     <use xlink:href="#DejaVuSans-35" transform="translate(95.410156 0)"/>
    </g>
   </g>
   <g id="text_9">
    <!-- 0.6 -->
    <g transform="translate(743.376 226.010419) scale(0.1 -0.1)">
     <defs>
      <path id="DejaVuSans-36" d="M 2113 2584 
Q 1688 2584 1439 2293 
Q 1191 2003 1191 1497 
Q 1191 994 1439 701 
Q 1688 409 2113 409 
Q 2538 409 2786 701 
Q 3034 994 3034 1497 
Q 3034 2003 2786 2293 
Q 2538 2584 2113 2584 
z
M 3366 4563 
L 3366 3988 
Q 3128 4100 2886 4159 
Q 2644 4219 2406 4219 
Q 1781 4219 1451 3797 
Q 1122 3375 1075 2522 
Q 1259 2794 1537 2939 
Q 1816 3084 2150 3084 
Q 2853 3084 3261 2657 
Q 3669 2231 3669 1497 
Q 3669 778 3244 343 
Q 2819 -91 2113 -91 
Q 1303 -91 875 529 
Q 447 1150 447 2328 
Q 447 3434 972 4092 
Q 1497 4750 2381 4750 
Q 2619 4750 2861 4703 
Q 3103 4656 3366 4563 
z
" transform="scale(0.015625)"/>
     </defs>
     <use xlink:href="#DejaVuSans-30"/>
     <use xlink:href="#DejaVuSans-2e" transform="translate(63.623047 0)"/>
     <use xlink:href="#DejaVuSans-36" transform="translate(95.410156 0)"/>
    </g>
   </g>
   <g id="text_10">
    <!-- 0.7 -->
    <g transform="translate(743.376 193.761619) scale(0.1 -0.1)">
     <defs>
      <path id="DejaVuSans-37" d="M 525 4666 
L 3525 4666 
L 3525 4397 
L 1831 0 
L 1172 0 
L 2766 4134 
L 525 4134 
L 525 4666 
z
" transform="scale(0.015625)"/>
     </defs>
     <use xlink:href="#DejaVuSans-30"/>
     <use xlink:href="#DejaVuSans-2e" transform="translate(63.623047 0)"/>
     <use xlink:href="#DejaVuSans-37" transform="translate(95.410156 0)"/>
    </g>
   </g>
   <g id="text_11">
    <!-- 0.8 -->
    <g transform="translate(743.376 161.512819) scale(0.1 -0.1)">
     <use xlink:href="#DejaVuSans-30"/>
     <use xlink:href="#DejaVuSans-2e" transform="translate(63.623047 0)"/>
     <use xlink:href="#DejaVuSans-38" transform="translate(95.410156 0)"/>
    </g>
   </g>
   <g id="text_12">
    <!-- 0.9 -->
    <g transform="translate(743.376 129.264019) scale(0.1 -0.1)">
     <use xlink:href="#DejaVuSans-30"/>
     <use xlink:href="#DejaVuSans-2e" transform="translate(63.623047 0)"/>
     <use xlink:href="#DejaVuSans-39" transform="translate(95.410156 0)"/>
    </g>
   </g>
   <g id="text_13">
    <!-- 1.0 -->
    <g transform="translate(743.376 97.015219) scale(0.1 -0.1)">
     <use xlink:href="#DejaVuSans-31"/>
     <use xlink:href="#DejaVuSans-2e" transform="translate(63.623047 0)"/>
     <use xlink:href="#DejaVuSans-30" transform="translate(95.410156 0)"/>
    </g>
   </g>
   <g id="text_14">
    <!-- Hit Rate -->
    <g transform="translate(770.544 274.620937) rotate(-90) scale(0.1 -0.1)">
     <use xlink:href="#DejaVuSans-48"/>
     <use xlink:href="#DejaVuSans-69" transform="translate(75.195312 0)"/>
     <use xlink:href="#DejaVuSans-74" transform="translate(102.978516 0)"/>
     <use xlink:href="#DejaVuSans-20" transform="translate(142.1875 0)"/>
     <use xlink:href="#DejaVuSans-52" transform="translate(173.974609 0)"/>
     <use xlink:href="#DejaVuSans-61" transform="translate(241.207031 0)"/>
     <use xlink:href="#DejaVuSans-74" transform="translate(302.486328 0)"/>
     <use xlink:href="#DejaVuSans-65" transform="translate(341.695312 0)"/>
    </g>
   </g>
  </g>
 </g>
 <defs>
  <clipPath id="p477be52f25">
   <rect x="0" y="0" width="780" height="473.04"/>
  </clipPath>
  <clipPath id="pce07e9bbc1">
   <rect x="7.296" y="42.768" width="669.624" height="423.144"/>
  </clipPath>
 </defs>
</svg>

</body></html>
